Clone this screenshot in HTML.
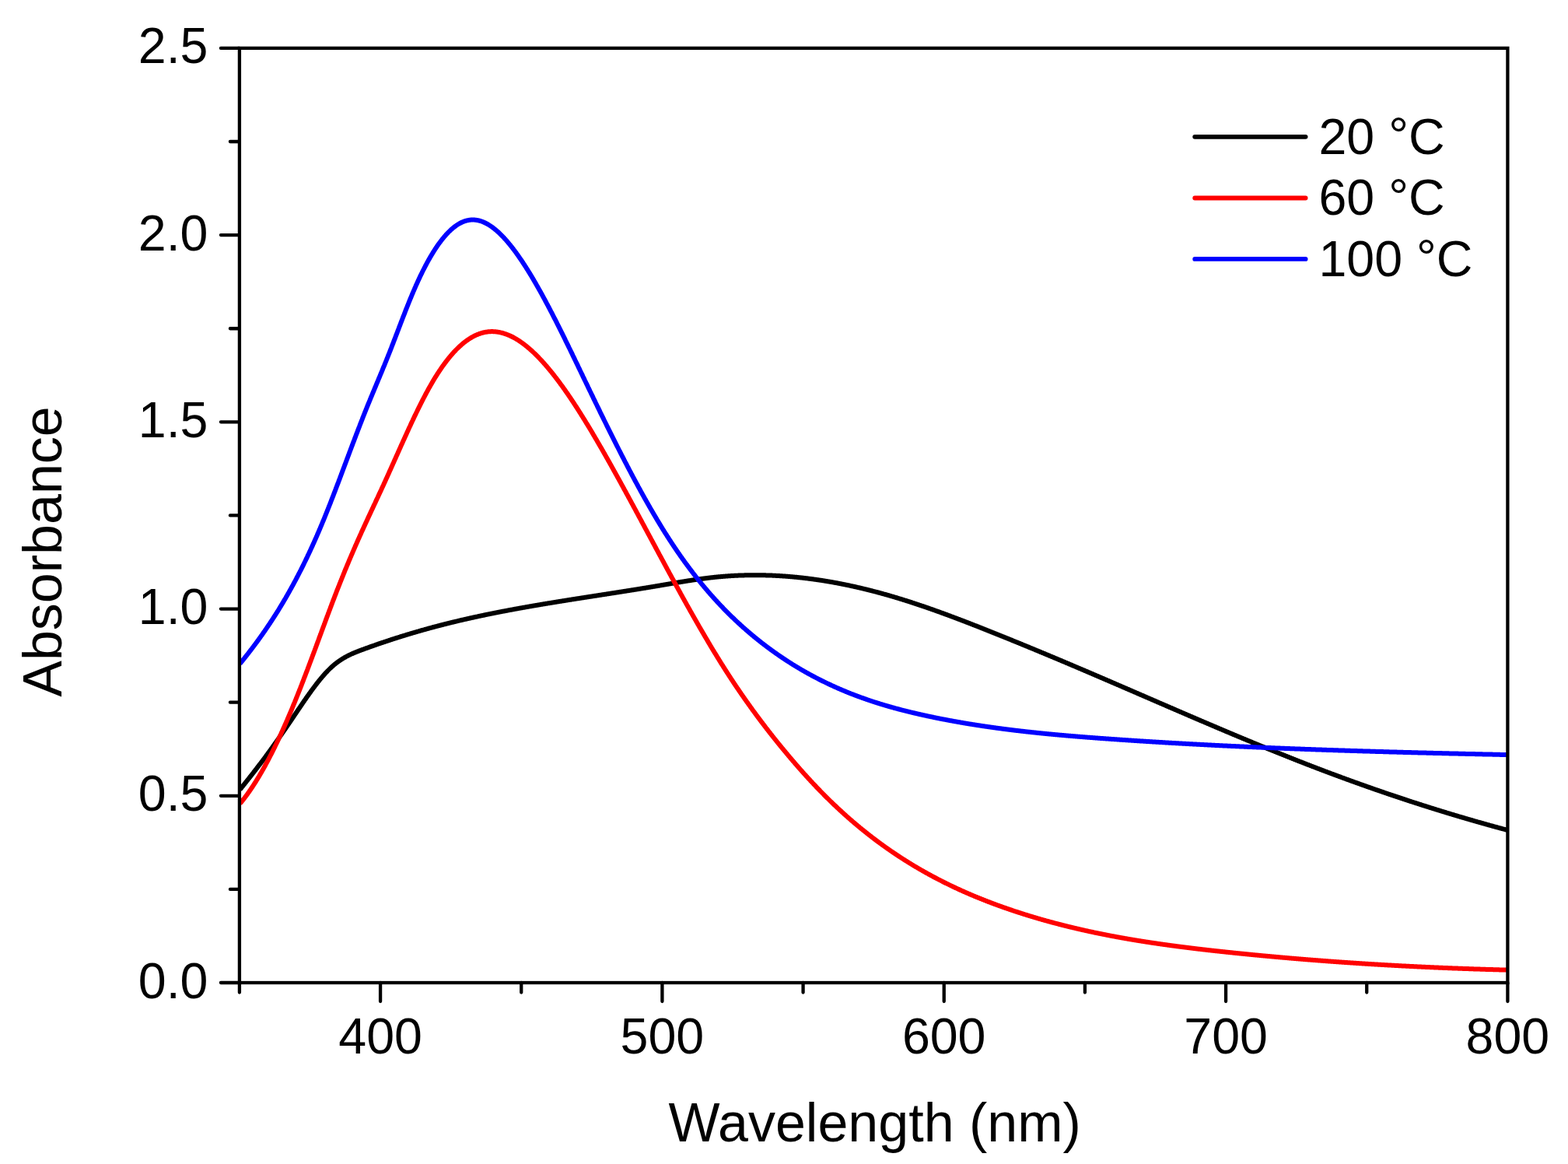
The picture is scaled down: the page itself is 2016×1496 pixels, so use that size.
<!DOCTYPE html>
<html><head><meta charset="utf-8"><title>Absorbance vs Wavelength</title>
<style>
html,body{margin:0;padding:0;background:#fff;}
svg{display:block;}
.t{font-family:"Liberation Sans",Arial,sans-serif;font-size:64.5px;fill:#000;}
.h{font-family:"Liberation Sans",Arial,sans-serif;font-size:70px;fill:#000;}
.l{font-family:"Liberation Sans",Arial,sans-serif;font-size:64.5px;fill:#000;}
</style></head>
<body>
<svg width="2016" height="1496" viewBox="0 0 2016 1496">
<rect width="2016" height="1496" fill="#fff"/>
<path d="M308.5,1014.9 309.0,1014.2 309.5,1013.6 310.0,1013.0 310.5,1012.4 311.0,1011.7 311.5,1011.1 312.0,1010.5 312.5,1009.9 313.0,1009.2 313.5,1008.6 314.0,1008.0 314.5,1007.4 315.0,1006.7 315.5,1006.1 316.0,1005.5 316.5,1004.8 317.0,1004.2 317.5,1003.6 318.0,1003.0 318.5,1002.3 319.0,1001.7 319.5,1001.1 320.0,1000.4 320.5,999.8 321.0,999.2 321.5,998.5 322.0,997.9 322.5,997.2 323.0,996.6 323.5,996.0 324.0,995.3 324.5,994.7 325.0,994.1 325.5,993.4 326.0,992.8 326.5,992.1 327.0,991.5 327.5,990.8 328.0,990.2 328.5,989.5 329.0,988.9 329.5,988.3 330.0,987.6 330.5,987.0 331.0,986.3 331.5,985.6 332.0,985.0 332.5,984.3 333.0,983.7 333.5,983.0 334.0,982.4 334.5,981.7 335.0,981.1 335.5,980.4 336.0,979.7 336.5,979.1 337.0,978.4 337.5,977.7 338.0,977.1 338.5,976.4 339.0,975.7 339.5,975.1 340.0,974.4 340.5,973.7 341.0,973.1 341.5,972.4 342.0,971.7 342.5,971.0 343.0,970.4 343.5,969.7 344.0,969.0 344.5,968.3 345.0,967.6 345.5,967.0 346.0,966.3 346.5,965.6 347.0,964.9 347.5,964.2 348.0,963.5 348.5,962.8 349.0,962.1 349.5,961.4 350.0,960.7 350.5,960.0 351.0,959.3 351.5,958.6 352.0,957.9 352.5,957.2 353.0,956.5 353.5,955.8 354.0,955.1 354.5,954.4 355.0,953.7 355.5,953.0 356.0,952.3 356.5,951.6 357.0,950.9 357.5,950.1 358.0,949.4 358.5,948.7 359.0,948.0 359.5,947.3 360.0,946.6 360.5,945.8 361.0,945.1 361.5,944.4 362.0,943.7 362.5,943.0 363.0,942.2 363.5,941.5 364.0,940.8 364.5,940.1 365.0,939.3 365.5,938.6 366.0,937.9 366.5,937.2 367.0,936.4 367.5,935.7 368.0,935.0 368.5,934.2 369.0,933.5 369.5,932.8 370.0,932.0 370.5,931.3 371.0,930.6 371.5,929.8 372.0,929.1 372.5,928.4 373.0,927.6 373.5,926.9 374.0,926.1 374.5,925.4 375.0,924.7 375.5,923.9 376.0,923.2 376.5,922.4 377.0,921.7 377.5,921.0 378.0,920.2 378.5,919.5 379.0,918.7 379.5,918.0 380.0,917.3 380.5,916.5 381.0,915.8 381.5,915.0 382.0,914.3 382.5,913.6 383.0,912.8 383.5,912.1 384.0,911.3 384.5,910.6 385.0,909.9 385.5,909.1 386.0,908.4 386.5,907.6 387.0,906.9 387.5,906.2 388.0,905.4 388.5,904.7 389.0,904.0 389.5,903.2 390.0,902.5 390.5,901.8 391.0,901.1 391.5,900.3 392.0,899.6 392.5,898.9 393.0,898.2 393.5,897.5 394.0,896.7 394.5,896.0 395.0,895.3 395.5,894.6 396.0,893.9 396.5,893.2 397.0,892.5 397.5,891.8 398.0,891.1 398.5,890.4 399.0,889.7 399.5,889.0 400.0,888.3 400.5,887.6 401.0,886.9 401.5,886.3 402.0,885.6 402.5,884.9 403.0,884.2 403.5,883.6 404.0,882.9 404.5,882.2 405.0,881.6 405.5,880.9 406.0,880.3 406.5,879.6 407.0,879.0 407.5,878.3 408.0,877.7 408.5,877.0 409.0,876.4 409.5,875.8 410.0,875.2 410.5,874.5 411.0,873.9 411.5,873.3 412.0,872.7 412.5,872.1 413.0,871.5 413.5,870.9 414.0,870.3 414.5,869.7 415.0,869.1 415.5,868.6 416.0,868.0 416.5,867.4 417.0,866.9 417.5,866.3 418.0,865.7 418.5,865.2 419.0,864.7 419.5,864.1 420.0,863.6 420.5,863.1 421.0,862.5 421.5,862.0 422.0,861.5 422.5,861.0 423.0,860.5 423.5,860.0 424.0,859.5 424.5,859.0 425.0,858.6 425.5,858.1 426.0,857.6 426.5,857.2 427.0,856.7 427.5,856.3 428.0,855.8 428.5,855.4 429.0,854.9 429.5,854.5 430.0,854.1 430.5,853.7 431.0,853.3 431.5,852.9 432.0,852.5 432.5,852.1 433.0,851.7 433.5,851.4 434.0,851.0 434.5,850.6 435.0,850.3 435.5,849.9 436.0,849.5 436.5,849.2 437.0,848.9 437.5,848.5 438.0,848.2 438.5,847.9 439.0,847.5 439.5,847.2 440.0,846.9 440.5,846.6 441.0,846.3 441.5,846.0 442.0,845.7 442.5,845.4 443.0,845.1 443.5,844.8 444.0,844.6 444.5,844.3 445.0,844.0 445.5,843.7 446.0,843.5 446.5,843.2 447.0,843.0 447.5,842.7 448.0,842.4 448.5,842.2 449.0,842.0 449.5,841.7 450.0,841.5 450.5,841.2 451.0,841.0 451.5,840.8 452.0,840.5 452.5,840.3 453.0,840.1 453.5,839.9 454.0,839.7 454.5,839.4 455.0,839.2 455.5,839.0 456.0,838.8 456.5,838.6 457.0,838.4 457.5,838.2 458.0,838.0 458.5,837.8 459.0,837.6 459.5,837.4 460.0,837.2 460.5,837.0 461.0,836.8 461.5,836.6 462.0,836.4 462.5,836.2 463.0,836.0 463.5,835.8 464.0,835.7 464.5,835.5 465.0,835.3 465.5,835.1 466.0,834.9 466.5,834.7 467.0,834.6 467.5,834.4 468.0,834.2 468.5,834.0 469.0,833.8 469.5,833.6 470.0,833.5 470.5,833.3 471.0,833.1 471.5,832.9 472.0,832.7 472.5,832.6 473.0,832.4 473.5,832.2 474.0,832.0 474.5,831.8 475.0,831.7 475.5,831.5 476.0,831.3 476.5,831.1 477.0,830.9 477.5,830.8 478.0,830.6 478.5,830.4 479.0,830.2 479.5,830.1 480.0,829.9 480.5,829.7 481.0,829.5 481.5,829.4 482.0,829.2 482.5,829.0 483.0,828.8 483.5,828.7 484.0,828.5 484.5,828.3 485.0,828.1 485.5,828.0 486.0,827.8 486.5,827.6 487.0,827.4 487.5,827.3 488.0,827.1 488.5,826.9 489.0,826.8 489.5,826.6 490.0,826.4 490.5,826.3 491.0,826.1 491.5,825.9 492.0,825.7 492.5,825.6 493.0,825.4 493.5,825.2 494.0,825.1 494.5,824.9 495.0,824.7 495.5,824.6 496.0,824.4 496.5,824.2 497.0,824.1 497.5,823.9 498.0,823.7 498.5,823.6 499.0,823.4 499.5,823.2 500.0,823.1 500.5,822.9 501.0,822.7 501.5,822.6 502.0,822.4 502.5,822.3 503.0,822.1 503.5,821.9 504.0,821.8 504.5,821.6 505.0,821.4 505.5,821.3 506.0,821.1 506.5,821.0 507.0,820.8 507.5,820.6 508.0,820.5 508.5,820.3 509.0,820.2 509.5,820.0 510.0,819.8 510.5,819.7 511.0,819.5 511.5,819.4 512.0,819.2 512.5,819.0 513.0,818.9 513.5,818.7 514.0,818.6 514.5,818.4 515.0,818.3 515.5,818.1 516.0,817.9 516.5,817.8 517.0,817.6 517.5,817.5 518.0,817.3 518.5,817.2 519.0,817.0 519.5,816.9 520.0,816.7 520.5,816.6 521.0,816.4 521.5,816.2 522.0,816.1 522.5,815.9 523.0,815.8 523.5,815.6 524.0,815.5 524.5,815.3 525.0,815.2 525.5,815.0 526.0,814.9 526.5,814.7 527.0,814.6 527.5,814.4 528.0,814.3 528.5,814.1 529.0,814.0 529.5,813.8 530.0,813.7 530.5,813.5 531.0,813.4 531.5,813.2 532.0,813.1 532.5,813.0 533.0,812.8 533.5,812.7 534.0,812.5 534.5,812.4 535.0,812.2 535.5,812.1 536.0,811.9 536.5,811.8 537.0,811.6 537.5,811.5 538.0,811.4 538.5,811.2 539.0,811.1 539.5,810.9 540.0,810.8 540.5,810.6 541.0,810.5 541.5,810.3 542.0,810.2 542.5,810.1 543.0,809.9 543.5,809.8 544.0,809.6 544.5,809.5 545.0,809.4 545.5,809.2 546.0,809.1 546.5,808.9 547.0,808.8 547.5,808.7 548.0,808.5 548.5,808.4 549.0,808.2 549.5,808.1 550.0,808.0 550.5,807.8 551.0,807.7 551.5,807.6 552.0,807.4 552.5,807.3 553.0,807.1 553.5,807.0 554.0,806.9 554.5,806.7 555.0,806.6 555.5,806.5 556.0,806.3 556.5,806.2 557.0,806.1 557.5,805.9 558.0,805.8 558.5,805.7 559.0,805.5 559.5,805.4 560.0,805.3 560.5,805.1 561.0,805.0 561.5,804.9 562.0,804.7 562.5,804.6 563.0,804.5 563.5,804.3 564.0,804.2 564.5,804.1 565.0,804.0 565.5,803.8 566.0,803.7 566.5,803.6 567.0,803.4 567.5,803.3 568.0,803.2 568.5,803.1 569.0,802.9 569.5,802.8 570.0,802.7 570.5,802.5 571.0,802.4 571.5,802.3 572.0,802.2 572.5,802.0 573.0,801.9 573.5,801.8 574.0,801.7 574.5,801.5 575.0,801.4 575.5,801.3 576.0,801.2 576.5,801.0 577.0,800.9 577.5,800.8 578.0,800.7 578.5,800.5 579.0,800.4 579.5,800.3 580.0,800.2 580.5,800.0 581.0,799.9 581.5,799.8 582.0,799.7 582.5,799.6 583.0,799.4 583.5,799.3 584.0,799.2 584.5,799.1 585.0,799.0 585.5,798.8 586.0,798.7 586.5,798.6 587.0,798.5 587.5,798.4 588.0,798.2 588.5,798.1 589.0,798.0 589.5,797.9 590.0,797.8 590.5,797.6 591.0,797.5 591.5,797.4 592.0,797.3 592.5,797.2 593.0,797.1 593.5,796.9 594.0,796.8 594.5,796.7 595.0,796.6 595.5,796.5 596.0,796.4 596.5,796.3 597.0,796.1 597.5,796.0 598.0,795.9 598.5,795.8 599.0,795.7 599.5,795.6 600.0,795.5 600.5,795.3 601.0,795.2 601.5,795.1 602.0,795.0 602.5,794.9 603.0,794.8 603.5,794.7 604.0,794.6 604.5,794.4 605.0,794.3 605.5,794.2 606.0,794.1 606.5,794.0 607.0,793.9 607.5,793.8 608.0,793.7 608.5,793.6 609.0,793.4 609.5,793.3 610.0,793.2 610.5,793.1 611.0,793.0 611.5,792.9 612.0,792.8 612.5,792.7 613.0,792.6 613.5,792.5 614.0,792.4 614.5,792.2 615.0,792.1 615.5,792.0 616.0,791.9 616.5,791.8 617.0,791.7 617.5,791.6 618.0,791.5 618.5,791.4 619.0,791.3 619.5,791.2 620.0,791.1 620.5,791.0 621.0,790.9 621.5,790.8 622.0,790.7 622.5,790.6 623.0,790.4 623.5,790.3 624.0,790.2 624.5,790.1 625.0,790.0 625.5,789.9 626.0,789.8 626.5,789.7 627.0,789.6 627.5,789.5 628.0,789.4 628.5,789.3 629.0,789.2 629.5,789.1 630.0,789.0 630.5,788.9 631.0,788.8 631.5,788.7 632.0,788.6 632.5,788.5 633.0,788.4 633.5,788.3 634.0,788.2 634.5,788.1 635.0,788.0 635.5,787.9 636.0,787.8 636.5,787.7 637.0,787.6 637.5,787.5 638.0,787.4 638.5,787.3 639.0,787.2 639.5,787.1 640.0,787.0 640.5,786.9 641.0,786.8 641.5,786.7 642.0,786.6 642.5,786.5 643.0,786.4 643.5,786.3 644.0,786.2 644.5,786.1 645.0,786.0 645.5,785.9 646.0,785.8 646.5,785.7 647.0,785.6 647.5,785.5 648.0,785.4 648.5,785.4 649.0,785.3 649.5,785.2 650.0,785.1 650.5,785.0 651.0,784.9 651.5,784.8 652.0,784.7 652.5,784.6 653.0,784.5 653.5,784.4 654.0,784.3 654.5,784.2 655.0,784.1 655.5,784.0 656.0,783.9 656.5,783.8 657.0,783.7 657.5,783.7 658.0,783.6 658.5,783.5 659.0,783.4 659.5,783.3 660.0,783.2 660.5,783.1 661.0,783.0 661.5,782.9 662.0,782.8 662.5,782.7 663.0,782.6 663.5,782.5 664.0,782.5 664.5,782.4 665.0,782.3 665.5,782.2 666.0,782.1 666.5,782.0 667.0,781.9 667.5,781.8 668.0,781.7 668.5,781.6 669.0,781.5 669.5,781.5 670.0,781.4 670.5,781.3 671.0,781.2 671.5,781.1 672.0,781.0 672.5,780.9 673.0,780.8 673.5,780.7 674.0,780.7 674.5,780.6 675.0,780.5 675.5,780.4 676.0,780.3 676.5,780.2 677.0,780.1 677.5,780.0 678.0,779.9 678.5,779.9 679.0,779.8 679.5,779.7 680.0,779.6 680.5,779.5 681.0,779.4 681.5,779.3 682.0,779.2 682.5,779.2 683.0,779.1 683.5,779.0 684.0,778.9 684.5,778.8 685.0,778.7 685.5,778.6 686.0,778.6 686.5,778.5 687.0,778.4 687.5,778.3 688.0,778.2 688.5,778.1 689.0,778.0 689.5,778.0 690.0,777.9 690.5,777.8 691.0,777.7 691.5,777.6 692.0,777.5 692.5,777.4 693.0,777.4 693.5,777.3 694.0,777.2 694.5,777.1 695.0,777.0 695.5,776.9 696.0,776.8 696.5,776.8 697.0,776.7 697.5,776.6 698.0,776.5 698.5,776.4 699.0,776.3 699.5,776.3 700.0,776.2 700.5,776.1 701.0,776.0 701.5,775.9 702.0,775.8 702.5,775.8 703.0,775.7 703.5,775.6 704.0,775.5 704.5,775.4 705.0,775.3 705.5,775.3 706.0,775.2 706.5,775.1 707.0,775.0 707.5,774.9 708.0,774.9 708.5,774.8 709.0,774.7 709.5,774.6 710.0,774.5 710.5,774.4 711.0,774.4 711.5,774.3 712.0,774.2 712.5,774.1 713.0,774.0 713.5,774.0 714.0,773.9 714.5,773.8 715.0,773.7 715.5,773.6 716.0,773.5 716.5,773.5 717.0,773.4 717.5,773.3 718.0,773.2 718.5,773.1 719.0,773.1 719.5,773.0 720.0,772.9 720.5,772.8 721.0,772.7 721.5,772.7 722.0,772.6 722.5,772.5 723.0,772.4 723.5,772.3 724.0,772.3 724.5,772.2 725.0,772.1 725.5,772.0 726.0,771.9 726.5,771.9 727.0,771.8 727.5,771.7 728.0,771.6 728.5,771.5 729.0,771.5 729.5,771.4 730.0,771.3 730.5,771.2 731.0,771.1 731.5,771.1 732.0,771.0 732.5,770.9 733.0,770.8 733.5,770.7 734.0,770.7 734.5,770.6 735.0,770.5 735.5,770.4 736.0,770.3 736.5,770.3 737.0,770.2 737.5,770.1 738.0,770.0 738.5,770.0 739.0,769.9 739.5,769.8 740.0,769.7 740.5,769.6 741.0,769.6 741.5,769.5 742.0,769.4 742.5,769.3 743.0,769.2 743.5,769.2 744.0,769.1 744.5,769.0 745.0,768.9 745.5,768.9 746.0,768.8 746.5,768.7 747.0,768.6 747.5,768.5 748.0,768.5 748.5,768.4 749.0,768.3 749.5,768.2 750.0,768.2 750.5,768.1 751.0,768.0 751.5,767.9 752.0,767.8 752.5,767.8 753.0,767.7 753.5,767.6 754.0,767.5 754.5,767.5 755.0,767.4 755.5,767.3 756.0,767.2 756.5,767.1 757.0,767.1 757.5,767.0 758.0,766.9 758.5,766.8 759.0,766.8 759.5,766.7 760.0,766.6 760.5,766.5 761.0,766.4 761.5,766.4 762.0,766.3 762.5,766.2 763.0,766.1 763.5,766.1 764.0,766.0 764.5,765.9 765.0,765.8 765.5,765.7 766.0,765.7 766.5,765.6 767.0,765.5 767.5,765.4 768.0,765.4 768.5,765.3 769.0,765.2 769.5,765.1 770.0,765.0 770.5,765.0 771.0,764.9 771.5,764.8 772.0,764.7 772.5,764.7 773.0,764.6 773.5,764.5 774.0,764.4 774.5,764.3 775.0,764.3 775.5,764.2 776.0,764.1 776.5,764.0 777.0,764.0 777.5,763.9 778.0,763.8 778.5,763.7 779.0,763.7 779.5,763.6 780.0,763.5 780.5,763.4 781.0,763.3 781.5,763.3 782.0,763.2 782.5,763.1 783.0,763.0 783.5,763.0 784.0,762.9 784.5,762.8 785.0,762.7 785.5,762.6 786.0,762.6 786.5,762.5 787.0,762.4 787.5,762.3 788.0,762.3 788.5,762.2 789.0,762.1 789.5,762.0 790.0,761.9 790.5,761.9 791.0,761.8 791.5,761.7 792.0,761.6 792.5,761.5 793.0,761.5 793.5,761.4 794.0,761.3 794.5,761.2 795.0,761.2 795.5,761.1 796.0,761.0 796.5,760.9 797.0,760.8 797.5,760.8 798.0,760.7 798.5,760.6 799.0,760.5 799.5,760.5 800.0,760.4 800.5,760.3 801.0,760.2 801.5,760.1 802.0,760.1 802.5,760.0 803.0,759.9 803.5,759.8 804.0,759.7 804.5,759.7 805.0,759.6 805.5,759.5 806.0,759.4 806.5,759.3 807.0,759.3 807.5,759.2 808.0,759.1 808.5,759.0 809.0,759.0 809.5,758.9 810.0,758.8 810.5,758.7 811.0,758.6 811.5,758.6 812.0,758.5 812.5,758.4 813.0,758.3 813.5,758.2 814.0,758.2 814.5,758.1 815.0,758.0 815.5,757.9 816.0,757.8 816.5,757.8 817.0,757.7 817.5,757.6 818.0,757.5 818.5,757.4 819.0,757.4 819.5,757.3 820.0,757.2 820.5,757.1 821.0,757.0 821.5,757.0 822.0,756.9 822.5,756.8 823.0,756.7 823.5,756.6 824.0,756.5 824.5,756.5 825.0,756.4 825.5,756.3 826.0,756.2 826.5,756.1 827.0,756.1 827.5,756.0 828.0,755.9 828.5,755.8 829.0,755.7 829.5,755.7 830.0,755.6 830.5,755.5 831.0,755.4 831.5,755.3 832.0,755.2 832.5,755.2 833.0,755.1 833.5,755.0 834.0,754.9 834.5,754.8 835.0,754.7 835.5,754.7 836.0,754.6 836.5,754.5 837.0,754.4 837.5,754.3 838.0,754.2 838.5,754.2 839.0,754.1 839.5,754.0 840.0,753.9 840.5,753.8 841.0,753.7 841.5,753.7 842.0,753.6 842.5,753.5 843.0,753.4 843.5,753.3 844.0,753.2 844.5,753.2 845.0,753.1 845.5,753.0 846.0,752.9 846.5,752.8 847.0,752.7 847.5,752.7 848.0,752.6 848.5,752.5 849.0,752.4 849.5,752.3 850.0,752.2 850.5,752.1 851.0,752.1 851.5,752.0 852.0,751.9 852.5,751.8 853.0,751.7 853.5,751.6 854.0,751.5 854.5,751.5 855.0,751.4 855.5,751.3 856.0,751.2 856.5,751.1 857.0,751.0 857.5,750.9 858.0,750.9 858.5,750.8 859.0,750.7 859.5,750.6 860.0,750.5 860.5,750.4 861.0,750.4 861.5,750.3 862.0,750.2 862.5,750.1 863.0,750.0 863.5,749.9 864.0,749.8 864.5,749.8 865.0,749.7 865.5,749.6 866.0,749.5 866.5,749.4 867.0,749.3 867.5,749.3 868.0,749.2 868.5,749.1 869.0,749.0 869.5,748.9 870.0,748.8 870.5,748.7 871.0,748.7 871.5,748.6 872.0,748.5 872.5,748.4 873.0,748.3 873.5,748.2 874.0,748.2 874.5,748.1 875.0,748.0 875.5,747.9 876.0,747.8 876.5,747.8 877.0,747.7 877.5,747.6 878.0,747.5 878.5,747.4 879.0,747.4 879.5,747.3 880.0,747.2 880.5,747.1 881.0,747.0 881.5,746.9 882.0,746.9 882.5,746.8 883.0,746.7 883.5,746.6 884.0,746.6 884.5,746.5 885.0,746.4 885.5,746.3 886.0,746.2 886.5,746.2 887.0,746.1 887.5,746.0 888.0,745.9 888.5,745.9 889.0,745.8 889.5,745.7 890.0,745.6 890.5,745.6 891.0,745.5 891.5,745.4 892.0,745.3 892.5,745.3 893.0,745.2 893.5,745.1 894.0,745.0 894.5,745.0 895.0,744.9 895.5,744.8 896.0,744.7 896.5,744.7 897.0,744.6 897.5,744.5 898.0,744.5 898.5,744.4 899.0,744.3 899.5,744.2 900.0,744.2 900.5,744.1 901.0,744.0 901.5,744.0 902.0,743.9 902.5,743.8 903.0,743.8 903.5,743.7 904.0,743.6 904.5,743.6 905.0,743.5 905.5,743.4 906.0,743.4 906.5,743.3 907.0,743.2 907.5,743.2 908.0,743.1 908.5,743.1 909.0,743.0 909.5,742.9 910.0,742.9 910.5,742.8 911.0,742.8 911.5,742.7 912.0,742.6 912.5,742.6 913.0,742.5 913.5,742.5 914.0,742.4 914.5,742.3 915.0,742.3 915.5,742.2 916.0,742.2 916.5,742.1 917.0,742.1 917.5,742.0 918.0,742.0 918.5,741.9 919.0,741.8 919.5,741.8 920.0,741.7 920.5,741.7 921.0,741.6 921.5,741.6 922.0,741.5 922.5,741.5 923.0,741.4 923.5,741.4 924.0,741.3 924.5,741.3 925.0,741.3 925.5,741.2 926.0,741.2 926.5,741.1 927.0,741.1 927.5,741.0 928.0,741.0 928.5,740.9 929.0,740.9 929.5,740.9 930.0,740.8 930.5,740.8 931.0,740.7 931.5,740.7 932.0,740.7 932.5,740.6 933.0,740.6 933.5,740.5 934.0,740.5 934.5,740.5 935.0,740.4 935.5,740.4 936.0,740.4 936.5,740.3 937.0,740.3 937.5,740.3 938.0,740.2 938.5,740.2 939.0,740.2 939.5,740.1 940.0,740.1 940.5,740.1 941.0,740.0 941.5,740.0 942.0,740.0 942.5,740.0 943.0,739.9 943.5,739.9 944.0,739.9 944.5,739.8 945.0,739.8 945.5,739.8 946.0,739.8 946.5,739.7 947.0,739.7 947.5,739.7 948.0,739.7 948.5,739.7 949.0,739.6 949.5,739.6 950.0,739.6 950.5,739.6 951.0,739.6 951.5,739.5 952.0,739.5 952.5,739.5 953.0,739.5 953.5,739.5 954.0,739.4 954.5,739.4 955.0,739.4 955.5,739.4 956.0,739.4 956.5,739.4 957.0,739.4 957.5,739.3 958.0,739.3 958.5,739.3 959.0,739.3 959.5,739.3 960.0,739.3 960.5,739.3 961.0,739.3 961.5,739.3 962.0,739.2 962.5,739.2 963.0,739.2 963.5,739.2 964.0,739.2 964.5,739.2 965.0,739.2 965.5,739.2 966.0,739.2 966.5,739.2 967.0,739.2 967.5,739.2 968.0,739.2 968.5,739.2 969.0,739.2 969.5,739.2 970.0,739.2 970.5,739.2 971.0,739.2 971.5,739.2 972.0,739.2 972.5,739.2 973.0,739.2 973.5,739.2 974.0,739.2 974.5,739.2 975.0,739.2 975.5,739.2 976.0,739.2 976.5,739.2 977.0,739.2 977.5,739.2 978.0,739.2 978.5,739.2 979.0,739.2 979.5,739.2 980.0,739.3 980.5,739.3 981.0,739.3 981.5,739.3 982.0,739.3 982.5,739.3 983.0,739.3 983.5,739.3 984.0,739.3 984.5,739.4 985.0,739.4 985.5,739.4 986.0,739.4 986.5,739.4 987.0,739.4 987.5,739.4 988.0,739.5 988.5,739.5 989.0,739.5 989.5,739.5 990.0,739.5 990.5,739.5 991.0,739.6 991.5,739.6 992.0,739.6 992.5,739.6 993.0,739.6 993.5,739.7 994.0,739.7 994.5,739.7 995.0,739.7 995.5,739.8 996.0,739.8 996.5,739.8 997.0,739.8 997.5,739.9 998.0,739.9 998.5,739.9 999.0,739.9 999.5,740.0 1000.0,740.0 1000.5,740.0 1001.0,740.0 1001.5,740.1 1002.0,740.1 1002.5,740.1 1003.0,740.2 1003.5,740.2 1004.0,740.2 1004.5,740.3 1005.0,740.3 1005.5,740.3 1006.0,740.4 1006.5,740.4 1007.0,740.4 1007.5,740.5 1008.0,740.5 1008.5,740.5 1009.0,740.6 1009.5,740.6 1010.0,740.6 1010.5,740.7 1011.0,740.7 1011.5,740.8 1012.0,740.8 1012.5,740.8 1013.0,740.9 1013.5,740.9 1014.0,740.9 1014.5,741.0 1015.0,741.0 1015.5,741.1 1016.0,741.1 1016.5,741.2 1017.0,741.2 1017.5,741.2 1018.0,741.3 1018.5,741.3 1019.0,741.4 1019.5,741.4 1020.0,741.5 1020.5,741.5 1021.0,741.6 1021.5,741.6 1022.0,741.7 1022.5,741.7 1023.0,741.8 1023.5,741.8 1024.0,741.8 1024.5,741.9 1025.0,741.9 1025.5,742.0 1026.0,742.1 1026.5,742.1 1027.0,742.2 1027.5,742.2 1028.0,742.3 1028.5,742.3 1029.0,742.4 1029.5,742.4 1030.0,742.5 1030.5,742.5 1031.0,742.6 1031.5,742.6 1032.0,742.7 1032.5,742.8 1033.0,742.8 1033.5,742.9 1034.0,742.9 1034.5,743.0 1035.0,743.0 1035.5,743.1 1036.0,743.2 1036.5,743.2 1037.0,743.3 1037.5,743.3 1038.0,743.4 1038.5,743.5 1039.0,743.5 1039.5,743.6 1040.0,743.7 1040.5,743.7 1041.0,743.8 1041.5,743.9 1042.0,743.9 1042.5,744.0 1043.0,744.1 1043.5,744.1 1044.0,744.2 1044.5,744.3 1045.0,744.3 1045.5,744.4 1046.0,744.5 1046.5,744.5 1047.0,744.6 1047.5,744.7 1048.0,744.7 1048.5,744.8 1049.0,744.9 1049.5,744.9 1050.0,745.0 1050.5,745.1 1051.0,745.2 1051.5,745.2 1052.0,745.3 1052.5,745.4 1053.0,745.5 1053.5,745.5 1054.0,745.6 1054.5,745.7 1055.0,745.8 1055.5,745.8 1056.0,745.9 1056.5,746.0 1057.0,746.1 1057.5,746.1 1058.0,746.2 1058.5,746.3 1059.0,746.4 1059.5,746.5 1060.0,746.5 1060.5,746.6 1061.0,746.7 1061.5,746.8 1062.0,746.9 1062.5,747.0 1063.0,747.0 1063.5,747.1 1064.0,747.2 1064.5,747.3 1065.0,747.4 1065.5,747.5 1066.0,747.5 1066.5,747.6 1067.0,747.7 1067.5,747.8 1068.0,747.9 1068.5,748.0 1069.0,748.1 1069.5,748.1 1070.0,748.2 1070.5,748.3 1071.0,748.4 1071.5,748.5 1072.0,748.6 1072.5,748.7 1073.0,748.8 1073.5,748.9 1074.0,749.0 1074.5,749.1 1075.0,749.1 1075.5,749.2 1076.0,749.3 1076.5,749.4 1077.0,749.5 1077.5,749.6 1078.0,749.7 1078.5,749.8 1079.0,749.9 1079.5,750.0 1080.0,750.1 1080.5,750.2 1081.0,750.3 1081.5,750.4 1082.0,750.5 1082.5,750.6 1083.0,750.7 1083.5,750.8 1084.0,750.9 1084.5,751.0 1085.0,751.1 1085.5,751.2 1086.0,751.3 1086.5,751.4 1087.0,751.5 1087.5,751.6 1088.0,751.7 1088.5,751.8 1089.0,751.9 1089.5,752.0 1090.0,752.1 1090.5,752.2 1091.0,752.3 1091.5,752.4 1092.0,752.5 1092.5,752.6 1093.0,752.7 1093.5,752.9 1094.0,753.0 1094.5,753.1 1095.0,753.2 1095.5,753.3 1096.0,753.4 1096.5,753.5 1097.0,753.6 1097.5,753.7 1098.0,753.8 1098.5,753.9 1099.0,754.1 1099.5,754.2 1100.0,754.3 1100.5,754.4 1101.0,754.5 1101.5,754.6 1102.0,754.7 1102.5,754.9 1103.0,755.0 1103.5,755.1 1104.0,755.2 1104.5,755.3 1105.0,755.4 1105.5,755.5 1106.0,755.7 1106.5,755.8 1107.0,755.9 1107.5,756.0 1108.0,756.1 1108.5,756.3 1109.0,756.4 1109.5,756.5 1110.0,756.6 1110.5,756.7 1111.0,756.9 1111.5,757.0 1112.0,757.1 1112.5,757.2 1113.0,757.3 1113.5,757.5 1114.0,757.6 1114.5,757.7 1115.0,757.8 1115.5,758.0 1116.0,758.1 1116.5,758.2 1117.0,758.3 1117.5,758.5 1118.0,758.6 1118.5,758.7 1119.0,758.8 1119.5,759.0 1120.0,759.1 1120.5,759.2 1121.0,759.3 1121.5,759.5 1122.0,759.6 1122.5,759.7 1123.0,759.9 1123.5,760.0 1124.0,760.1 1124.5,760.2 1125.0,760.4 1125.5,760.5 1126.0,760.6 1126.5,760.8 1127.0,760.9 1127.5,761.0 1128.0,761.2 1128.5,761.3 1129.0,761.4 1129.5,761.6 1130.0,761.7 1130.5,761.8 1131.0,762.0 1131.5,762.1 1132.0,762.3 1132.5,762.4 1133.0,762.5 1133.5,762.7 1134.0,762.8 1134.5,762.9 1135.0,763.1 1135.5,763.2 1136.0,763.4 1136.5,763.5 1137.0,763.6 1137.5,763.8 1138.0,763.9 1138.5,764.1 1139.0,764.2 1139.5,764.3 1140.0,764.5 1140.5,764.6 1141.0,764.8 1141.5,764.9 1142.0,765.0 1142.5,765.2 1143.0,765.3 1143.5,765.5 1144.0,765.6 1144.5,765.8 1145.0,765.9 1145.5,766.1 1146.0,766.2 1146.5,766.4 1147.0,766.5 1147.5,766.6 1148.0,766.8 1148.5,766.9 1149.0,767.1 1149.5,767.2 1150.0,767.4 1150.5,767.5 1151.0,767.7 1151.5,767.8 1152.0,768.0 1152.5,768.1 1153.0,768.3 1153.5,768.4 1154.0,768.6 1154.5,768.7 1155.0,768.9 1155.5,769.0 1156.0,769.2 1156.5,769.4 1157.0,769.5 1157.5,769.7 1158.0,769.8 1158.5,770.0 1159.0,770.1 1159.5,770.3 1160.0,770.4 1160.5,770.6 1161.0,770.7 1161.5,770.9 1162.0,771.1 1162.5,771.2 1163.0,771.4 1163.5,771.5 1164.0,771.7 1164.5,771.8 1165.0,772.0 1165.5,772.2 1166.0,772.3 1166.5,772.5 1167.0,772.6 1167.5,772.8 1168.0,773.0 1168.5,773.1 1169.0,773.3 1169.5,773.4 1170.0,773.6 1170.5,773.8 1171.0,773.9 1171.5,774.1 1172.0,774.3 1172.5,774.4 1173.0,774.6 1173.5,774.7 1174.0,774.9 1174.5,775.1 1175.0,775.2 1175.5,775.4 1176.0,775.6 1176.5,775.7 1177.0,775.9 1177.5,776.1 1178.0,776.2 1178.5,776.4 1179.0,776.6 1179.5,776.7 1180.0,776.9 1180.5,777.1 1181.0,777.2 1181.5,777.4 1182.0,777.6 1182.5,777.7 1183.0,777.9 1183.5,778.1 1184.0,778.2 1184.5,778.4 1185.0,778.6 1185.5,778.7 1186.0,778.9 1186.5,779.1 1187.0,779.3 1187.5,779.4 1188.0,779.6 1188.5,779.8 1189.0,779.9 1189.5,780.1 1190.0,780.3 1190.5,780.5 1191.0,780.6 1191.5,780.8 1192.0,781.0 1192.5,781.2 1193.0,781.3 1193.5,781.5 1194.0,781.7 1194.5,781.8 1195.0,782.0 1195.5,782.2 1196.0,782.4 1196.5,782.5 1197.0,782.7 1197.5,782.9 1198.0,783.1 1198.5,783.3 1199.0,783.4 1199.5,783.6 1200.0,783.8 1200.5,784.0 1201.0,784.1 1201.5,784.3 1202.0,784.5 1202.5,784.7 1203.0,784.9 1203.5,785.0 1204.0,785.2 1204.5,785.4 1205.0,785.6 1205.5,785.7 1206.0,785.9 1206.5,786.1 1207.0,786.3 1207.5,786.5 1208.0,786.6 1208.5,786.8 1209.0,787.0 1209.5,787.2 1210.0,787.4 1210.5,787.6 1211.0,787.7 1211.5,787.9 1212.0,788.1 1212.5,788.3 1213.0,788.5 1213.5,788.7 1214.0,788.8 1214.5,789.0 1215.0,789.2 1215.5,789.4 1216.0,789.6 1216.5,789.8 1217.0,789.9 1217.5,790.1 1218.0,790.3 1218.5,790.5 1219.0,790.7 1219.5,790.9 1220.0,791.0 1220.5,791.2 1221.0,791.4 1221.5,791.6 1222.0,791.8 1222.5,792.0 1223.0,792.2 1223.5,792.4 1224.0,792.5 1224.5,792.7 1225.0,792.9 1225.5,793.1 1226.0,793.3 1226.5,793.5 1227.0,793.7 1227.5,793.9 1228.0,794.0 1228.5,794.2 1229.0,794.4 1229.5,794.6 1230.0,794.8 1230.5,795.0 1231.0,795.2 1231.5,795.4 1232.0,795.6 1232.5,795.7 1233.0,795.9 1233.5,796.1 1234.0,796.3 1234.5,796.5 1235.0,796.7 1235.5,796.9 1236.0,797.1 1236.5,797.3 1237.0,797.5 1237.5,797.7 1238.0,797.8 1238.5,798.0 1239.0,798.2 1239.5,798.4 1240.0,798.6 1240.5,798.8 1241.0,799.0 1241.5,799.2 1242.0,799.4 1242.5,799.6 1243.0,799.8 1243.5,800.0 1244.0,800.2 1244.5,800.3 1245.0,800.5 1245.5,800.7 1246.0,800.9 1246.5,801.1 1247.0,801.3 1247.5,801.5 1248.0,801.7 1248.5,801.9 1249.0,802.1 1249.5,802.3 1250.0,802.5 1250.5,802.7 1251.0,802.9 1251.5,803.1 1252.0,803.3 1252.5,803.5 1253.0,803.7 1253.5,803.9 1254.0,804.0 1254.5,804.2 1255.0,804.4 1255.5,804.6 1256.0,804.8 1256.5,805.0 1257.0,805.2 1257.5,805.4 1258.0,805.6 1258.5,805.8 1259.0,806.0 1259.5,806.2 1260.0,806.4 1260.5,806.6 1261.0,806.8 1261.5,807.0 1262.0,807.2 1262.5,807.4 1263.0,807.6 1263.5,807.8 1264.0,808.0 1264.5,808.2 1265.0,808.4 1265.5,808.6 1266.0,808.8 1266.5,809.0 1267.0,809.2 1267.5,809.4 1268.0,809.6 1268.5,809.8 1269.0,810.0 1269.5,810.2 1270.0,810.4 1270.5,810.6 1271.0,810.8 1271.5,811.0 1272.0,811.2 1272.5,811.4 1273.0,811.6 1273.5,811.8 1274.0,812.0 1274.5,812.2 1275.0,812.4 1275.5,812.6 1276.0,812.8 1276.5,813.0 1277.0,813.2 1277.5,813.4 1278.0,813.6 1278.5,813.8 1279.0,814.0 1279.5,814.2 1280.0,814.4 1280.5,814.6 1281.0,814.8 1281.5,815.0 1282.0,815.2 1282.5,815.4 1283.0,815.6 1283.5,815.8 1284.0,816.0 1284.5,816.2 1285.0,816.4 1285.5,816.6 1286.0,816.8 1286.5,817.0 1287.0,817.2 1287.5,817.4 1288.0,817.6 1288.5,817.8 1289.0,818.0 1289.5,818.2 1290.0,818.4 1290.5,818.6 1291.0,818.8 1291.5,819.0 1292.0,819.2 1292.5,819.4 1293.0,819.6 1293.5,819.8 1294.0,820.0 1294.5,820.2 1295.0,820.4 1295.5,820.6 1296.0,820.8 1296.5,821.0 1297.0,821.2 1297.5,821.4 1298.0,821.6 1298.5,821.8 1299.0,822.0 1299.5,822.2 1300.0,822.4 1300.5,822.6 1301.0,822.8 1301.5,823.1 1302.0,823.3 1302.5,823.5 1303.0,823.7 1303.5,823.9 1304.0,824.1 1304.5,824.3 1305.0,824.5 1305.5,824.7 1306.0,824.9 1306.5,825.1 1307.0,825.3 1307.5,825.5 1308.0,825.7 1308.5,825.9 1309.0,826.1 1309.5,826.3 1310.0,826.5 1310.5,826.7 1311.0,826.9 1311.5,827.1 1312.0,827.3 1312.5,827.5 1313.0,827.7 1313.5,827.9 1314.0,828.2 1314.5,828.4 1315.0,828.6 1315.5,828.8 1316.0,829.0 1316.5,829.2 1317.0,829.4 1317.5,829.6 1318.0,829.8 1318.5,830.0 1319.0,830.2 1319.5,830.4 1320.0,830.6 1320.5,830.8 1321.0,831.0 1321.5,831.2 1322.0,831.4 1322.5,831.6 1323.0,831.9 1323.5,832.1 1324.0,832.3 1324.5,832.5 1325.0,832.7 1325.5,832.9 1326.0,833.1 1326.5,833.3 1327.0,833.5 1327.5,833.7 1328.0,833.9 1328.5,834.1 1329.0,834.3 1329.5,834.5 1330.0,834.7 1330.5,835.0 1331.0,835.2 1331.5,835.4 1332.0,835.6 1332.5,835.8 1333.0,836.0 1333.5,836.2 1334.0,836.4 1334.5,836.6 1335.0,836.8 1335.5,837.0 1336.0,837.2 1336.5,837.4 1337.0,837.6 1337.5,837.9 1338.0,838.1 1338.5,838.3 1339.0,838.5 1339.5,838.7 1340.0,838.9 1340.5,839.1 1341.0,839.3 1341.5,839.5 1342.0,839.7 1342.5,839.9 1343.0,840.1 1343.5,840.3 1344.0,840.6 1344.5,840.8 1345.0,841.0 1345.5,841.2 1346.0,841.4 1346.5,841.6 1347.0,841.8 1347.5,842.0 1348.0,842.2 1348.5,842.4 1349.0,842.6 1349.5,842.9 1350.0,843.1 1350.5,843.3 1351.0,843.5 1351.5,843.7 1352.0,843.9 1352.5,844.1 1353.0,844.3 1353.5,844.5 1354.0,844.7 1354.5,844.9 1355.0,845.2 1355.5,845.4 1356.0,845.6 1356.5,845.8 1357.0,846.0 1357.5,846.2 1358.0,846.4 1358.5,846.6 1359.0,846.8 1359.5,847.0 1360.0,847.3 1360.5,847.5 1361.0,847.7 1361.5,847.9 1362.0,848.1 1362.5,848.3 1363.0,848.5 1363.5,848.7 1364.0,848.9 1364.5,849.1 1365.0,849.4 1365.5,849.6 1366.0,849.8 1366.5,850.0 1367.0,850.2 1367.5,850.4 1368.0,850.6 1368.5,850.8 1369.0,851.0 1369.5,851.3 1370.0,851.5 1370.5,851.7 1371.0,851.9 1371.5,852.1 1372.0,852.3 1372.5,852.5 1373.0,852.7 1373.5,852.9 1374.0,853.2 1374.5,853.4 1375.0,853.6 1375.5,853.8 1376.0,854.0 1376.5,854.2 1377.0,854.4 1377.5,854.6 1378.0,854.8 1378.5,855.1 1379.0,855.3 1379.5,855.5 1380.0,855.7 1380.5,855.9 1381.0,856.1 1381.5,856.3 1382.0,856.5 1382.5,856.8 1383.0,857.0 1383.5,857.2 1384.0,857.4 1384.5,857.6 1385.0,857.8 1385.5,858.0 1386.0,858.2 1386.5,858.5 1387.0,858.7 1387.5,858.9 1388.0,859.1 1388.5,859.3 1389.0,859.5 1389.5,859.7 1390.0,859.9 1390.5,860.2 1391.0,860.4 1391.5,860.6 1392.0,860.8 1392.5,861.0 1393.0,861.2 1393.5,861.4 1394.0,861.6 1394.5,861.9 1395.0,862.1 1395.5,862.3 1396.0,862.5 1396.5,862.7 1397.0,862.9 1397.5,863.1 1398.0,863.4 1398.5,863.6 1399.0,863.8 1399.5,864.0 1400.0,864.2 1400.5,864.4 1401.0,864.6 1401.5,864.8 1402.0,865.1 1402.5,865.3 1403.0,865.5 1403.5,865.7 1404.0,865.9 1404.5,866.1 1405.0,866.3 1405.5,866.6 1406.0,866.8 1406.5,867.0 1407.0,867.2 1407.5,867.4 1408.0,867.6 1408.5,867.8 1409.0,868.1 1409.5,868.3 1410.0,868.5 1410.5,868.7 1411.0,868.9 1411.5,869.1 1412.0,869.3 1412.5,869.6 1413.0,869.8 1413.5,870.0 1414.0,870.2 1414.5,870.4 1415.0,870.6 1415.5,870.8 1416.0,871.1 1416.5,871.3 1417.0,871.5 1417.5,871.7 1418.0,871.9 1418.5,872.1 1419.0,872.3 1419.5,872.6 1420.0,872.8 1420.5,873.0 1421.0,873.2 1421.5,873.4 1422.0,873.6 1422.5,873.9 1423.0,874.1 1423.5,874.3 1424.0,874.5 1424.5,874.7 1425.0,874.9 1425.5,875.1 1426.0,875.4 1426.5,875.6 1427.0,875.8 1427.5,876.0 1428.0,876.2 1428.5,876.4 1429.0,876.7 1429.5,876.9 1430.0,877.1 1430.5,877.3 1431.0,877.5 1431.5,877.7 1432.0,877.9 1432.5,878.2 1433.0,878.4 1433.5,878.6 1434.0,878.8 1434.5,879.0 1435.0,879.2 1435.5,879.5 1436.0,879.7 1436.5,879.9 1437.0,880.1 1437.5,880.3 1438.0,880.5 1438.5,880.7 1439.0,881.0 1439.5,881.2 1440.0,881.4 1440.5,881.6 1441.0,881.8 1441.5,882.0 1442.0,882.3 1442.5,882.5 1443.0,882.7 1443.5,882.9 1444.0,883.1 1444.5,883.3 1445.0,883.6 1445.5,883.8 1446.0,884.0 1446.5,884.2 1447.0,884.4 1447.5,884.6 1448.0,884.8 1448.5,885.1 1449.0,885.3 1449.5,885.5 1450.0,885.7 1450.5,885.9 1451.0,886.1 1451.5,886.4 1452.0,886.6 1452.5,886.8 1453.0,887.0 1453.5,887.2 1454.0,887.4 1454.5,887.7 1455.0,887.9 1455.5,888.1 1456.0,888.3 1456.5,888.5 1457.0,888.7 1457.5,889.0 1458.0,889.2 1458.5,889.4 1459.0,889.6 1459.5,889.8 1460.0,890.0 1460.5,890.3 1461.0,890.5 1461.5,890.7 1462.0,890.9 1462.5,891.1 1463.0,891.3 1463.5,891.6 1464.0,891.8 1464.5,892.0 1465.0,892.2 1465.5,892.4 1466.0,892.6 1466.5,892.9 1467.0,893.1 1467.5,893.3 1468.0,893.5 1468.5,893.7 1469.0,893.9 1469.5,894.1 1470.0,894.4 1470.5,894.6 1471.0,894.8 1471.5,895.0 1472.0,895.2 1472.5,895.4 1473.0,895.7 1473.5,895.9 1474.0,896.1 1474.5,896.3 1475.0,896.5 1475.5,896.7 1476.0,897.0 1476.5,897.2 1477.0,897.4 1477.5,897.6 1478.0,897.8 1478.5,898.0 1479.0,898.3 1479.5,898.5 1480.0,898.7 1480.5,898.9 1481.0,899.1 1481.5,899.3 1482.0,899.6 1482.5,899.8 1483.0,900.0 1483.5,900.2 1484.0,900.4 1484.5,900.6 1485.0,900.9 1485.5,901.1 1486.0,901.3 1486.5,901.5 1487.0,901.7 1487.5,901.9 1488.0,902.2 1488.5,902.4 1489.0,902.6 1489.5,902.8 1490.0,903.0 1490.5,903.2 1491.0,903.5 1491.5,903.7 1492.0,903.9 1492.5,904.1 1493.0,904.3 1493.5,904.5 1494.0,904.7 1494.5,905.0 1495.0,905.2 1495.5,905.4 1496.0,905.6 1496.5,905.8 1497.0,906.0 1497.5,906.3 1498.0,906.5 1498.5,906.7 1499.0,906.9 1499.5,907.1 1500.0,907.3 1500.5,907.6 1501.0,907.8 1501.5,908.0 1502.0,908.2 1502.5,908.4 1503.0,908.6 1503.5,908.9 1504.0,909.1 1504.5,909.3 1505.0,909.5 1505.5,909.7 1506.0,909.9 1506.5,910.1 1507.0,910.4 1507.5,910.6 1508.0,910.8 1508.5,911.0 1509.0,911.2 1509.5,911.4 1510.0,911.7 1510.5,911.9 1511.0,912.1 1511.5,912.3 1512.0,912.5 1512.5,912.7 1513.0,913.0 1513.5,913.2 1514.0,913.4 1514.5,913.6 1515.0,913.8 1515.5,914.0 1516.0,914.2 1516.5,914.5 1517.0,914.7 1517.5,914.9 1518.0,915.1 1518.5,915.3 1519.0,915.5 1519.5,915.8 1520.0,916.0 1520.5,916.2 1521.0,916.4 1521.5,916.6 1522.0,916.8 1522.5,917.0 1523.0,917.3 1523.5,917.5 1524.0,917.7 1524.5,917.9 1525.0,918.1 1525.5,918.3 1526.0,918.5 1526.5,918.8 1527.0,919.0 1527.5,919.2 1528.0,919.4 1528.5,919.6 1529.0,919.8 1529.5,920.1 1530.0,920.3 1530.5,920.5 1531.0,920.7 1531.5,920.9 1532.0,921.1 1532.5,921.3 1533.0,921.6 1533.5,921.8 1534.0,922.0 1534.5,922.2 1535.0,922.4 1535.5,922.6 1536.0,922.8 1536.5,923.1 1537.0,923.3 1537.5,923.5 1538.0,923.7 1538.5,923.9 1539.0,924.1 1539.5,924.3 1540.0,924.6 1540.5,924.8 1541.0,925.0 1541.5,925.2 1542.0,925.4 1542.5,925.6 1543.0,925.8 1543.5,926.1 1544.0,926.3 1544.5,926.5 1545.0,926.7 1545.5,926.9 1546.0,927.1 1546.5,927.3 1547.0,927.5 1547.5,927.8 1548.0,928.0 1548.5,928.2 1549.0,928.4 1549.5,928.6 1550.0,928.8 1550.5,929.0 1551.0,929.3 1551.5,929.5 1552.0,929.7 1552.5,929.9 1553.0,930.1 1553.5,930.3 1554.0,930.5 1554.5,930.7 1555.0,931.0 1555.5,931.2 1556.0,931.4 1556.5,931.6 1557.0,931.8 1557.5,932.0 1558.0,932.2 1558.5,932.4 1559.0,932.7 1559.5,932.9 1560.0,933.1 1560.5,933.3 1561.0,933.5 1561.5,933.7 1562.0,933.9 1562.5,934.1 1563.0,934.4 1563.5,934.6 1564.0,934.8 1564.5,935.0 1565.0,935.2 1565.5,935.4 1566.0,935.6 1566.5,935.8 1567.0,936.1 1567.5,936.3 1568.0,936.5 1568.5,936.7 1569.0,936.9 1569.5,937.1 1570.0,937.3 1570.5,937.5 1571.0,937.7 1571.5,938.0 1572.0,938.2 1572.5,938.4 1573.0,938.6 1573.5,938.8 1574.0,939.0 1574.5,939.2 1575.0,939.4 1575.5,939.7 1576.0,939.9 1576.5,940.1 1577.0,940.3 1577.5,940.5 1578.0,940.7 1578.5,940.9 1579.0,941.1 1579.5,941.3 1580.0,941.5 1580.5,941.8 1581.0,942.0 1581.5,942.2 1582.0,942.4 1582.5,942.6 1583.0,942.8 1583.5,943.0 1584.0,943.2 1584.5,943.4 1585.0,943.6 1585.5,943.9 1586.0,944.1 1586.5,944.3 1587.0,944.5 1587.5,944.7 1588.0,944.9 1588.5,945.1 1589.0,945.3 1589.5,945.5 1590.0,945.7 1590.5,946.0 1591.0,946.2 1591.5,946.4 1592.0,946.6 1592.5,946.8 1593.0,947.0 1593.5,947.2 1594.0,947.4 1594.5,947.6 1595.0,947.8 1595.5,948.0 1596.0,948.2 1596.5,948.5 1597.0,948.7 1597.5,948.9 1598.0,949.1 1598.5,949.3 1599.0,949.5 1599.5,949.7 1600.0,949.9 1600.5,950.1 1601.0,950.3 1601.5,950.5 1602.0,950.7 1602.5,951.0 1603.0,951.2 1603.5,951.4 1604.0,951.6 1604.5,951.8 1605.0,952.0 1605.5,952.2 1606.0,952.4 1606.5,952.6 1607.0,952.8 1607.5,953.0 1608.0,953.2 1608.5,953.4 1609.0,953.6 1609.5,953.9 1610.0,954.1 1610.5,954.3 1611.0,954.5 1611.5,954.7 1612.0,954.9 1612.5,955.1 1613.0,955.3 1613.5,955.5 1614.0,955.7 1614.5,955.9 1615.0,956.1 1615.5,956.3 1616.0,956.5 1616.5,956.7 1617.0,956.9 1617.5,957.2 1618.0,957.4 1618.5,957.6 1619.0,957.8 1619.5,958.0 1620.0,958.2 1620.5,958.4 1621.0,958.6 1621.5,958.8 1622.0,959.0 1622.5,959.2 1623.0,959.4 1623.5,959.6 1624.0,959.8 1624.5,960.0 1625.0,960.2 1625.5,960.4 1626.0,960.6 1626.5,960.8 1627.0,961.0 1627.5,961.2 1628.0,961.5 1628.5,961.7 1629.0,961.9 1629.5,962.1 1630.0,962.3 1630.5,962.5 1631.0,962.7 1631.5,962.9 1632.0,963.1 1632.5,963.3 1633.0,963.5 1633.5,963.7 1634.0,963.9 1634.5,964.1 1635.0,964.3 1635.5,964.5 1636.0,964.7 1636.5,964.9 1637.0,965.1 1637.5,965.3 1638.0,965.5 1638.5,965.7 1639.0,965.9 1639.5,966.1 1640.0,966.3 1640.5,966.5 1641.0,966.7 1641.5,966.9 1642.0,967.1 1642.5,967.3 1643.0,967.5 1643.5,967.7 1644.0,967.9 1644.5,968.1 1645.0,968.3 1645.5,968.5 1646.0,968.7 1646.5,968.9 1647.0,969.1 1647.5,969.3 1648.0,969.5 1648.5,969.7 1649.0,969.9 1649.5,970.1 1650.0,970.3 1650.5,970.5 1651.0,970.7 1651.5,970.9 1652.0,971.1 1652.5,971.3 1653.0,971.5 1653.5,971.7 1654.0,971.9 1654.5,972.1 1655.0,972.3 1655.5,972.5 1656.0,972.7 1656.5,972.9 1657.0,973.1 1657.5,973.3 1658.0,973.5 1658.5,973.7 1659.0,973.9 1659.5,974.1 1660.0,974.3 1660.5,974.5 1661.0,974.7 1661.5,974.9 1662.0,975.1 1662.5,975.3 1663.0,975.5 1663.5,975.7 1664.0,975.9 1664.5,976.1 1665.0,976.3 1665.5,976.5 1666.0,976.7 1666.5,976.9 1667.0,977.1 1667.5,977.3 1668.0,977.5 1668.5,977.7 1669.0,977.9 1669.5,978.1 1670.0,978.3 1670.5,978.5 1671.0,978.7 1671.5,978.9 1672.0,979.0 1672.5,979.2 1673.0,979.4 1673.5,979.6 1674.0,979.8 1674.5,980.0 1675.0,980.2 1675.5,980.4 1676.0,980.6 1676.5,980.8 1677.0,981.0 1677.5,981.2 1678.0,981.4 1678.5,981.6 1679.0,981.8 1679.5,982.0 1680.0,982.2 1680.5,982.4 1681.0,982.6 1681.5,982.7 1682.0,982.9 1682.5,983.1 1683.0,983.3 1683.5,983.5 1684.0,983.7 1684.5,983.9 1685.0,984.1 1685.5,984.3 1686.0,984.5 1686.5,984.7 1687.0,984.9 1687.5,985.1 1688.0,985.3 1688.5,985.5 1689.0,985.6 1689.5,985.8 1690.0,986.0 1690.5,986.2 1691.0,986.4 1691.5,986.6 1692.0,986.8 1692.5,987.0 1693.0,987.2 1693.5,987.4 1694.0,987.6 1694.5,987.7 1695.0,987.9 1695.5,988.1 1696.0,988.3 1696.5,988.5 1697.0,988.7 1697.5,988.9 1698.0,989.1 1698.5,989.3 1699.0,989.5 1699.5,989.7 1700.0,989.8 1700.5,990.0 1701.0,990.2 1701.5,990.4 1702.0,990.6 1702.5,990.8 1703.0,991.0 1703.5,991.2 1704.0,991.4 1704.5,991.5 1705.0,991.7 1705.5,991.9 1706.0,992.1 1706.5,992.3 1707.0,992.5 1707.5,992.7 1708.0,992.9 1708.5,993.0 1709.0,993.2 1709.5,993.4 1710.0,993.6 1710.5,993.8 1711.0,994.0 1711.5,994.2 1712.0,994.4 1712.5,994.5 1713.0,994.7 1713.5,994.9 1714.0,995.1 1714.5,995.3 1715.0,995.5 1715.5,995.7 1716.0,995.8 1716.5,996.0 1717.0,996.2 1717.5,996.4 1718.0,996.6 1718.5,996.8 1719.0,997.0 1719.5,997.1 1720.0,997.3 1720.5,997.5 1721.0,997.7 1721.5,997.9 1722.0,998.1 1722.5,998.3 1723.0,998.4 1723.5,998.6 1724.0,998.8 1724.5,999.0 1725.0,999.2 1725.5,999.4 1726.0,999.5 1726.5,999.7 1727.0,999.9 1727.5,1000.1 1728.0,1000.3 1728.5,1000.5 1729.0,1000.6 1729.5,1000.8 1730.0,1001.0 1730.5,1001.2 1731.0,1001.4 1731.5,1001.6 1732.0,1001.7 1732.5,1001.9 1733.0,1002.1 1733.5,1002.3 1734.0,1002.5 1734.5,1002.6 1735.0,1002.8 1735.5,1003.0 1736.0,1003.2 1736.5,1003.4 1737.0,1003.6 1737.5,1003.7 1738.0,1003.9 1738.5,1004.1 1739.0,1004.3 1739.5,1004.5 1740.0,1004.6 1740.5,1004.8 1741.0,1005.0 1741.5,1005.2 1742.0,1005.4 1742.5,1005.5 1743.0,1005.7 1743.5,1005.9 1744.0,1006.1 1744.5,1006.3 1745.0,1006.4 1745.5,1006.6 1746.0,1006.8 1746.5,1007.0 1747.0,1007.1 1747.5,1007.3 1748.0,1007.5 1748.5,1007.7 1749.0,1007.9 1749.5,1008.0 1750.0,1008.2 1750.5,1008.4 1751.0,1008.6 1751.5,1008.8 1752.0,1008.9 1752.5,1009.1 1753.0,1009.3 1753.5,1009.5 1754.0,1009.6 1754.5,1009.8 1755.0,1010.0 1755.5,1010.2 1756.0,1010.3 1756.5,1010.5 1757.0,1010.7 1757.5,1010.9 1758.0,1011.1 1758.5,1011.2 1759.0,1011.4 1759.5,1011.6 1760.0,1011.8 1760.5,1011.9 1761.0,1012.1 1761.5,1012.3 1762.0,1012.5 1762.5,1012.6 1763.0,1012.8 1763.5,1013.0 1764.0,1013.2 1764.5,1013.3 1765.0,1013.5 1765.5,1013.7 1766.0,1013.9 1766.5,1014.0 1767.0,1014.2 1767.5,1014.4 1768.0,1014.6 1768.5,1014.7 1769.0,1014.9 1769.5,1015.1 1770.0,1015.2 1770.5,1015.4 1771.0,1015.6 1771.5,1015.8 1772.0,1015.9 1772.5,1016.1 1773.0,1016.3 1773.5,1016.5 1774.0,1016.6 1774.5,1016.8 1775.0,1017.0 1775.5,1017.1 1776.0,1017.3 1776.5,1017.5 1777.0,1017.7 1777.5,1017.8 1778.0,1018.0 1778.5,1018.2 1779.0,1018.3 1779.5,1018.5 1780.0,1018.7 1780.5,1018.9 1781.0,1019.0 1781.5,1019.2 1782.0,1019.4 1782.5,1019.5 1783.0,1019.7 1783.5,1019.9 1784.0,1020.1 1784.5,1020.2 1785.0,1020.4 1785.5,1020.6 1786.0,1020.7 1786.5,1020.9 1787.0,1021.1 1787.5,1021.2 1788.0,1021.4 1788.5,1021.6 1789.0,1021.8 1789.5,1021.9 1790.0,1022.1 1790.5,1022.3 1791.0,1022.4 1791.5,1022.6 1792.0,1022.8 1792.5,1022.9 1793.0,1023.1 1793.5,1023.3 1794.0,1023.4 1794.5,1023.6 1795.0,1023.8 1795.5,1023.9 1796.0,1024.1 1796.5,1024.3 1797.0,1024.4 1797.5,1024.6 1798.0,1024.8 1798.5,1024.9 1799.0,1025.1 1799.5,1025.3 1800.0,1025.4 1800.5,1025.6 1801.0,1025.8 1801.5,1025.9 1802.0,1026.1 1802.5,1026.3 1803.0,1026.4 1803.5,1026.6 1804.0,1026.8 1804.5,1026.9 1805.0,1027.1 1805.5,1027.3 1806.0,1027.4 1806.5,1027.6 1807.0,1027.8 1807.5,1027.9 1808.0,1028.1 1808.5,1028.3 1809.0,1028.4 1809.5,1028.6 1810.0,1028.7 1810.5,1028.9 1811.0,1029.1 1811.5,1029.2 1812.0,1029.4 1812.5,1029.6 1813.0,1029.7 1813.5,1029.9 1814.0,1030.1 1814.5,1030.2 1815.0,1030.4 1815.5,1030.5 1816.0,1030.7 1816.5,1030.9 1817.0,1031.0 1817.5,1031.2 1818.0,1031.4 1818.5,1031.5 1819.0,1031.7 1819.5,1031.8 1820.0,1032.0 1820.5,1032.2 1821.0,1032.3 1821.5,1032.5 1822.0,1032.6 1822.5,1032.8 1823.0,1033.0 1823.5,1033.1 1824.0,1033.3 1824.5,1033.5 1825.0,1033.6 1825.5,1033.8 1826.0,1033.9 1826.5,1034.1 1827.0,1034.3 1827.5,1034.4 1828.0,1034.6 1828.5,1034.7 1829.0,1034.9 1829.5,1035.1 1830.0,1035.2 1830.5,1035.4 1831.0,1035.5 1831.5,1035.7 1832.0,1035.8 1832.5,1036.0 1833.0,1036.2 1833.5,1036.3 1834.0,1036.5 1834.5,1036.6 1835.0,1036.8 1835.5,1037.0 1836.0,1037.1 1836.5,1037.3 1837.0,1037.4 1837.5,1037.6 1838.0,1037.7 1838.5,1037.9 1839.0,1038.1 1839.5,1038.2 1840.0,1038.4 1840.5,1038.5 1841.0,1038.7 1841.5,1038.8 1842.0,1039.0 1842.5,1039.2 1843.0,1039.3 1843.5,1039.5 1844.0,1039.6 1844.5,1039.8 1845.0,1039.9 1845.5,1040.1 1846.0,1040.2 1846.5,1040.4 1847.0,1040.6 1847.5,1040.7 1848.0,1040.9 1848.5,1041.0 1849.0,1041.2 1849.5,1041.3 1850.0,1041.5 1850.5,1041.6 1851.0,1041.8 1851.5,1042.0 1852.0,1042.1 1852.5,1042.3 1853.0,1042.4 1853.5,1042.6 1854.0,1042.7 1854.5,1042.9 1855.0,1043.0 1855.5,1043.2 1856.0,1043.3 1856.5,1043.5 1857.0,1043.6 1857.5,1043.8 1858.0,1043.9 1858.5,1044.1 1859.0,1044.3 1859.5,1044.4 1860.0,1044.6 1860.5,1044.7 1861.0,1044.9 1861.5,1045.0 1862.0,1045.2 1862.5,1045.3 1863.0,1045.5 1863.5,1045.6 1864.0,1045.8 1864.5,1045.9 1865.0,1046.1 1865.5,1046.2 1866.0,1046.4 1866.5,1046.5 1867.0,1046.7 1867.5,1046.8 1868.0,1047.0 1868.5,1047.1 1869.0,1047.3 1869.5,1047.4 1870.0,1047.6 1870.5,1047.7 1871.0,1047.9 1871.5,1048.0 1872.0,1048.2 1872.5,1048.3 1873.0,1048.5 1873.5,1048.6 1874.0,1048.8 1874.5,1048.9 1875.0,1049.1 1875.5,1049.2 1876.0,1049.4 1876.5,1049.5 1877.0,1049.7 1877.5,1049.8 1878.0,1050.0 1878.5,1050.1 1879.0,1050.3 1879.5,1050.4 1880.0,1050.6 1880.5,1050.7 1881.0,1050.8 1881.5,1051.0 1882.0,1051.1 1882.5,1051.3 1883.0,1051.4 1883.5,1051.6 1884.0,1051.7 1884.5,1051.9 1885.0,1052.0 1885.5,1052.2 1886.0,1052.3 1886.5,1052.5 1887.0,1052.6 1887.5,1052.7 1888.0,1052.9 1888.5,1053.0 1889.0,1053.2 1889.5,1053.3 1890.0,1053.5 1890.5,1053.6 1891.0,1053.8 1891.5,1053.9 1892.0,1054.1 1892.5,1054.2 1893.0,1054.3 1893.5,1054.5 1894.0,1054.6 1894.5,1054.8 1895.0,1054.9 1895.5,1055.1 1896.0,1055.2 1896.5,1055.4 1897.0,1055.5 1897.5,1055.6 1898.0,1055.8 1898.5,1055.9 1899.0,1056.1 1899.5,1056.2 1900.0,1056.4 1900.5,1056.5 1901.0,1056.6 1901.5,1056.8 1902.0,1056.9 1902.5,1057.1 1903.0,1057.2 1903.5,1057.3 1904.0,1057.5 1904.5,1057.6 1905.0,1057.8 1905.5,1057.9 1906.0,1058.1 1906.5,1058.2 1907.0,1058.3 1907.5,1058.5 1908.0,1058.6 1908.5,1058.8 1909.0,1058.9 1909.5,1059.0 1910.0,1059.2 1910.5,1059.3 1911.0,1059.5 1911.5,1059.6 1912.0,1059.7 1912.5,1059.9 1913.0,1060.0 1913.5,1060.2 1914.0,1060.3 1914.5,1060.4 1915.0,1060.6 1915.5,1060.7 1916.0,1060.9 1916.5,1061.0 1917.0,1061.1 1917.5,1061.3 1918.0,1061.4 1918.5,1061.6 1919.0,1061.7 1919.5,1061.8 1920.0,1062.0 1920.5,1062.1 1921.0,1062.2 1921.5,1062.4 1922.0,1062.5 1922.5,1062.7 1923.0,1062.8 1923.5,1062.9 1924.0,1063.1 1924.5,1063.2 1925.0,1063.3 1925.5,1063.5 1926.0,1063.6 1926.5,1063.7 1927.0,1063.9 1927.5,1064.0 1928.0,1064.2 1928.5,1064.3 1929.0,1064.4 1929.5,1064.6 1930.0,1064.7 1930.5,1064.8 1931.0,1065.0 1931.5,1065.1 1932.0,1065.2 1932.5,1065.4 1933.0,1065.5 1933.5,1065.6 1934.0,1065.8 1934.5,1065.9 1935.0,1066.0 1935.5,1066.2 1936.0,1066.3 1936.5,1066.5 1937.0,1066.6 1937.5,1066.7" fill="none" stroke="#000" stroke-width="6.0" stroke-linejoin="round" stroke-linecap="butt"/>
<path d="M308.5,1032.9 309.0,1032.3 309.5,1031.7 310.0,1031.1 310.5,1030.5 311.0,1029.9 311.5,1029.3 312.0,1028.6 312.5,1028.0 313.0,1027.4 313.5,1026.7 314.0,1026.1 314.5,1025.4 315.0,1024.8 315.5,1024.1 316.0,1023.4 316.5,1022.8 317.0,1022.1 317.5,1021.4 318.0,1020.7 318.5,1020.0 319.0,1019.3 319.5,1018.6 320.0,1017.9 320.5,1017.2 321.0,1016.5 321.5,1015.7 322.0,1015.0 322.5,1014.3 323.0,1013.5 323.5,1012.8 324.0,1012.1 324.5,1011.3 325.0,1010.5 325.5,1009.8 326.0,1009.0 326.5,1008.2 327.0,1007.5 327.5,1006.7 328.0,1005.9 328.5,1005.1 329.0,1004.3 329.5,1003.5 330.0,1002.7 330.5,1001.9 331.0,1001.1 331.5,1000.2 332.0,999.4 332.5,998.6 333.0,997.8 333.5,996.9 334.0,996.1 334.5,995.2 335.0,994.4 335.5,993.5 336.0,992.6 336.5,991.8 337.0,990.9 337.5,990.0 338.0,989.1 338.5,988.3 339.0,987.4 339.5,986.5 340.0,985.6 340.5,984.7 341.0,983.8 341.5,982.8 342.0,981.9 342.5,981.0 343.0,980.1 343.5,979.1 344.0,978.2 344.5,977.3 345.0,976.3 345.5,975.4 346.0,974.4 346.5,973.5 347.0,972.5 347.5,971.5 348.0,970.5 348.5,969.6 349.0,968.6 349.5,967.6 350.0,966.6 350.5,965.6 351.0,964.6 351.5,963.6 352.0,962.6 352.5,961.6 353.0,960.6 353.5,959.6 354.0,958.5 354.5,957.5 355.0,956.5 355.5,955.4 356.0,954.4 356.5,953.4 357.0,952.3 357.5,951.3 358.0,950.2 358.5,949.1 359.0,948.1 359.5,947.0 360.0,945.9 360.5,944.8 361.0,943.8 361.5,942.7 362.0,941.6 362.5,940.5 363.0,939.4 363.5,938.3 364.0,937.2 364.5,936.1 365.0,934.9 365.5,933.8 366.0,932.7 366.5,931.6 367.0,930.4 367.5,929.3 368.0,928.2 368.5,927.0 369.0,925.9 369.5,924.7 370.0,923.6 370.5,922.4 371.0,921.2 371.5,920.1 372.0,918.9 372.5,917.7 373.0,916.5 373.5,915.3 374.0,914.2 374.5,913.0 375.0,911.8 375.5,910.6 376.0,909.4 376.5,908.2 377.0,907.0 377.5,905.7 378.0,904.5 378.5,903.3 379.0,902.1 379.5,900.8 380.0,899.6 380.5,898.4 381.0,897.1 381.5,895.9 382.0,894.7 382.5,893.4 383.0,892.2 383.5,890.9 384.0,889.6 384.5,888.4 385.0,887.1 385.5,885.8 386.0,884.6 386.5,883.3 387.0,882.0 387.5,880.8 388.0,879.5 388.5,878.2 389.0,876.9 389.5,875.6 390.0,874.3 390.5,873.0 391.0,871.7 391.5,870.4 392.0,869.1 392.5,867.8 393.0,866.5 393.5,865.2 394.0,863.9 394.5,862.6 395.0,861.3 395.5,860.0 396.0,858.6 396.5,857.3 397.0,856.0 397.5,854.7 398.0,853.3 398.5,852.0 399.0,850.7 399.5,849.4 400.0,848.0 400.5,846.7 401.0,845.4 401.5,844.0 402.0,842.7 402.5,841.3 403.0,840.0 403.5,838.7 404.0,837.3 404.5,836.0 405.0,834.6 405.5,833.3 406.0,831.9 406.5,830.6 407.0,829.2 407.5,827.9 408.0,826.5 408.5,825.2 409.0,823.8 409.5,822.5 410.0,821.1 410.5,819.7 411.0,818.4 411.5,817.0 412.0,815.7 412.5,814.3 413.0,813.0 413.5,811.6 414.0,810.2 414.5,808.9 415.0,807.5 415.5,806.2 416.0,804.8 416.5,803.5 417.0,802.1 417.5,800.8 418.0,799.4 418.5,798.1 419.0,796.7 419.5,795.4 420.0,794.0 420.5,792.7 421.0,791.3 421.5,790.0 422.0,788.6 422.5,787.3 423.0,786.0 423.5,784.6 424.0,783.3 424.5,782.0 425.0,780.6 425.5,779.3 426.0,778.0 426.5,776.7 427.0,775.3 427.5,774.0 428.0,772.7 428.5,771.4 429.0,770.1 429.5,768.8 430.0,767.5 430.5,766.2 431.0,764.9 431.5,763.6 432.0,762.3 432.5,761.0 433.0,759.7 433.5,758.4 434.0,757.1 434.5,755.9 435.0,754.6 435.5,753.3 436.0,752.1 436.5,750.8 437.0,749.5 437.5,748.3 438.0,747.0 438.5,745.8 439.0,744.5 439.5,743.3 440.0,742.0 440.5,740.8 441.0,739.6 441.5,738.3 442.0,737.1 442.5,735.9 443.0,734.6 443.5,733.4 444.0,732.2 444.5,731.0 445.0,729.8 445.5,728.6 446.0,727.4 446.5,726.2 447.0,725.0 447.5,723.8 448.0,722.6 448.5,721.4 449.0,720.2 449.5,719.0 450.0,717.8 450.5,716.6 451.0,715.5 451.5,714.3 452.0,713.1 452.5,712.0 453.0,710.8 453.5,709.6 454.0,708.5 454.5,707.3 455.0,706.2 455.5,705.0 456.0,703.9 456.5,702.7 457.0,701.6 457.5,700.4 458.0,699.3 458.5,698.2 459.0,697.0 459.5,695.9 460.0,694.8 460.5,693.6 461.0,692.5 461.5,691.4 462.0,690.3 462.5,689.2 463.0,688.1 463.5,687.0 464.0,685.9 464.5,684.7 465.0,683.6 465.5,682.5 466.0,681.4 466.5,680.4 467.0,679.3 467.5,678.2 468.0,677.1 468.5,676.0 469.0,674.9 469.5,673.8 470.0,672.7 470.5,671.6 471.0,670.6 471.5,669.5 472.0,668.4 472.5,667.3 473.0,666.2 473.5,665.2 474.0,664.1 474.5,663.0 475.0,661.9 475.5,660.9 476.0,659.8 476.5,658.7 477.0,657.7 477.5,656.6 478.0,655.5 478.5,654.4 479.0,653.4 479.5,652.3 480.0,651.2 480.5,650.2 481.0,649.1 481.5,648.0 482.0,647.0 482.5,645.9 483.0,644.8 483.5,643.7 484.0,642.7 484.5,641.6 485.0,640.5 485.5,639.5 486.0,638.4 486.5,637.3 487.0,636.2 487.5,635.2 488.0,634.1 488.5,633.0 489.0,631.9 489.5,630.8 490.0,629.8 490.5,628.7 491.0,627.6 491.5,626.5 492.0,625.4 492.5,624.3 493.0,623.3 493.5,622.2 494.0,621.1 494.5,620.0 495.0,618.9 495.5,617.8 496.0,616.7 496.5,615.6 497.0,614.5 497.5,613.4 498.0,612.3 498.5,611.2 499.0,610.1 499.5,609.0 500.0,607.8 500.5,606.7 501.0,605.6 501.5,604.5 502.0,603.4 502.5,602.3 503.0,601.2 503.5,600.1 504.0,598.9 504.5,597.8 505.0,596.7 505.5,595.6 506.0,594.5 506.5,593.3 507.0,592.2 507.5,591.1 508.0,590.0 508.5,588.9 509.0,587.8 509.5,586.6 510.0,585.5 510.5,584.4 511.0,583.3 511.5,582.2 512.0,581.0 512.5,579.9 513.0,578.8 513.5,577.7 514.0,576.6 514.5,575.5 515.0,574.3 515.5,573.2 516.0,572.1 516.5,571.0 517.0,569.9 517.5,568.8 518.0,567.7 518.5,566.6 519.0,565.5 519.5,564.4 520.0,563.3 520.5,562.2 521.0,561.1 521.5,560.0 522.0,558.9 522.5,557.8 523.0,556.7 523.5,555.6 524.0,554.5 524.5,553.4 525.0,552.3 525.5,551.2 526.0,550.1 526.5,549.0 527.0,548.0 527.5,546.9 528.0,545.8 528.5,544.7 529.0,543.7 529.5,542.6 530.0,541.5 530.5,540.5 531.0,539.4 531.5,538.4 532.0,537.3 532.5,536.2 533.0,535.2 533.5,534.2 534.0,533.1 534.5,532.1 535.0,531.0 535.5,530.0 536.0,529.0 536.5,527.9 537.0,526.9 537.5,525.9 538.0,524.9 538.5,523.9 539.0,522.8 539.5,521.8 540.0,520.8 540.5,519.8 541.0,518.8 541.5,517.9 542.0,516.9 542.5,515.9 543.0,514.9 543.5,513.9 544.0,513.0 544.5,512.0 545.0,511.0 545.5,510.1 546.0,509.1 546.5,508.2 547.0,507.2 547.5,506.3 548.0,505.3 548.5,504.4 549.0,503.5 549.5,502.6 550.0,501.6 550.5,500.7 551.0,499.8 551.5,498.9 552.0,498.0 552.5,497.1 553.0,496.3 553.5,495.4 554.0,494.5 554.5,493.6 555.0,492.8 555.5,491.9 556.0,491.1 556.5,490.2 557.0,489.4 557.5,488.5 558.0,487.7 558.5,486.9 559.0,486.0 559.5,485.2 560.0,484.4 560.5,483.6 561.0,482.8 561.5,482.0 562.0,481.2 562.5,480.5 563.0,479.7 563.5,478.9 564.0,478.2 564.5,477.4 565.0,476.6 565.5,475.9 566.0,475.2 566.5,474.4 567.0,473.7 567.5,473.0 568.0,472.2 568.5,471.5 569.0,470.8 569.5,470.1 570.0,469.4 570.5,468.7 571.0,468.0 571.5,467.4 572.0,466.7 572.5,466.0 573.0,465.4 573.5,464.7 574.0,464.0 574.5,463.4 575.0,462.8 575.5,462.1 576.0,461.5 576.5,460.9 577.0,460.2 577.5,459.6 578.0,459.0 578.5,458.4 579.0,457.8 579.5,457.2 580.0,456.6 580.5,456.1 581.0,455.5 581.5,454.9 582.0,454.4 582.5,453.8 583.0,453.2 583.5,452.7 584.0,452.2 584.5,451.6 585.0,451.1 585.5,450.6 586.0,450.0 586.5,449.5 587.0,449.0 587.5,448.5 588.0,448.0 588.5,447.5 589.0,447.1 589.5,446.6 590.0,446.1 590.5,445.6 591.0,445.2 591.5,444.7 592.0,444.3 592.5,443.8 593.0,443.4 593.5,442.9 594.0,442.5 594.5,442.1 595.0,441.7 595.5,441.2 596.0,440.8 596.5,440.4 597.0,440.0 597.5,439.6 598.0,439.3 598.5,438.9 599.0,438.5 599.5,438.1 600.0,437.8 600.5,437.4 601.0,437.1 601.5,436.7 602.0,436.4 602.5,436.0 603.0,435.7 603.5,435.4 604.0,435.1 604.5,434.8 605.0,434.5 605.5,434.1 606.0,433.9 606.5,433.6 607.0,433.3 607.5,433.0 608.0,432.7 608.5,432.5 609.0,432.2 609.5,431.9 610.0,431.7 610.5,431.4 611.0,431.2 611.5,431.0 612.0,430.7 612.5,430.5 613.0,430.3 613.5,430.1 614.0,429.9 614.5,429.7 615.0,429.5 615.5,429.3 616.0,429.1 616.5,428.9 617.0,428.7 617.5,428.6 618.0,428.4 618.5,428.3 619.0,428.1 619.5,428.0 620.0,427.8 620.5,427.7 621.0,427.6 621.5,427.4 622.0,427.3 622.5,427.2 623.0,427.1 623.5,427.0 624.0,426.9 624.5,426.8 625.0,426.7 625.5,426.7 626.0,426.6 626.5,426.5 627.0,426.4 627.5,426.4 628.0,426.3 628.5,426.3 629.0,426.3 629.5,426.2 630.0,426.2 630.5,426.2 631.0,426.1 631.5,426.1 632.0,426.1 632.5,426.1 633.0,426.1 633.5,426.1 634.0,426.1 634.5,426.2 635.0,426.2 635.5,426.2 636.0,426.2 636.5,426.3 637.0,426.3 637.5,426.4 638.0,426.4 638.5,426.5 639.0,426.6 639.5,426.6 640.0,426.7 640.5,426.8 641.0,426.9 641.5,427.0 642.0,427.0 642.5,427.1 643.0,427.2 643.5,427.4 644.0,427.5 644.5,427.6 645.0,427.7 645.5,427.8 646.0,428.0 646.5,428.1 647.0,428.3 647.5,428.4 648.0,428.6 648.5,428.7 649.0,428.9 649.5,429.1 650.0,429.2 650.5,429.4 651.0,429.6 651.5,429.8 652.0,430.0 652.5,430.2 653.0,430.4 653.5,430.6 654.0,430.8 654.5,431.0 655.0,431.2 655.5,431.4 656.0,431.7 656.5,431.9 657.0,432.1 657.5,432.4 658.0,432.6 658.5,432.9 659.0,433.1 659.5,433.4 660.0,433.6 660.5,433.9 661.0,434.2 661.5,434.5 662.0,434.7 662.5,435.0 663.0,435.3 663.5,435.6 664.0,435.9 664.5,436.2 665.0,436.5 665.5,436.8 666.0,437.1 666.5,437.5 667.0,437.8 667.5,438.1 668.0,438.4 668.5,438.8 669.0,439.1 669.5,439.5 670.0,439.8 670.5,440.2 671.0,440.5 671.5,440.9 672.0,441.2 672.5,441.6 673.0,442.0 673.5,442.4 674.0,442.7 674.5,443.1 675.0,443.5 675.5,443.9 676.0,444.3 676.5,444.7 677.0,445.1 677.5,445.5 678.0,445.9 678.5,446.3 679.0,446.8 679.5,447.2 680.0,447.6 680.5,448.0 681.0,448.5 681.5,448.9 682.0,449.3 682.5,449.8 683.0,450.2 683.5,450.7 684.0,451.1 684.5,451.6 685.0,452.1 685.5,452.5 686.0,453.0 686.5,453.5 687.0,454.0 687.5,454.4 688.0,454.9 688.5,455.4 689.0,455.9 689.5,456.4 690.0,456.9 690.5,457.4 691.0,457.9 691.5,458.4 692.0,458.9 692.5,459.4 693.0,460.0 693.5,460.5 694.0,461.0 694.5,461.5 695.0,462.1 695.5,462.6 696.0,463.1 696.5,463.7 697.0,464.2 697.5,464.8 698.0,465.3 698.5,465.9 699.0,466.4 699.5,467.0 700.0,467.6 700.5,468.1 701.0,468.7 701.5,469.3 702.0,469.8 702.5,470.4 703.0,471.0 703.5,471.6 704.0,472.2 704.5,472.8 705.0,473.4 705.5,474.0 706.0,474.6 706.5,475.2 707.0,475.8 707.5,476.4 708.0,477.0 708.5,477.6 709.0,478.2 709.5,478.8 710.0,479.5 710.5,480.1 711.0,480.7 711.5,481.4 712.0,482.0 712.5,482.6 713.0,483.3 713.5,483.9 714.0,484.6 714.5,485.2 715.0,485.9 715.5,486.5 716.0,487.2 716.5,487.8 717.0,488.5 717.5,489.2 718.0,489.8 718.5,490.5 719.0,491.2 719.5,491.8 720.0,492.5 720.5,493.2 721.0,493.9 721.5,494.6 722.0,495.2 722.5,495.9 723.0,496.6 723.5,497.3 724.0,498.0 724.5,498.7 725.0,499.4 725.5,500.1 726.0,500.8 726.5,501.5 727.0,502.3 727.5,503.0 728.0,503.7 728.5,504.4 729.0,505.1 729.5,505.8 730.0,506.6 730.5,507.3 731.0,508.0 731.5,508.8 732.0,509.5 732.5,510.2 733.0,511.0 733.5,511.7 734.0,512.5 734.5,513.2 735.0,513.9 735.5,514.7 736.0,515.4 736.5,516.2 737.0,517.0 737.5,517.7 738.0,518.5 738.5,519.2 739.0,520.0 739.5,520.8 740.0,521.5 740.5,522.3 741.0,523.1 741.5,523.8 742.0,524.6 742.5,525.4 743.0,526.2 743.5,527.0 744.0,527.7 744.5,528.5 745.0,529.3 745.5,530.1 746.0,530.9 746.5,531.7 747.0,532.5 747.5,533.3 748.0,534.1 748.5,534.9 749.0,535.7 749.5,536.5 750.0,537.3 750.5,538.1 751.0,538.9 751.5,539.7 752.0,540.5 752.5,541.3 753.0,542.1 753.5,543.0 754.0,543.8 754.5,544.6 755.0,545.4 755.5,546.2 756.0,547.1 756.5,547.9 757.0,548.7 757.5,549.5 758.0,550.4 758.5,551.2 759.0,552.0 759.5,552.9 760.0,553.7 760.5,554.5 761.0,555.4 761.5,556.2 762.0,557.1 762.5,557.9 763.0,558.8 763.5,559.6 764.0,560.4 764.5,561.3 765.0,562.1 765.5,563.0 766.0,563.8 766.5,564.7 767.0,565.5 767.5,566.4 768.0,567.3 768.5,568.1 769.0,569.0 769.5,569.8 770.0,570.7 770.5,571.6 771.0,572.4 771.5,573.3 772.0,574.1 772.5,575.0 773.0,575.9 773.5,576.7 774.0,577.6 774.5,578.5 775.0,579.4 775.5,580.2 776.0,581.1 776.5,582.0 777.0,582.9 777.5,583.7 778.0,584.6 778.5,585.5 779.0,586.4 779.5,587.3 780.0,588.1 780.5,589.0 781.0,589.9 781.5,590.8 782.0,591.7 782.5,592.6 783.0,593.4 783.5,594.3 784.0,595.2 784.5,596.1 785.0,597.0 785.5,597.9 786.0,598.8 786.5,599.7 787.0,600.6 787.5,601.5 788.0,602.4 788.5,603.3 789.0,604.2 789.5,605.1 790.0,606.0 790.5,606.9 791.0,607.8 791.5,608.7 792.0,609.6 792.5,610.5 793.0,611.4 793.5,612.3 794.0,613.2 794.5,614.1 795.0,615.0 795.5,615.9 796.0,616.8 796.5,617.7 797.0,618.6 797.5,619.5 798.0,620.4 798.5,621.4 799.0,622.3 799.5,623.2 800.0,624.1 800.5,625.0 801.0,625.9 801.5,626.8 802.0,627.8 802.5,628.7 803.0,629.6 803.5,630.5 804.0,631.4 804.5,632.3 805.0,633.3 805.5,634.2 806.0,635.1 806.5,636.0 807.0,636.9 807.5,637.8 808.0,638.8 808.5,639.7 809.0,640.6 809.5,641.5 810.0,642.5 810.5,643.4 811.0,644.3 811.5,645.2 812.0,646.1 812.5,647.1 813.0,648.0 813.5,648.9 814.0,649.8 814.5,650.8 815.0,651.7 815.5,652.6 816.0,653.5 816.5,654.5 817.0,655.4 817.5,656.3 818.0,657.3 818.5,658.2 819.0,659.1 819.5,660.0 820.0,661.0 820.5,661.9 821.0,662.8 821.5,663.8 822.0,664.7 822.5,665.6 823.0,666.5 823.5,667.5 824.0,668.4 824.5,669.3 825.0,670.3 825.5,671.2 826.0,672.1 826.5,673.1 827.0,674.0 827.5,674.9 828.0,675.8 828.5,676.8 829.0,677.7 829.5,678.6 830.0,679.6 830.5,680.5 831.0,681.4 831.5,682.4 832.0,683.3 832.5,684.2 833.0,685.2 833.5,686.1 834.0,687.0 834.5,687.9 835.0,688.9 835.5,689.8 836.0,690.7 836.5,691.7 837.0,692.6 837.5,693.5 838.0,694.5 838.5,695.4 839.0,696.3 839.5,697.3 840.0,698.2 840.5,699.1 841.0,700.0 841.5,701.0 842.0,701.9 842.5,702.8 843.0,703.8 843.5,704.7 844.0,705.6 844.5,706.6 845.0,707.5 845.5,708.4 846.0,709.3 846.5,710.3 847.0,711.2 847.5,712.1 848.0,713.1 848.5,714.0 849.0,714.9 849.5,715.8 850.0,716.8 850.5,717.7 851.0,718.6 851.5,719.5 852.0,720.5 852.5,721.4 853.0,722.3 853.5,723.2 854.0,724.2 854.5,725.1 855.0,726.0 855.5,726.9 856.0,727.9 856.5,728.8 857.0,729.7 857.5,730.6 858.0,731.6 858.5,732.5 859.0,733.4 859.5,734.3 860.0,735.2 860.5,736.2 861.0,737.1 861.5,738.0 862.0,738.9 862.5,739.8 863.0,740.8 863.5,741.7 864.0,742.6 864.5,743.5 865.0,744.4 865.5,745.3 866.0,746.3 866.5,747.2 867.0,748.1 867.5,749.0 868.0,749.9 868.5,750.8 869.0,751.7 869.5,752.7 870.0,753.6 870.5,754.5 871.0,755.4 871.5,756.3 872.0,757.2 872.5,758.1 873.0,759.0 873.5,759.9 874.0,760.8 874.5,761.7 875.0,762.7 875.5,763.6 876.0,764.5 876.5,765.4 877.0,766.3 877.5,767.2 878.0,768.1 878.5,769.0 879.0,769.9 879.5,770.8 880.0,771.7 880.5,772.6 881.0,773.5 881.5,774.4 882.0,775.3 882.5,776.2 883.0,777.1 883.5,778.0 884.0,778.8 884.5,779.7 885.0,780.6 885.5,781.5 886.0,782.4 886.5,783.3 887.0,784.2 887.5,785.1 888.0,786.0 888.5,786.9 889.0,787.7 889.5,788.6 890.0,789.5 890.5,790.4 891.0,791.3 891.5,792.2 892.0,793.0 892.5,793.9 893.0,794.8 893.5,795.7 894.0,796.5 894.5,797.4 895.0,798.3 895.5,799.2 896.0,800.0 896.5,800.9 897.0,801.8 897.5,802.7 898.0,803.5 898.5,804.4 899.0,805.3 899.5,806.1 900.0,807.0 900.5,807.9 901.0,808.7 901.5,809.6 902.0,810.4 902.5,811.3 903.0,812.2 903.5,813.0 904.0,813.9 904.5,814.7 905.0,815.6 905.5,816.4 906.0,817.3 906.5,818.2 907.0,819.0 907.5,819.9 908.0,820.7 908.5,821.5 909.0,822.4 909.5,823.2 910.0,824.1 910.5,824.9 911.0,825.8 911.5,826.6 912.0,827.4 912.5,828.3 913.0,829.1 913.5,830.0 914.0,830.8 914.5,831.6 915.0,832.5 915.5,833.3 916.0,834.1 916.5,835.0 917.0,835.8 917.5,836.6 918.0,837.4 918.5,838.3 919.0,839.1 919.5,839.9 920.0,840.7 920.5,841.5 921.0,842.4 921.5,843.2 922.0,844.0 922.5,844.8 923.0,845.6 923.5,846.4 924.0,847.2 924.5,848.0 925.0,848.8 925.5,849.6 926.0,850.4 926.5,851.3 927.0,852.1 927.5,852.9 928.0,853.7 928.5,854.4 929.0,855.2 929.5,856.0 930.0,856.8 930.5,857.6 931.0,858.4 931.5,859.2 932.0,860.0 932.5,860.8 933.0,861.6 933.5,862.3 934.0,863.1 934.5,863.9 935.0,864.7 935.5,865.4 936.0,866.2 936.5,867.0 937.0,867.8 937.5,868.5 938.0,869.3 938.5,870.1 939.0,870.8 939.5,871.6 940.0,872.4 940.5,873.1 941.0,873.9 941.5,874.6 942.0,875.4 942.5,876.2 943.0,876.9 943.5,877.7 944.0,878.4 944.5,879.2 945.0,879.9 945.5,880.7 946.0,881.4 946.5,882.1 947.0,882.9 947.5,883.6 948.0,884.4 948.5,885.1 949.0,885.8 949.5,886.6 950.0,887.3 950.5,888.1 951.0,888.8 951.5,889.5 952.0,890.2 952.5,891.0 953.0,891.7 953.5,892.4 954.0,893.1 954.5,893.9 955.0,894.6 955.5,895.3 956.0,896.0 956.5,896.7 957.0,897.5 957.5,898.2 958.0,898.9 958.5,899.6 959.0,900.3 959.5,901.0 960.0,901.7 960.5,902.4 961.0,903.1 961.5,903.8 962.0,904.5 962.5,905.2 963.0,905.9 963.5,906.6 964.0,907.3 964.5,908.0 965.0,908.7 965.5,909.4 966.0,910.1 966.5,910.8 967.0,911.5 967.5,912.2 968.0,912.9 968.5,913.6 969.0,914.2 969.5,914.9 970.0,915.6 970.5,916.3 971.0,917.0 971.5,917.7 972.0,918.3 972.5,919.0 973.0,919.7 973.5,920.4 974.0,921.0 974.5,921.7 975.0,922.4 975.5,923.0 976.0,923.7 976.5,924.4 977.0,925.0 977.5,925.7 978.0,926.4 978.5,927.0 979.0,927.7 979.5,928.4 980.0,929.0 980.5,929.7 981.0,930.3 981.5,931.0 982.0,931.6 982.5,932.3 983.0,933.0 983.5,933.6 984.0,934.3 984.5,934.9 985.0,935.6 985.5,936.2 986.0,936.9 986.5,937.5 987.0,938.1 987.5,938.8 988.0,939.4 988.5,940.1 989.0,940.7 989.5,941.4 990.0,942.0 990.5,942.6 991.0,943.3 991.5,943.9 992.0,944.5 992.5,945.2 993.0,945.8 993.5,946.4 994.0,947.1 994.5,947.7 995.0,948.3 995.5,948.9 996.0,949.6 996.5,950.2 997.0,950.8 997.5,951.4 998.0,952.1 998.5,952.7 999.0,953.3 999.5,953.9 1000.0,954.6 1000.5,955.2 1001.0,955.8 1001.5,956.4 1002.0,957.0 1002.5,957.6 1003.0,958.2 1003.5,958.9 1004.0,959.5 1004.5,960.1 1005.0,960.7 1005.5,961.3 1006.0,961.9 1006.5,962.5 1007.0,963.1 1007.5,963.7 1008.0,964.3 1008.5,964.9 1009.0,965.5 1009.5,966.1 1010.0,966.7 1010.5,967.3 1011.0,967.9 1011.5,968.5 1012.0,969.1 1012.5,969.7 1013.0,970.3 1013.5,970.9 1014.0,971.5 1014.5,972.1 1015.0,972.7 1015.5,973.3 1016.0,973.9 1016.5,974.5 1017.0,975.1 1017.5,975.7 1018.0,976.2 1018.5,976.8 1019.0,977.4 1019.5,978.0 1020.0,978.6 1020.5,979.2 1021.0,979.7 1021.5,980.3 1022.0,980.9 1022.5,981.5 1023.0,982.1 1023.5,982.6 1024.0,983.2 1024.5,983.8 1025.0,984.4 1025.5,984.9 1026.0,985.5 1026.5,986.1 1027.0,986.6 1027.5,987.2 1028.0,987.8 1028.5,988.3 1029.0,988.9 1029.5,989.5 1030.0,990.0 1030.5,990.6 1031.0,991.2 1031.5,991.7 1032.0,992.3 1032.5,992.8 1033.0,993.4 1033.5,994.0 1034.0,994.5 1034.5,995.1 1035.0,995.6 1035.5,996.2 1036.0,996.7 1036.5,997.3 1037.0,997.8 1037.5,998.4 1038.0,998.9 1038.5,999.5 1039.0,1000.0 1039.5,1000.6 1040.0,1001.1 1040.5,1001.7 1041.0,1002.2 1041.5,1002.7 1042.0,1003.3 1042.5,1003.8 1043.0,1004.4 1043.5,1004.9 1044.0,1005.4 1044.5,1006.0 1045.0,1006.5 1045.5,1007.0 1046.0,1007.6 1046.5,1008.1 1047.0,1008.6 1047.5,1009.2 1048.0,1009.7 1048.5,1010.2 1049.0,1010.7 1049.5,1011.3 1050.0,1011.8 1050.5,1012.3 1051.0,1012.8 1051.5,1013.4 1052.0,1013.9 1052.5,1014.4 1053.0,1014.9 1053.5,1015.4 1054.0,1015.9 1054.5,1016.5 1055.0,1017.0 1055.5,1017.5 1056.0,1018.0 1056.5,1018.5 1057.0,1019.0 1057.5,1019.5 1058.0,1020.0 1058.5,1020.5 1059.0,1021.0 1059.5,1021.6 1060.0,1022.1 1060.5,1022.6 1061.0,1023.1 1061.5,1023.6 1062.0,1024.1 1062.5,1024.6 1063.0,1025.1 1063.5,1025.6 1064.0,1026.0 1064.5,1026.5 1065.0,1027.0 1065.5,1027.5 1066.0,1028.0 1066.5,1028.5 1067.0,1029.0 1067.5,1029.5 1068.0,1030.0 1068.5,1030.5 1069.0,1030.9 1069.5,1031.4 1070.0,1031.9 1070.5,1032.4 1071.0,1032.9 1071.5,1033.3 1072.0,1033.8 1072.5,1034.3 1073.0,1034.8 1073.5,1035.2 1074.0,1035.7 1074.5,1036.2 1075.0,1036.7 1075.5,1037.1 1076.0,1037.6 1076.5,1038.1 1077.0,1038.5 1077.5,1039.0 1078.0,1039.5 1078.5,1039.9 1079.0,1040.4 1079.5,1040.9 1080.0,1041.3 1080.5,1041.8 1081.0,1042.2 1081.5,1042.7 1082.0,1043.2 1082.5,1043.6 1083.0,1044.1 1083.5,1044.5 1084.0,1045.0 1084.5,1045.4 1085.0,1045.9 1085.5,1046.3 1086.0,1046.8 1086.5,1047.2 1087.0,1047.7 1087.5,1048.1 1088.0,1048.6 1088.5,1049.0 1089.0,1049.5 1089.5,1049.9 1090.0,1050.3 1090.5,1050.8 1091.0,1051.2 1091.5,1051.7 1092.0,1052.1 1092.5,1052.5 1093.0,1053.0 1093.5,1053.4 1094.0,1053.8 1094.5,1054.3 1095.0,1054.7 1095.5,1055.1 1096.0,1055.6 1096.5,1056.0 1097.0,1056.4 1097.5,1056.9 1098.0,1057.3 1098.5,1057.7 1099.0,1058.1 1099.5,1058.6 1100.0,1059.0 1100.5,1059.4 1101.0,1059.8 1101.5,1060.2 1102.0,1060.7 1102.5,1061.1 1103.0,1061.5 1103.5,1061.9 1104.0,1062.3 1104.5,1062.7 1105.0,1063.1 1105.5,1063.6 1106.0,1064.0 1106.5,1064.4 1107.0,1064.8 1107.5,1065.2 1108.0,1065.6 1108.5,1066.0 1109.0,1066.4 1109.5,1066.8 1110.0,1067.2 1110.5,1067.6 1111.0,1068.0 1111.5,1068.4 1112.0,1068.8 1112.5,1069.2 1113.0,1069.6 1113.5,1070.0 1114.0,1070.4 1114.5,1070.8 1115.0,1071.2 1115.5,1071.6 1116.0,1072.0 1116.5,1072.4 1117.0,1072.8 1117.5,1073.2 1118.0,1073.6 1118.5,1074.0 1119.0,1074.3 1119.5,1074.7 1120.0,1075.1 1120.5,1075.5 1121.0,1075.9 1121.5,1076.3 1122.0,1076.7 1122.5,1077.0 1123.0,1077.4 1123.5,1077.8 1124.0,1078.2 1124.5,1078.6 1125.0,1078.9 1125.5,1079.3 1126.0,1079.7 1126.5,1080.1 1127.0,1080.4 1127.5,1080.8 1128.0,1081.2 1128.5,1081.6 1129.0,1081.9 1129.5,1082.3 1130.0,1082.7 1130.5,1083.0 1131.0,1083.4 1131.5,1083.8 1132.0,1084.1 1132.5,1084.5 1133.0,1084.9 1133.5,1085.2 1134.0,1085.6 1134.5,1085.9 1135.0,1086.3 1135.5,1086.7 1136.0,1087.0 1136.5,1087.4 1137.0,1087.7 1137.5,1088.1 1138.0,1088.5 1138.5,1088.8 1139.0,1089.2 1139.5,1089.5 1140.0,1089.9 1140.5,1090.2 1141.0,1090.6 1141.5,1090.9 1142.0,1091.3 1142.5,1091.6 1143.0,1092.0 1143.5,1092.3 1144.0,1092.7 1144.5,1093.0 1145.0,1093.4 1145.5,1093.7 1146.0,1094.0 1146.5,1094.4 1147.0,1094.7 1147.5,1095.1 1148.0,1095.4 1148.5,1095.7 1149.0,1096.1 1149.5,1096.4 1150.0,1096.8 1150.5,1097.1 1151.0,1097.4 1151.5,1097.8 1152.0,1098.1 1152.5,1098.4 1153.0,1098.8 1153.5,1099.1 1154.0,1099.4 1154.5,1099.8 1155.0,1100.1 1155.5,1100.4 1156.0,1100.7 1156.5,1101.1 1157.0,1101.4 1157.5,1101.7 1158.0,1102.0 1158.5,1102.4 1159.0,1102.7 1159.5,1103.0 1160.0,1103.3 1160.5,1103.7 1161.0,1104.0 1161.5,1104.3 1162.0,1104.6 1162.5,1104.9 1163.0,1105.3 1163.5,1105.6 1164.0,1105.9 1164.5,1106.2 1165.0,1106.5 1165.5,1106.8 1166.0,1107.1 1166.5,1107.5 1167.0,1107.8 1167.5,1108.1 1168.0,1108.4 1168.5,1108.7 1169.0,1109.0 1169.5,1109.3 1170.0,1109.6 1170.5,1109.9 1171.0,1110.2 1171.5,1110.5 1172.0,1110.8 1172.5,1111.2 1173.0,1111.5 1173.5,1111.8 1174.0,1112.1 1174.5,1112.4 1175.0,1112.7 1175.5,1113.0 1176.0,1113.3 1176.5,1113.6 1177.0,1113.9 1177.5,1114.2 1178.0,1114.4 1178.5,1114.7 1179.0,1115.0 1179.5,1115.3 1180.0,1115.6 1180.5,1115.9 1181.0,1116.2 1181.5,1116.5 1182.0,1116.8 1182.5,1117.1 1183.0,1117.4 1183.5,1117.7 1184.0,1118.0 1184.5,1118.2 1185.0,1118.5 1185.5,1118.8 1186.0,1119.1 1186.5,1119.4 1187.0,1119.7 1187.5,1119.9 1188.0,1120.2 1188.5,1120.5 1189.0,1120.8 1189.5,1121.1 1190.0,1121.4 1190.5,1121.6 1191.0,1121.9 1191.5,1122.2 1192.0,1122.5 1192.5,1122.7 1193.0,1123.0 1193.5,1123.3 1194.0,1123.6 1194.5,1123.8 1195.0,1124.1 1195.5,1124.4 1196.0,1124.7 1196.5,1124.9 1197.0,1125.2 1197.5,1125.5 1198.0,1125.7 1198.5,1126.0 1199.0,1126.3 1199.5,1126.6 1200.0,1126.8 1200.5,1127.1 1201.0,1127.4 1201.5,1127.6 1202.0,1127.9 1202.5,1128.1 1203.0,1128.4 1203.5,1128.7 1204.0,1128.9 1204.5,1129.2 1205.0,1129.5 1205.5,1129.7 1206.0,1130.0 1206.5,1130.2 1207.0,1130.5 1207.5,1130.8 1208.0,1131.0 1208.5,1131.3 1209.0,1131.5 1209.5,1131.8 1210.0,1132.0 1210.5,1132.3 1211.0,1132.5 1211.5,1132.8 1212.0,1133.1 1212.5,1133.3 1213.0,1133.6 1213.5,1133.8 1214.0,1134.1 1214.5,1134.3 1215.0,1134.6 1215.5,1134.8 1216.0,1135.1 1216.5,1135.3 1217.0,1135.5 1217.5,1135.8 1218.0,1136.0 1218.5,1136.3 1219.0,1136.5 1219.5,1136.8 1220.0,1137.0 1220.5,1137.3 1221.0,1137.5 1221.5,1137.7 1222.0,1138.0 1222.5,1138.2 1223.0,1138.5 1223.5,1138.7 1224.0,1138.9 1224.5,1139.2 1225.0,1139.4 1225.5,1139.7 1226.0,1139.9 1226.5,1140.1 1227.0,1140.4 1227.5,1140.6 1228.0,1140.8 1228.5,1141.1 1229.0,1141.3 1229.5,1141.5 1230.0,1141.8 1230.5,1142.0 1231.0,1142.2 1231.5,1142.5 1232.0,1142.7 1232.5,1142.9 1233.0,1143.1 1233.5,1143.4 1234.0,1143.6 1234.5,1143.8 1235.0,1144.1 1235.5,1144.3 1236.0,1144.5 1236.5,1144.7 1237.0,1145.0 1237.5,1145.2 1238.0,1145.4 1238.5,1145.6 1239.0,1145.8 1239.5,1146.1 1240.0,1146.3 1240.5,1146.5 1241.0,1146.7 1241.5,1147.0 1242.0,1147.2 1242.5,1147.4 1243.0,1147.6 1243.5,1147.8 1244.0,1148.0 1244.5,1148.3 1245.0,1148.5 1245.5,1148.7 1246.0,1148.9 1246.5,1149.1 1247.0,1149.3 1247.5,1149.6 1248.0,1149.8 1248.5,1150.0 1249.0,1150.2 1249.5,1150.4 1250.0,1150.6 1250.5,1150.8 1251.0,1151.0 1251.5,1151.2 1252.0,1151.5 1252.5,1151.7 1253.0,1151.9 1253.5,1152.1 1254.0,1152.3 1254.5,1152.5 1255.0,1152.7 1255.5,1152.9 1256.0,1153.1 1256.5,1153.3 1257.0,1153.5 1257.5,1153.7 1258.0,1153.9 1258.5,1154.1 1259.0,1154.3 1259.5,1154.5 1260.0,1154.7 1260.5,1154.9 1261.0,1155.1 1261.5,1155.3 1262.0,1155.5 1262.5,1155.7 1263.0,1155.9 1263.5,1156.1 1264.0,1156.3 1264.5,1156.5 1265.0,1156.7 1265.5,1156.9 1266.0,1157.1 1266.5,1157.3 1267.0,1157.5 1267.5,1157.7 1268.0,1157.9 1268.5,1158.1 1269.0,1158.3 1269.5,1158.5 1270.0,1158.7 1270.5,1158.9 1271.0,1159.1 1271.5,1159.3 1272.0,1159.4 1272.5,1159.6 1273.0,1159.8 1273.5,1160.0 1274.0,1160.2 1274.5,1160.4 1275.0,1160.6 1275.5,1160.8 1276.0,1161.0 1276.5,1161.2 1277.0,1161.3 1277.5,1161.5 1278.0,1161.7 1278.5,1161.9 1279.0,1162.1 1279.5,1162.3 1280.0,1162.5 1280.5,1162.6 1281.0,1162.8 1281.5,1163.0 1282.0,1163.2 1282.5,1163.4 1283.0,1163.5 1283.5,1163.7 1284.0,1163.9 1284.5,1164.1 1285.0,1164.3 1285.5,1164.5 1286.0,1164.6 1286.5,1164.8 1287.0,1165.0 1287.5,1165.2 1288.0,1165.3 1288.5,1165.5 1289.0,1165.7 1289.5,1165.9 1290.0,1166.1 1290.5,1166.2 1291.0,1166.4 1291.5,1166.6 1292.0,1166.8 1292.5,1166.9 1293.0,1167.1 1293.5,1167.3 1294.0,1167.5 1294.5,1167.6 1295.0,1167.8 1295.5,1168.0 1296.0,1168.1 1296.5,1168.3 1297.0,1168.5 1297.5,1168.7 1298.0,1168.8 1298.5,1169.0 1299.0,1169.2 1299.5,1169.3 1300.0,1169.5 1300.5,1169.7 1301.0,1169.8 1301.5,1170.0 1302.0,1170.2 1302.5,1170.4 1303.0,1170.5 1303.5,1170.7 1304.0,1170.9 1304.5,1171.0 1305.0,1171.2 1305.5,1171.4 1306.0,1171.5 1306.5,1171.7 1307.0,1171.8 1307.5,1172.0 1308.0,1172.2 1308.5,1172.3 1309.0,1172.5 1309.5,1172.7 1310.0,1172.8 1310.5,1173.0 1311.0,1173.1 1311.5,1173.3 1312.0,1173.5 1312.5,1173.6 1313.0,1173.8 1313.5,1174.0 1314.0,1174.1 1314.5,1174.3 1315.0,1174.4 1315.5,1174.6 1316.0,1174.7 1316.5,1174.9 1317.0,1175.1 1317.5,1175.2 1318.0,1175.4 1318.5,1175.5 1319.0,1175.7 1319.5,1175.8 1320.0,1176.0 1320.5,1176.2 1321.0,1176.3 1321.5,1176.5 1322.0,1176.6 1322.5,1176.8 1323.0,1176.9 1323.5,1177.1 1324.0,1177.2 1324.5,1177.4 1325.0,1177.5 1325.5,1177.7 1326.0,1177.8 1326.5,1178.0 1327.0,1178.1 1327.5,1178.3 1328.0,1178.4 1328.5,1178.6 1329.0,1178.7 1329.5,1178.9 1330.0,1179.0 1330.5,1179.2 1331.0,1179.3 1331.5,1179.5 1332.0,1179.6 1332.5,1179.8 1333.0,1179.9 1333.5,1180.1 1334.0,1180.2 1334.5,1180.4 1335.0,1180.5 1335.5,1180.7 1336.0,1180.8 1336.5,1180.9 1337.0,1181.1 1337.5,1181.2 1338.0,1181.4 1338.5,1181.5 1339.0,1181.7 1339.5,1181.8 1340.0,1182.0 1340.5,1182.1 1341.0,1182.2 1341.5,1182.4 1342.0,1182.5 1342.5,1182.7 1343.0,1182.8 1343.5,1182.9 1344.0,1183.1 1344.5,1183.2 1345.0,1183.4 1345.5,1183.5 1346.0,1183.6 1346.5,1183.8 1347.0,1183.9 1347.5,1184.1 1348.0,1184.2 1348.5,1184.3 1349.0,1184.5 1349.5,1184.6 1350.0,1184.7 1350.5,1184.9 1351.0,1185.0 1351.5,1185.2 1352.0,1185.3 1352.5,1185.4 1353.0,1185.6 1353.5,1185.7 1354.0,1185.8 1354.5,1186.0 1355.0,1186.1 1355.5,1186.2 1356.0,1186.4 1356.5,1186.5 1357.0,1186.6 1357.5,1186.8 1358.0,1186.9 1358.5,1187.0 1359.0,1187.1 1359.5,1187.3 1360.0,1187.4 1360.5,1187.5 1361.0,1187.7 1361.5,1187.8 1362.0,1187.9 1362.5,1188.1 1363.0,1188.2 1363.5,1188.3 1364.0,1188.4 1364.5,1188.6 1365.0,1188.7 1365.5,1188.8 1366.0,1189.0 1366.5,1189.1 1367.0,1189.2 1367.5,1189.3 1368.0,1189.5 1368.5,1189.6 1369.0,1189.7 1369.5,1189.8 1370.0,1190.0 1370.5,1190.1 1371.0,1190.2 1371.5,1190.3 1372.0,1190.5 1372.5,1190.6 1373.0,1190.7 1373.5,1190.8 1374.0,1191.0 1374.5,1191.1 1375.0,1191.2 1375.5,1191.3 1376.0,1191.4 1376.5,1191.6 1377.0,1191.7 1377.5,1191.8 1378.0,1191.9 1378.5,1192.0 1379.0,1192.2 1379.5,1192.3 1380.0,1192.4 1380.5,1192.5 1381.0,1192.6 1381.5,1192.8 1382.0,1192.9 1382.5,1193.0 1383.0,1193.1 1383.5,1193.2 1384.0,1193.3 1384.5,1193.5 1385.0,1193.6 1385.5,1193.7 1386.0,1193.8 1386.5,1193.9 1387.0,1194.0 1387.5,1194.2 1388.0,1194.3 1388.5,1194.4 1389.0,1194.5 1389.5,1194.6 1390.0,1194.7 1390.5,1194.8 1391.0,1195.0 1391.5,1195.1 1392.0,1195.2 1392.5,1195.3 1393.0,1195.4 1393.5,1195.5 1394.0,1195.6 1394.5,1195.7 1395.0,1195.9 1395.5,1196.0 1396.0,1196.1 1396.5,1196.2 1397.0,1196.3 1397.5,1196.4 1398.0,1196.5 1398.5,1196.6 1399.0,1196.7 1399.5,1196.9 1400.0,1197.0 1400.5,1197.1 1401.0,1197.2 1401.5,1197.3 1402.0,1197.4 1402.5,1197.5 1403.0,1197.6 1403.5,1197.7 1404.0,1197.8 1404.5,1197.9 1405.0,1198.0 1405.5,1198.1 1406.0,1198.2 1406.5,1198.4 1407.0,1198.5 1407.5,1198.6 1408.0,1198.7 1408.5,1198.8 1409.0,1198.9 1409.5,1199.0 1410.0,1199.1 1410.5,1199.2 1411.0,1199.3 1411.5,1199.4 1412.0,1199.5 1412.5,1199.6 1413.0,1199.7 1413.5,1199.8 1414.0,1199.9 1414.5,1200.0 1415.0,1200.1 1415.5,1200.2 1416.0,1200.3 1416.5,1200.4 1417.0,1200.5 1417.5,1200.6 1418.0,1200.7 1418.5,1200.8 1419.0,1200.9 1419.5,1201.0 1420.0,1201.1 1420.5,1201.2 1421.0,1201.3 1421.5,1201.4 1422.0,1201.5 1422.5,1201.6 1423.0,1201.7 1423.5,1201.8 1424.0,1201.9 1424.5,1202.0 1425.0,1202.1 1425.5,1202.2 1426.0,1202.3 1426.5,1202.4 1427.0,1202.5 1427.5,1202.6 1428.0,1202.7 1428.5,1202.8 1429.0,1202.9 1429.5,1203.0 1430.0,1203.1 1430.5,1203.2 1431.0,1203.2 1431.5,1203.3 1432.0,1203.4 1432.5,1203.5 1433.0,1203.6 1433.5,1203.7 1434.0,1203.8 1434.5,1203.9 1435.0,1204.0 1435.5,1204.1 1436.0,1204.2 1436.5,1204.3 1437.0,1204.4 1437.5,1204.5 1438.0,1204.5 1438.5,1204.6 1439.0,1204.7 1439.5,1204.8 1440.0,1204.9 1440.5,1205.0 1441.0,1205.1 1441.5,1205.2 1442.0,1205.3 1442.5,1205.4 1443.0,1205.4 1443.5,1205.5 1444.0,1205.6 1444.5,1205.7 1445.0,1205.8 1445.5,1205.9 1446.0,1206.0 1446.5,1206.1 1447.0,1206.2 1447.5,1206.2 1448.0,1206.3 1448.5,1206.4 1449.0,1206.5 1449.5,1206.6 1450.0,1206.7 1450.5,1206.8 1451.0,1206.9 1451.5,1206.9 1452.0,1207.0 1452.5,1207.1 1453.0,1207.2 1453.5,1207.3 1454.0,1207.4 1454.5,1207.4 1455.0,1207.5 1455.5,1207.6 1456.0,1207.7 1456.5,1207.8 1457.0,1207.9 1457.5,1208.0 1458.0,1208.0 1458.5,1208.1 1459.0,1208.2 1459.5,1208.3 1460.0,1208.4 1460.5,1208.5 1461.0,1208.5 1461.5,1208.6 1462.0,1208.7 1462.5,1208.8 1463.0,1208.9 1463.5,1208.9 1464.0,1209.0 1464.5,1209.1 1465.0,1209.2 1465.5,1209.3 1466.0,1209.3 1466.5,1209.4 1467.0,1209.5 1467.5,1209.6 1468.0,1209.7 1468.5,1209.7 1469.0,1209.8 1469.5,1209.9 1470.0,1210.0 1470.5,1210.1 1471.0,1210.1 1471.5,1210.2 1472.0,1210.3 1472.5,1210.4 1473.0,1210.5 1473.5,1210.5 1474.0,1210.6 1474.5,1210.7 1475.0,1210.8 1475.5,1210.8 1476.0,1210.9 1476.5,1211.0 1477.0,1211.1 1477.5,1211.1 1478.0,1211.2 1478.5,1211.3 1479.0,1211.4 1479.5,1211.5 1480.0,1211.5 1480.5,1211.6 1481.0,1211.7 1481.5,1211.8 1482.0,1211.8 1482.5,1211.9 1483.0,1212.0 1483.5,1212.1 1484.0,1212.1 1484.5,1212.2 1485.0,1212.3 1485.5,1212.3 1486.0,1212.4 1486.5,1212.5 1487.0,1212.6 1487.5,1212.6 1488.0,1212.7 1488.5,1212.8 1489.0,1212.9 1489.5,1212.9 1490.0,1213.0 1490.5,1213.1 1491.0,1213.1 1491.5,1213.2 1492.0,1213.3 1492.5,1213.4 1493.0,1213.4 1493.5,1213.5 1494.0,1213.6 1494.5,1213.6 1495.0,1213.7 1495.5,1213.8 1496.0,1213.9 1496.5,1213.9 1497.0,1214.0 1497.5,1214.1 1498.0,1214.1 1498.5,1214.2 1499.0,1214.3 1499.5,1214.3 1500.0,1214.4 1500.5,1214.5 1501.0,1214.6 1501.5,1214.6 1502.0,1214.7 1502.5,1214.8 1503.0,1214.8 1503.5,1214.9 1504.0,1215.0 1504.5,1215.0 1505.0,1215.1 1505.5,1215.2 1506.0,1215.2 1506.5,1215.3 1507.0,1215.4 1507.5,1215.4 1508.0,1215.5 1508.5,1215.6 1509.0,1215.6 1509.5,1215.7 1510.0,1215.8 1510.5,1215.8 1511.0,1215.9 1511.5,1216.0 1512.0,1216.0 1512.5,1216.1 1513.0,1216.2 1513.5,1216.2 1514.0,1216.3 1514.5,1216.4 1515.0,1216.4 1515.5,1216.5 1516.0,1216.6 1516.5,1216.6 1517.0,1216.7 1517.5,1216.8 1518.0,1216.8 1518.5,1216.9 1519.0,1216.9 1519.5,1217.0 1520.0,1217.1 1520.5,1217.1 1521.0,1217.2 1521.5,1217.3 1522.0,1217.3 1522.5,1217.4 1523.0,1217.5 1523.5,1217.5 1524.0,1217.6 1524.5,1217.6 1525.0,1217.7 1525.5,1217.8 1526.0,1217.8 1526.5,1217.9 1527.0,1218.0 1527.5,1218.0 1528.0,1218.1 1528.5,1218.1 1529.0,1218.2 1529.5,1218.3 1530.0,1218.3 1530.5,1218.4 1531.0,1218.5 1531.5,1218.5 1532.0,1218.6 1532.5,1218.6 1533.0,1218.7 1533.5,1218.8 1534.0,1218.8 1534.5,1218.9 1535.0,1218.9 1535.5,1219.0 1536.0,1219.1 1536.5,1219.1 1537.0,1219.2 1537.5,1219.2 1538.0,1219.3 1538.5,1219.4 1539.0,1219.4 1539.5,1219.5 1540.0,1219.5 1540.5,1219.6 1541.0,1219.7 1541.5,1219.7 1542.0,1219.8 1542.5,1219.8 1543.0,1219.9 1543.5,1219.9 1544.0,1220.0 1544.5,1220.1 1545.0,1220.1 1545.5,1220.2 1546.0,1220.2 1546.5,1220.3 1547.0,1220.4 1547.5,1220.4 1548.0,1220.5 1548.5,1220.5 1549.0,1220.6 1549.5,1220.6 1550.0,1220.7 1550.5,1220.8 1551.0,1220.8 1551.5,1220.9 1552.0,1220.9 1552.5,1221.0 1553.0,1221.0 1553.5,1221.1 1554.0,1221.2 1554.5,1221.2 1555.0,1221.3 1555.5,1221.3 1556.0,1221.4 1556.5,1221.4 1557.0,1221.5 1557.5,1221.5 1558.0,1221.6 1558.5,1221.7 1559.0,1221.7 1559.5,1221.8 1560.0,1221.8 1560.5,1221.9 1561.0,1221.9 1561.5,1222.0 1562.0,1222.0 1562.5,1222.1 1563.0,1222.2 1563.5,1222.2 1564.0,1222.3 1564.5,1222.3 1565.0,1222.4 1565.5,1222.4 1566.0,1222.5 1566.5,1222.5 1567.0,1222.6 1567.5,1222.6 1568.0,1222.7 1568.5,1222.8 1569.0,1222.8 1569.5,1222.9 1570.0,1222.9 1570.5,1223.0 1571.0,1223.0 1571.5,1223.1 1572.0,1223.1 1572.5,1223.2 1573.0,1223.2 1573.5,1223.3 1574.0,1223.3 1574.5,1223.4 1575.0,1223.4 1575.5,1223.5 1576.0,1223.6 1576.5,1223.6 1577.0,1223.7 1577.5,1223.7 1578.0,1223.8 1578.5,1223.8 1579.0,1223.9 1579.5,1223.9 1580.0,1224.0 1580.5,1224.0 1581.0,1224.1 1581.5,1224.1 1582.0,1224.2 1582.5,1224.2 1583.0,1224.3 1583.5,1224.3 1584.0,1224.4 1584.5,1224.4 1585.0,1224.5 1585.5,1224.6 1586.0,1224.6 1586.5,1224.7 1587.0,1224.7 1587.5,1224.8 1588.0,1224.8 1588.5,1224.9 1589.0,1224.9 1589.5,1225.0 1590.0,1225.0 1590.5,1225.1 1591.0,1225.1 1591.5,1225.2 1592.0,1225.2 1592.5,1225.3 1593.0,1225.3 1593.5,1225.4 1594.0,1225.4 1594.5,1225.5 1595.0,1225.5 1595.5,1225.6 1596.0,1225.6 1596.5,1225.7 1597.0,1225.7 1597.5,1225.8 1598.0,1225.8 1598.5,1225.9 1599.0,1225.9 1599.5,1226.0 1600.0,1226.0 1600.5,1226.1 1601.0,1226.1 1601.5,1226.2 1602.0,1226.2 1602.5,1226.3 1603.0,1226.3 1603.5,1226.4 1604.0,1226.4 1604.5,1226.5 1605.0,1226.5 1605.5,1226.6 1606.0,1226.6 1606.5,1226.7 1607.0,1226.7 1607.5,1226.8 1608.0,1226.8 1608.5,1226.9 1609.0,1226.9 1609.5,1227.0 1610.0,1227.0 1610.5,1227.1 1611.0,1227.1 1611.5,1227.2 1612.0,1227.2 1612.5,1227.3 1613.0,1227.3 1613.5,1227.4 1614.0,1227.4 1614.5,1227.4 1615.0,1227.5 1615.5,1227.5 1616.0,1227.6 1616.5,1227.6 1617.0,1227.7 1617.5,1227.7 1618.0,1227.8 1618.5,1227.8 1619.0,1227.9 1619.5,1227.9 1620.0,1228.0 1620.5,1228.0 1621.0,1228.1 1621.5,1228.1 1622.0,1228.2 1622.5,1228.2 1623.0,1228.3 1623.5,1228.3 1624.0,1228.4 1624.5,1228.4 1625.0,1228.4 1625.5,1228.5 1626.0,1228.5 1626.5,1228.6 1627.0,1228.6 1627.5,1228.7 1628.0,1228.7 1628.5,1228.8 1629.0,1228.8 1629.5,1228.9 1630.0,1228.9 1630.5,1229.0 1631.0,1229.0 1631.5,1229.0 1632.0,1229.1 1632.5,1229.1 1633.0,1229.2 1633.5,1229.2 1634.0,1229.3 1634.5,1229.3 1635.0,1229.4 1635.5,1229.4 1636.0,1229.5 1636.5,1229.5 1637.0,1229.6 1637.5,1229.6 1638.0,1229.6 1638.5,1229.7 1639.0,1229.7 1639.5,1229.8 1640.0,1229.8 1640.5,1229.9 1641.0,1229.9 1641.5,1230.0 1642.0,1230.0 1642.5,1230.0 1643.0,1230.1 1643.5,1230.1 1644.0,1230.2 1644.5,1230.2 1645.0,1230.3 1645.5,1230.3 1646.0,1230.4 1646.5,1230.4 1647.0,1230.4 1647.5,1230.5 1648.0,1230.5 1648.5,1230.6 1649.0,1230.6 1649.5,1230.7 1650.0,1230.7 1650.5,1230.8 1651.0,1230.8 1651.5,1230.8 1652.0,1230.9 1652.5,1230.9 1653.0,1231.0 1653.5,1231.0 1654.0,1231.1 1654.5,1231.1 1655.0,1231.1 1655.5,1231.2 1656.0,1231.2 1656.5,1231.3 1657.0,1231.3 1657.5,1231.4 1658.0,1231.4 1658.5,1231.4 1659.0,1231.5 1659.5,1231.5 1660.0,1231.6 1660.5,1231.6 1661.0,1231.7 1661.5,1231.7 1662.0,1231.7 1662.5,1231.8 1663.0,1231.8 1663.5,1231.9 1664.0,1231.9 1664.5,1232.0 1665.0,1232.0 1665.5,1232.0 1666.0,1232.1 1666.5,1232.1 1667.0,1232.2 1667.5,1232.2 1668.0,1232.3 1668.5,1232.3 1669.0,1232.3 1669.5,1232.4 1670.0,1232.4 1670.5,1232.5 1671.0,1232.5 1671.5,1232.5 1672.0,1232.6 1672.5,1232.6 1673.0,1232.7 1673.5,1232.7 1674.0,1232.7 1674.5,1232.8 1675.0,1232.8 1675.5,1232.9 1676.0,1232.9 1676.5,1233.0 1677.0,1233.0 1677.5,1233.0 1678.0,1233.1 1678.5,1233.1 1679.0,1233.2 1679.5,1233.2 1680.0,1233.2 1680.5,1233.3 1681.0,1233.3 1681.5,1233.4 1682.0,1233.4 1682.5,1233.4 1683.0,1233.5 1683.5,1233.5 1684.0,1233.6 1684.5,1233.6 1685.0,1233.6 1685.5,1233.7 1686.0,1233.7 1686.5,1233.8 1687.0,1233.8 1687.5,1233.8 1688.0,1233.9 1688.5,1233.9 1689.0,1234.0 1689.5,1234.0 1690.0,1234.0 1690.5,1234.1 1691.0,1234.1 1691.5,1234.1 1692.0,1234.2 1692.5,1234.2 1693.0,1234.3 1693.5,1234.3 1694.0,1234.3 1694.5,1234.4 1695.0,1234.4 1695.5,1234.5 1696.0,1234.5 1696.5,1234.5 1697.0,1234.6 1697.5,1234.6 1698.0,1234.6 1698.5,1234.7 1699.0,1234.7 1699.5,1234.8 1700.0,1234.8 1700.5,1234.8 1701.0,1234.9 1701.5,1234.9 1702.0,1234.9 1702.5,1235.0 1703.0,1235.0 1703.5,1235.1 1704.0,1235.1 1704.5,1235.1 1705.0,1235.2 1705.5,1235.2 1706.0,1235.2 1706.5,1235.3 1707.0,1235.3 1707.5,1235.4 1708.0,1235.4 1708.5,1235.4 1709.0,1235.5 1709.5,1235.5 1710.0,1235.5 1710.5,1235.6 1711.0,1235.6 1711.5,1235.7 1712.0,1235.7 1712.5,1235.7 1713.0,1235.8 1713.5,1235.8 1714.0,1235.8 1714.5,1235.9 1715.0,1235.9 1715.5,1235.9 1716.0,1236.0 1716.5,1236.0 1717.0,1236.1 1717.5,1236.1 1718.0,1236.1 1718.5,1236.2 1719.0,1236.2 1719.5,1236.2 1720.0,1236.3 1720.5,1236.3 1721.0,1236.3 1721.5,1236.4 1722.0,1236.4 1722.5,1236.4 1723.0,1236.5 1723.5,1236.5 1724.0,1236.6 1724.5,1236.6 1725.0,1236.6 1725.5,1236.7 1726.0,1236.7 1726.5,1236.7 1727.0,1236.8 1727.5,1236.8 1728.0,1236.8 1728.5,1236.9 1729.0,1236.9 1729.5,1236.9 1730.0,1237.0 1730.5,1237.0 1731.0,1237.0 1731.5,1237.1 1732.0,1237.1 1732.5,1237.1 1733.0,1237.2 1733.5,1237.2 1734.0,1237.2 1734.5,1237.3 1735.0,1237.3 1735.5,1237.3 1736.0,1237.4 1736.5,1237.4 1737.0,1237.4 1737.5,1237.5 1738.0,1237.5 1738.5,1237.5 1739.0,1237.6 1739.5,1237.6 1740.0,1237.6 1740.5,1237.7 1741.0,1237.7 1741.5,1237.7 1742.0,1237.8 1742.5,1237.8 1743.0,1237.8 1743.5,1237.9 1744.0,1237.9 1744.5,1237.9 1745.0,1238.0 1745.5,1238.0 1746.0,1238.0 1746.5,1238.1 1747.0,1238.1 1747.5,1238.1 1748.0,1238.2 1748.5,1238.2 1749.0,1238.2 1749.5,1238.3 1750.0,1238.3 1750.5,1238.3 1751.0,1238.4 1751.5,1238.4 1752.0,1238.4 1752.5,1238.5 1753.0,1238.5 1753.5,1238.5 1754.0,1238.6 1754.5,1238.6 1755.0,1238.6 1755.5,1238.7 1756.0,1238.7 1756.5,1238.7 1757.0,1238.7 1757.5,1238.8 1758.0,1238.8 1758.5,1238.8 1759.0,1238.9 1759.5,1238.9 1760.0,1238.9 1760.5,1239.0 1761.0,1239.0 1761.5,1239.0 1762.0,1239.1 1762.5,1239.1 1763.0,1239.1 1763.5,1239.2 1764.0,1239.2 1764.5,1239.2 1765.0,1239.2 1765.5,1239.3 1766.0,1239.3 1766.5,1239.3 1767.0,1239.4 1767.5,1239.4 1768.0,1239.4 1768.5,1239.5 1769.0,1239.5 1769.5,1239.5 1770.0,1239.5 1770.5,1239.6 1771.0,1239.6 1771.5,1239.6 1772.0,1239.7 1772.5,1239.7 1773.0,1239.7 1773.5,1239.8 1774.0,1239.8 1774.5,1239.8 1775.0,1239.8 1775.5,1239.9 1776.0,1239.9 1776.5,1239.9 1777.0,1240.0 1777.5,1240.0 1778.0,1240.0 1778.5,1240.0 1779.0,1240.1 1779.5,1240.1 1780.0,1240.1 1780.5,1240.2 1781.0,1240.2 1781.5,1240.2 1782.0,1240.2 1782.5,1240.3 1783.0,1240.3 1783.5,1240.3 1784.0,1240.4 1784.5,1240.4 1785.0,1240.4 1785.5,1240.4 1786.0,1240.5 1786.5,1240.5 1787.0,1240.5 1787.5,1240.6 1788.0,1240.6 1788.5,1240.6 1789.0,1240.6 1789.5,1240.7 1790.0,1240.7 1790.5,1240.7 1791.0,1240.8 1791.5,1240.8 1792.0,1240.8 1792.5,1240.8 1793.0,1240.9 1793.5,1240.9 1794.0,1240.9 1794.5,1240.9 1795.0,1241.0 1795.5,1241.0 1796.0,1241.0 1796.5,1241.1 1797.0,1241.1 1797.5,1241.1 1798.0,1241.1 1798.5,1241.2 1799.0,1241.2 1799.5,1241.2 1800.0,1241.2 1800.5,1241.3 1801.0,1241.3 1801.5,1241.3 1802.0,1241.4 1802.5,1241.4 1803.0,1241.4 1803.5,1241.4 1804.0,1241.5 1804.5,1241.5 1805.0,1241.5 1805.5,1241.5 1806.0,1241.6 1806.5,1241.6 1807.0,1241.6 1807.5,1241.6 1808.0,1241.7 1808.5,1241.7 1809.0,1241.7 1809.5,1241.7 1810.0,1241.8 1810.5,1241.8 1811.0,1241.8 1811.5,1241.8 1812.0,1241.9 1812.5,1241.9 1813.0,1241.9 1813.5,1241.9 1814.0,1242.0 1814.5,1242.0 1815.0,1242.0 1815.5,1242.0 1816.0,1242.1 1816.5,1242.1 1817.0,1242.1 1817.5,1242.1 1818.0,1242.2 1818.5,1242.2 1819.0,1242.2 1819.5,1242.2 1820.0,1242.3 1820.5,1242.3 1821.0,1242.3 1821.5,1242.3 1822.0,1242.4 1822.5,1242.4 1823.0,1242.4 1823.5,1242.4 1824.0,1242.5 1824.5,1242.5 1825.0,1242.5 1825.5,1242.5 1826.0,1242.6 1826.5,1242.6 1827.0,1242.6 1827.5,1242.6 1828.0,1242.7 1828.5,1242.7 1829.0,1242.7 1829.5,1242.7 1830.0,1242.8 1830.5,1242.8 1831.0,1242.8 1831.5,1242.8 1832.0,1242.8 1832.5,1242.9 1833.0,1242.9 1833.5,1242.9 1834.0,1242.9 1834.5,1243.0 1835.0,1243.0 1835.5,1243.0 1836.0,1243.0 1836.5,1243.1 1837.0,1243.1 1837.5,1243.1 1838.0,1243.1 1838.5,1243.1 1839.0,1243.2 1839.5,1243.2 1840.0,1243.2 1840.5,1243.2 1841.0,1243.3 1841.5,1243.3 1842.0,1243.3 1842.5,1243.3 1843.0,1243.3 1843.5,1243.4 1844.0,1243.4 1844.5,1243.4 1845.0,1243.4 1845.5,1243.5 1846.0,1243.5 1846.5,1243.5 1847.0,1243.5 1847.5,1243.5 1848.0,1243.6 1848.5,1243.6 1849.0,1243.6 1849.5,1243.6 1850.0,1243.7 1850.5,1243.7 1851.0,1243.7 1851.5,1243.7 1852.0,1243.7 1852.5,1243.8 1853.0,1243.8 1853.5,1243.8 1854.0,1243.8 1854.5,1243.8 1855.0,1243.9 1855.5,1243.9 1856.0,1243.9 1856.5,1243.9 1857.0,1243.9 1857.5,1244.0 1858.0,1244.0 1858.5,1244.0 1859.0,1244.0 1859.5,1244.0 1860.0,1244.1 1860.5,1244.1 1861.0,1244.1 1861.5,1244.1 1862.0,1244.2 1862.5,1244.2 1863.0,1244.2 1863.5,1244.2 1864.0,1244.2 1864.5,1244.3 1865.0,1244.3 1865.5,1244.3 1866.0,1244.3 1866.5,1244.3 1867.0,1244.4 1867.5,1244.4 1868.0,1244.4 1868.5,1244.4 1869.0,1244.4 1869.5,1244.4 1870.0,1244.5 1870.5,1244.5 1871.0,1244.5 1871.5,1244.5 1872.0,1244.5 1872.5,1244.6 1873.0,1244.6 1873.5,1244.6 1874.0,1244.6 1874.5,1244.6 1875.0,1244.7 1875.5,1244.7 1876.0,1244.7 1876.5,1244.7 1877.0,1244.7 1877.5,1244.8 1878.0,1244.8 1878.5,1244.8 1879.0,1244.8 1879.5,1244.8 1880.0,1244.8 1880.5,1244.9 1881.0,1244.9 1881.5,1244.9 1882.0,1244.9 1882.5,1244.9 1883.0,1245.0 1883.5,1245.0 1884.0,1245.0 1884.5,1245.0 1885.0,1245.0 1885.5,1245.0 1886.0,1245.1 1886.5,1245.1 1887.0,1245.1 1887.5,1245.1 1888.0,1245.1 1888.5,1245.1 1889.0,1245.2 1889.5,1245.2 1890.0,1245.2 1890.5,1245.2 1891.0,1245.2 1891.5,1245.3 1892.0,1245.3 1892.5,1245.3 1893.0,1245.3 1893.5,1245.3 1894.0,1245.3 1894.5,1245.4 1895.0,1245.4 1895.5,1245.4 1896.0,1245.4 1896.5,1245.4 1897.0,1245.4 1897.5,1245.5 1898.0,1245.5 1898.5,1245.5 1899.0,1245.5 1899.5,1245.5 1900.0,1245.5 1900.5,1245.6 1901.0,1245.6 1901.5,1245.6 1902.0,1245.6 1902.5,1245.6 1903.0,1245.6 1903.5,1245.7 1904.0,1245.7 1904.5,1245.7 1905.0,1245.7 1905.5,1245.7 1906.0,1245.7 1906.5,1245.7 1907.0,1245.8 1907.5,1245.8 1908.0,1245.8 1908.5,1245.8 1909.0,1245.8 1909.5,1245.8 1910.0,1245.9 1910.5,1245.9 1911.0,1245.9 1911.5,1245.9 1912.0,1245.9 1912.5,1245.9 1913.0,1245.9 1913.5,1246.0 1914.0,1246.0 1914.5,1246.0 1915.0,1246.0 1915.5,1246.0 1916.0,1246.0 1916.5,1246.1 1917.0,1246.1 1917.5,1246.1 1918.0,1246.1 1918.5,1246.1 1919.0,1246.1 1919.5,1246.1 1920.0,1246.2 1920.5,1246.2 1921.0,1246.2 1921.5,1246.2 1922.0,1246.2 1922.5,1246.2 1923.0,1246.2 1923.5,1246.3 1924.0,1246.3 1924.5,1246.3 1925.0,1246.3 1925.5,1246.3 1926.0,1246.3 1926.5,1246.3 1927.0,1246.3 1927.5,1246.4 1928.0,1246.4 1928.5,1246.4 1929.0,1246.4 1929.5,1246.4 1930.0,1246.4 1930.5,1246.4 1931.0,1246.5 1931.5,1246.5 1932.0,1246.5 1932.5,1246.5 1933.0,1246.5 1933.5,1246.5 1934.0,1246.5 1934.5,1246.5 1935.0,1246.6 1935.5,1246.6 1936.0,1246.6 1936.5,1246.6 1937.0,1246.6 1937.5,1246.6" fill="none" stroke="#f00" stroke-width="6.0" stroke-linejoin="round" stroke-linecap="butt"/>
<path d="M308.5,853.1 309.0,852.5 309.5,851.8 310.0,851.2 310.5,850.6 311.0,850.0 311.5,849.4 312.0,848.8 312.5,848.1 313.0,847.5 313.5,846.9 314.0,846.3 314.5,845.6 315.0,845.0 315.5,844.4 316.0,843.7 316.5,843.1 317.0,842.5 317.5,841.8 318.0,841.2 318.5,840.6 319.0,839.9 319.5,839.3 320.0,838.6 320.5,838.0 321.0,837.3 321.5,836.7 322.0,836.0 322.5,835.4 323.0,834.7 323.5,834.1 324.0,833.4 324.5,832.8 325.0,832.1 325.5,831.4 326.0,830.8 326.5,830.1 327.0,829.4 327.5,828.8 328.0,828.1 328.5,827.4 329.0,826.8 329.5,826.1 330.0,825.4 330.5,824.7 331.0,824.0 331.5,823.4 332.0,822.7 332.5,822.0 333.0,821.3 333.5,820.6 334.0,819.9 334.5,819.2 335.0,818.5 335.5,817.8 336.0,817.1 336.5,816.4 337.0,815.7 337.5,815.0 338.0,814.3 338.5,813.6 339.0,812.8 339.5,812.1 340.0,811.4 340.5,810.7 341.0,810.0 341.5,809.2 342.0,808.5 342.5,807.8 343.0,807.0 343.5,806.3 344.0,805.6 344.5,804.8 345.0,804.1 345.5,803.3 346.0,802.6 346.5,801.9 347.0,801.1 347.5,800.3 348.0,799.6 348.5,798.8 349.0,798.1 349.5,797.3 350.0,796.5 350.5,795.8 351.0,795.0 351.5,794.2 352.0,793.5 352.5,792.7 353.0,791.9 353.5,791.1 354.0,790.3 354.5,789.5 355.0,788.8 355.5,788.0 356.0,787.2 356.5,786.4 357.0,785.6 357.5,784.8 358.0,784.0 358.5,783.1 359.0,782.3 359.5,781.5 360.0,780.7 360.5,779.9 361.0,779.1 361.5,778.2 362.0,777.4 362.5,776.6 363.0,775.7 363.5,774.9 364.0,774.1 364.5,773.2 365.0,772.4 365.5,771.5 366.0,770.7 366.5,769.8 367.0,769.0 367.5,768.1 368.0,767.2 368.5,766.4 369.0,765.5 369.5,764.6 370.0,763.7 370.5,762.9 371.0,762.0 371.5,761.1 372.0,760.2 372.5,759.3 373.0,758.4 373.5,757.5 374.0,756.6 374.5,755.7 375.0,754.8 375.5,753.9 376.0,753.0 376.5,752.1 377.0,751.2 377.5,750.2 378.0,749.3 378.5,748.4 379.0,747.5 379.5,746.5 380.0,745.6 380.5,744.6 381.0,743.7 381.5,742.7 382.0,741.8 382.5,740.8 383.0,739.9 383.5,738.9 384.0,737.9 384.5,737.0 385.0,736.0 385.5,735.0 386.0,734.0 386.5,733.1 387.0,732.1 387.5,731.1 388.0,730.1 388.5,729.1 389.0,728.1 389.5,727.1 390.0,726.1 390.5,725.1 391.0,724.0 391.5,723.0 392.0,722.0 392.5,721.0 393.0,719.9 393.5,718.9 394.0,717.9 394.5,716.8 395.0,715.8 395.5,714.7 396.0,713.7 396.5,712.6 397.0,711.6 397.5,710.5 398.0,709.4 398.5,708.4 399.0,707.3 399.5,706.2 400.0,705.1 400.5,704.0 401.0,702.9 401.5,701.9 402.0,700.8 402.5,699.6 403.0,698.5 403.5,697.4 404.0,696.3 404.5,695.2 405.0,694.1 405.5,692.9 406.0,691.8 406.5,690.7 407.0,689.5 407.5,688.4 408.0,687.2 408.5,686.1 409.0,684.9 409.5,683.8 410.0,682.6 410.5,681.4 411.0,680.3 411.5,679.1 412.0,677.9 412.5,676.7 413.0,675.5 413.5,674.3 414.0,673.1 414.5,671.9 415.0,670.7 415.5,669.5 416.0,668.3 416.5,667.1 417.0,665.9 417.5,664.6 418.0,663.4 418.5,662.2 419.0,660.9 419.5,659.7 420.0,658.4 420.5,657.2 421.0,655.9 421.5,654.7 422.0,653.4 422.5,652.2 423.0,650.9 423.5,649.6 424.0,648.4 424.5,647.1 425.0,645.8 425.5,644.5 426.0,643.2 426.5,642.0 427.0,640.7 427.5,639.4 428.0,638.1 428.5,636.8 429.0,635.5 429.5,634.2 430.0,632.9 430.5,631.6 431.0,630.3 431.5,629.0 432.0,627.7 432.5,626.3 433.0,625.0 433.5,623.7 434.0,622.4 434.5,621.1 435.0,619.8 435.5,618.4 436.0,617.1 436.5,615.8 437.0,614.5 437.5,613.1 438.0,611.8 438.5,610.5 439.0,609.2 439.5,607.8 440.0,606.5 440.5,605.2 441.0,603.8 441.5,602.5 442.0,601.2 442.5,599.8 443.0,598.5 443.5,597.2 444.0,595.8 444.5,594.5 445.0,593.2 445.5,591.8 446.0,590.5 446.5,589.2 447.0,587.8 447.5,586.5 448.0,585.2 448.5,583.8 449.0,582.5 449.5,581.2 450.0,579.8 450.5,578.5 451.0,577.2 451.5,575.8 452.0,574.5 452.5,573.2 453.0,571.9 453.5,570.5 454.0,569.2 454.5,567.9 455.0,566.6 455.5,565.3 456.0,563.9 456.5,562.6 457.0,561.3 457.5,560.0 458.0,558.7 458.5,557.4 459.0,556.1 459.5,554.8 460.0,553.4 460.5,552.1 461.0,550.8 461.5,549.5 462.0,548.3 462.5,547.0 463.0,545.7 463.5,544.4 464.0,543.1 464.5,541.8 465.0,540.5 465.5,539.3 466.0,538.0 466.5,536.7 467.0,535.4 467.5,534.2 468.0,532.9 468.5,531.7 469.0,530.4 469.5,529.1 470.0,527.9 470.5,526.6 471.0,525.4 471.5,524.2 472.0,522.9 472.5,521.7 473.0,520.5 473.5,519.2 474.0,518.0 474.5,516.8 475.0,515.6 475.5,514.4 476.0,513.1 476.5,511.9 477.0,510.7 477.5,509.5 478.0,508.3 478.5,507.1 479.0,505.9 479.5,504.7 480.0,503.5 480.5,502.3 481.0,501.1 481.5,499.9 482.0,498.7 482.5,497.5 483.0,496.3 483.5,495.1 484.0,493.9 484.5,492.7 485.0,491.5 485.5,490.3 486.0,489.1 486.5,487.9 487.0,486.7 487.5,485.5 488.0,484.3 488.5,483.1 489.0,481.9 489.5,480.7 490.0,479.5 490.5,478.3 491.0,477.1 491.5,475.9 492.0,474.6 492.5,473.4 493.0,472.2 493.5,471.0 494.0,469.8 494.5,468.5 495.0,467.3 495.5,466.1 496.0,464.9 496.5,463.6 497.0,462.4 497.5,461.1 498.0,459.9 498.5,458.7 499.0,457.4 499.5,456.1 500.0,454.9 500.5,453.6 501.0,452.4 501.5,451.1 502.0,449.8 502.5,448.5 503.0,447.3 503.5,446.0 504.0,444.7 504.5,443.4 505.0,442.1 505.5,440.8 506.0,439.5 506.5,438.2 507.0,436.9 507.5,435.6 508.0,434.3 508.5,433.0 509.0,431.7 509.5,430.4 510.0,429.1 510.5,427.8 511.0,426.5 511.5,425.2 512.0,423.9 512.5,422.6 513.0,421.2 513.5,419.9 514.0,418.6 514.5,417.3 515.0,416.0 515.5,414.7 516.0,413.4 516.5,412.1 517.0,410.8 517.5,409.5 518.0,408.2 518.5,406.9 519.0,405.6 519.5,404.4 520.0,403.1 520.5,401.8 521.0,400.5 521.5,399.2 522.0,398.0 522.5,396.7 523.0,395.4 523.5,394.2 524.0,392.9 524.5,391.7 525.0,390.4 525.5,389.2 526.0,387.9 526.5,386.7 527.0,385.5 527.5,384.2 528.0,383.0 528.5,381.8 529.0,380.6 529.5,379.4 530.0,378.2 530.5,377.0 531.0,375.8 531.5,374.6 532.0,373.5 532.5,372.3 533.0,371.2 533.5,370.0 534.0,368.9 534.5,367.7 535.0,366.6 535.5,365.5 536.0,364.4 536.5,363.3 537.0,362.2 537.5,361.1 538.0,360.0 538.5,358.9 539.0,357.9 539.5,356.8 540.0,355.7 540.5,354.7 541.0,353.6 541.5,352.6 542.0,351.6 542.5,350.6 543.0,349.5 543.5,348.5 544.0,347.5 544.5,346.5 545.0,345.6 545.5,344.6 546.0,343.6 546.5,342.7 547.0,341.7 547.5,340.8 548.0,339.8 548.5,338.9 549.0,338.0 549.5,337.0 550.0,336.1 550.5,335.2 551.0,334.3 551.5,333.4 552.0,332.6 552.5,331.7 553.0,330.8 553.5,329.9 554.0,329.1 554.5,328.3 555.0,327.4 555.5,326.6 556.0,325.8 556.5,324.9 557.0,324.1 557.5,323.3 558.0,322.5 558.5,321.8 559.0,321.0 559.5,320.2 560.0,319.4 560.5,318.7 561.0,317.9 561.5,317.2 562.0,316.5 562.5,315.7 563.0,315.0 563.5,314.3 564.0,313.6 564.5,312.9 565.0,312.2 565.5,311.6 566.0,310.9 566.5,310.2 567.0,309.6 567.5,308.9 568.0,308.3 568.5,307.6 569.0,307.0 569.5,306.4 570.0,305.8 570.5,305.2 571.0,304.6 571.5,304.0 572.0,303.4 572.5,302.8 573.0,302.3 573.5,301.7 574.0,301.2 574.5,300.6 575.0,300.1 575.5,299.6 576.0,299.0 576.5,298.5 577.0,298.0 577.5,297.5 578.0,297.1 578.5,296.6 579.0,296.1 579.5,295.6 580.0,295.2 580.5,294.7 581.0,294.3 581.5,293.9 582.0,293.4 582.5,293.0 583.0,292.6 583.5,292.2 584.0,291.8 584.5,291.4 585.0,291.1 585.5,290.7 586.0,290.3 586.5,290.0 587.0,289.6 587.5,289.3 588.0,289.0 588.5,288.6 589.0,288.3 589.5,288.0 590.0,287.7 590.5,287.4 591.0,287.2 591.5,286.9 592.0,286.6 592.5,286.4 593.0,286.1 593.5,285.9 594.0,285.7 594.5,285.4 595.0,285.2 595.5,285.0 596.0,284.8 596.5,284.6 597.0,284.4 597.5,284.3 598.0,284.1 598.5,283.9 599.0,283.8 599.5,283.6 600.0,283.5 600.5,283.4 601.0,283.3 601.5,283.2 602.0,283.1 602.5,283.0 603.0,282.9 603.5,282.8 604.0,282.7 604.5,282.7 605.0,282.6 605.5,282.6 606.0,282.6 606.5,282.5 607.0,282.5 607.5,282.5 608.0,282.5 608.5,282.5 609.0,282.5 609.5,282.5 610.0,282.6 610.5,282.6 611.0,282.7 611.5,282.7 612.0,282.8 612.5,282.9 613.0,282.9 613.5,283.0 614.0,283.1 614.5,283.2 615.0,283.3 615.5,283.4 616.0,283.6 616.5,283.7 617.0,283.8 617.5,284.0 618.0,284.1 618.5,284.3 619.0,284.5 619.5,284.6 620.0,284.8 620.5,285.0 621.0,285.2 621.5,285.4 622.0,285.6 622.5,285.9 623.0,286.1 623.5,286.3 624.0,286.6 624.5,286.8 625.0,287.1 625.5,287.3 626.0,287.6 626.5,287.9 627.0,288.2 627.5,288.4 628.0,288.7 628.5,289.0 629.0,289.4 629.5,289.7 630.0,290.0 630.5,290.3 631.0,290.7 631.5,291.0 632.0,291.3 632.5,291.7 633.0,292.1 633.5,292.4 634.0,292.8 634.5,293.2 635.0,293.6 635.5,294.0 636.0,294.4 636.5,294.8 637.0,295.2 637.5,295.6 638.0,296.0 638.5,296.5 639.0,296.9 639.5,297.3 640.0,297.8 640.5,298.2 641.0,298.7 641.5,299.2 642.0,299.6 642.5,300.1 643.0,300.6 643.5,301.1 644.0,301.6 644.5,302.1 645.0,302.6 645.5,303.1 646.0,303.6 646.5,304.1 647.0,304.6 647.5,305.2 648.0,305.7 648.5,306.3 649.0,306.8 649.5,307.4 650.0,307.9 650.5,308.5 651.0,309.0 651.5,309.6 652.0,310.2 652.5,310.8 653.0,311.4 653.5,312.0 654.0,312.6 654.5,313.2 655.0,313.8 655.5,314.4 656.0,315.0 656.5,315.6 657.0,316.3 657.5,316.9 658.0,317.5 658.5,318.2 659.0,318.8 659.5,319.5 660.0,320.1 660.5,320.8 661.0,321.4 661.5,322.1 662.0,322.8 662.5,323.4 663.0,324.1 663.5,324.8 664.0,325.5 664.5,326.2 665.0,326.9 665.5,327.6 666.0,328.3 666.5,329.0 667.0,329.7 667.5,330.4 668.0,331.2 668.5,331.9 669.0,332.6 669.5,333.4 670.0,334.1 670.5,334.8 671.0,335.6 671.5,336.3 672.0,337.1 672.5,337.8 673.0,338.6 673.5,339.4 674.0,340.1 674.5,340.9 675.0,341.7 675.5,342.4 676.0,343.2 676.5,344.0 677.0,344.8 677.5,345.6 678.0,346.4 678.5,347.2 679.0,348.0 679.5,348.8 680.0,349.6 680.5,350.4 681.0,351.2 681.5,352.1 682.0,352.9 682.5,353.7 683.0,354.5 683.5,355.4 684.0,356.2 684.5,357.0 685.0,357.9 685.5,358.7 686.0,359.6 686.5,360.4 687.0,361.3 687.5,362.1 688.0,363.0 688.5,363.9 689.0,364.7 689.5,365.6 690.0,366.5 690.5,367.3 691.0,368.2 691.5,369.1 692.0,370.0 692.5,370.9 693.0,371.8 693.5,372.6 694.0,373.5 694.5,374.4 695.0,375.3 695.5,376.2 696.0,377.1 696.5,378.0 697.0,379.0 697.5,379.9 698.0,380.8 698.5,381.7 699.0,382.6 699.5,383.5 700.0,384.5 700.5,385.4 701.0,386.3 701.5,387.3 702.0,388.2 702.5,389.1 703.0,390.1 703.5,391.0 704.0,391.9 704.5,392.9 705.0,393.8 705.5,394.8 706.0,395.7 706.5,396.7 707.0,397.6 707.5,398.6 708.0,399.6 708.5,400.5 709.0,401.5 709.5,402.4 710.0,403.4 710.5,404.4 711.0,405.4 711.5,406.3 712.0,407.3 712.5,408.3 713.0,409.3 713.5,410.2 714.0,411.2 714.5,412.2 715.0,413.2 715.5,414.2 716.0,415.2 716.5,416.2 717.0,417.1 717.5,418.1 718.0,419.1 718.5,420.1 719.0,421.1 719.5,422.1 720.0,423.1 720.5,424.1 721.0,425.1 721.5,426.1 722.0,427.1 722.5,428.1 723.0,429.2 723.5,430.2 724.0,431.2 724.5,432.2 725.0,433.2 725.5,434.2 726.0,435.2 726.5,436.2 727.0,437.3 727.5,438.3 728.0,439.3 728.5,440.3 729.0,441.3 729.5,442.4 730.0,443.4 730.5,444.4 731.0,445.4 731.5,446.5 732.0,447.5 732.5,448.5 733.0,449.5 733.5,450.6 734.0,451.6 734.5,452.6 735.0,453.7 735.5,454.7 736.0,455.7 736.5,456.8 737.0,457.8 737.5,458.8 738.0,459.9 738.5,460.9 739.0,461.9 739.5,463.0 740.0,464.0 740.5,465.1 741.0,466.1 741.5,467.1 742.0,468.2 742.5,469.2 743.0,470.2 743.5,471.3 744.0,472.3 744.5,473.4 745.0,474.4 745.5,475.4 746.0,476.5 746.5,477.5 747.0,478.6 747.5,479.6 748.0,480.6 748.5,481.7 749.0,482.7 749.5,483.8 750.0,484.8 750.5,485.8 751.0,486.9 751.5,487.9 752.0,489.0 752.5,490.0 753.0,491.0 753.5,492.1 754.0,493.1 754.5,494.2 755.0,495.2 755.5,496.2 756.0,497.3 756.5,498.3 757.0,499.4 757.5,500.4 758.0,501.4 758.5,502.5 759.0,503.5 759.5,504.5 760.0,505.6 760.5,506.6 761.0,507.6 761.5,508.7 762.0,509.7 762.5,510.7 763.0,511.8 763.5,512.8 764.0,513.8 764.5,514.9 765.0,515.9 765.5,516.9 766.0,518.0 766.5,519.0 767.0,520.0 767.5,521.0 768.0,522.1 768.5,523.1 769.0,524.1 769.5,525.2 770.0,526.2 770.5,527.2 771.0,528.2 771.5,529.3 772.0,530.3 772.5,531.3 773.0,532.3 773.5,533.3 774.0,534.4 774.5,535.4 775.0,536.4 775.5,537.4 776.0,538.4 776.5,539.5 777.0,540.5 777.5,541.5 778.0,542.5 778.5,543.5 779.0,544.5 779.5,545.5 780.0,546.6 780.5,547.6 781.0,548.6 781.5,549.6 782.0,550.6 782.5,551.6 783.0,552.6 783.5,553.6 784.0,554.6 784.5,555.6 785.0,556.6 785.5,557.6 786.0,558.6 786.5,559.6 787.0,560.6 787.5,561.6 788.0,562.6 788.5,563.6 789.0,564.6 789.5,565.6 790.0,566.6 790.5,567.6 791.0,568.6 791.5,569.6 792.0,570.6 792.5,571.6 793.0,572.6 793.5,573.6 794.0,574.5 794.5,575.5 795.0,576.5 795.5,577.5 796.0,578.5 796.5,579.5 797.0,580.4 797.5,581.4 798.0,582.4 798.5,583.4 799.0,584.4 799.5,585.3 800.0,586.3 800.5,587.3 801.0,588.2 801.5,589.2 802.0,590.2 802.5,591.2 803.0,592.1 803.5,593.1 804.0,594.1 804.5,595.0 805.0,596.0 805.5,596.9 806.0,597.9 806.5,598.9 807.0,599.8 807.5,600.8 808.0,601.7 808.5,602.7 809.0,603.6 809.5,604.6 810.0,605.5 810.5,606.5 811.0,607.4 811.5,608.4 812.0,609.3 812.5,610.3 813.0,611.2 813.5,612.1 814.0,613.1 814.5,614.0 815.0,615.0 815.5,615.9 816.0,616.8 816.5,617.8 817.0,618.7 817.5,619.6 818.0,620.5 818.5,621.5 819.0,622.4 819.5,623.3 820.0,624.2 820.5,625.2 821.0,626.1 821.5,627.0 822.0,627.9 822.5,628.8 823.0,629.7 823.5,630.7 824.0,631.6 824.5,632.5 825.0,633.4 825.5,634.3 826.0,635.2 826.5,636.1 827.0,637.0 827.5,637.9 828.0,638.8 828.5,639.7 829.0,640.6 829.5,641.5 830.0,642.4 830.5,643.2 831.0,644.1 831.5,645.0 832.0,645.9 832.5,646.8 833.0,647.7 833.5,648.5 834.0,649.4 834.5,650.3 835.0,651.2 835.5,652.0 836.0,652.9 836.5,653.8 837.0,654.6 837.5,655.5 838.0,656.4 838.5,657.2 839.0,658.1 839.5,658.9 840.0,659.8 840.5,660.7 841.0,661.5 841.5,662.4 842.0,663.2 842.5,664.0 843.0,664.9 843.5,665.7 844.0,666.6 844.5,667.4 845.0,668.3 845.5,669.1 846.0,669.9 846.5,670.7 847.0,671.6 847.5,672.4 848.0,673.2 848.5,674.1 849.0,674.9 849.5,675.7 850.0,676.5 850.5,677.3 851.0,678.1 851.5,678.9 852.0,679.8 852.5,680.6 853.0,681.4 853.5,682.2 854.0,683.0 854.5,683.8 855.0,684.6 855.5,685.4 856.0,686.1 856.5,686.9 857.0,687.7 857.5,688.5 858.0,689.3 858.5,690.1 859.0,690.8 859.5,691.6 860.0,692.4 860.5,693.2 861.0,693.9 861.5,694.7 862.0,695.5 862.5,696.2 863.0,697.0 863.5,697.8 864.0,698.5 864.5,699.3 865.0,700.0 865.5,700.8 866.0,701.5 866.5,702.3 867.0,703.0 867.5,703.8 868.0,704.5 868.5,705.2 869.0,706.0 869.5,706.7 870.0,707.4 870.5,708.2 871.0,708.9 871.5,709.6 872.0,710.4 872.5,711.1 873.0,711.8 873.5,712.5 874.0,713.2 874.5,713.9 875.0,714.7 875.5,715.4 876.0,716.1 876.5,716.8 877.0,717.5 877.5,718.2 878.0,718.9 878.5,719.6 879.0,720.3 879.5,721.0 880.0,721.7 880.5,722.4 881.0,723.1 881.5,723.7 882.0,724.4 882.5,725.1 883.0,725.8 883.5,726.5 884.0,727.1 884.5,727.8 885.0,728.5 885.5,729.2 886.0,729.8 886.5,730.5 887.0,731.2 887.5,731.8 888.0,732.5 888.5,733.1 889.0,733.8 889.5,734.5 890.0,735.1 890.5,735.8 891.0,736.4 891.5,737.1 892.0,737.7 892.5,738.4 893.0,739.0 893.5,739.6 894.0,740.3 894.5,740.9 895.0,741.6 895.5,742.2 896.0,742.8 896.5,743.4 897.0,744.1 897.5,744.7 898.0,745.3 898.5,746.0 899.0,746.6 899.5,747.2 900.0,747.8 900.5,748.4 901.0,749.0 901.5,749.7 902.0,750.3 902.5,750.9 903.0,751.5 903.5,752.1 904.0,752.7 904.5,753.3 905.0,753.9 905.5,754.5 906.0,755.1 906.5,755.7 907.0,756.3 907.5,756.9 908.0,757.4 908.5,758.0 909.0,758.6 909.5,759.2 910.0,759.8 910.5,760.4 911.0,761.0 911.5,761.5 912.0,762.1 912.5,762.7 913.0,763.3 913.5,763.8 914.0,764.4 914.5,765.0 915.0,765.5 915.5,766.1 916.0,766.7 916.5,767.2 917.0,767.8 917.5,768.3 918.0,768.9 918.5,769.4 919.0,770.0 919.5,770.5 920.0,771.1 920.5,771.6 921.0,772.2 921.5,772.7 922.0,773.3 922.5,773.8 923.0,774.4 923.5,774.9 924.0,775.4 924.5,776.0 925.0,776.5 925.5,777.0 926.0,777.6 926.5,778.1 927.0,778.6 927.5,779.1 928.0,779.7 928.5,780.2 929.0,780.7 929.5,781.2 930.0,781.8 930.5,782.3 931.0,782.8 931.5,783.3 932.0,783.8 932.5,784.3 933.0,784.8 933.5,785.3 934.0,785.8 934.5,786.4 935.0,786.9 935.5,787.4 936.0,787.9 936.5,788.4 937.0,788.9 937.5,789.4 938.0,789.8 938.5,790.3 939.0,790.8 939.5,791.3 940.0,791.8 940.5,792.3 941.0,792.8 941.5,793.3 942.0,793.7 942.5,794.2 943.0,794.7 943.5,795.2 944.0,795.7 944.5,796.1 945.0,796.6 945.5,797.1 946.0,797.6 946.5,798.0 947.0,798.5 947.5,799.0 948.0,799.4 948.5,799.9 949.0,800.4 949.5,800.8 950.0,801.3 950.5,801.7 951.0,802.2 951.5,802.7 952.0,803.1 952.5,803.6 953.0,804.0 953.5,804.5 954.0,804.9 954.5,805.4 955.0,805.8 955.5,806.3 956.0,806.7 956.5,807.2 957.0,807.6 957.5,808.0 958.0,808.5 958.5,808.9 959.0,809.4 959.5,809.8 960.0,810.2 960.5,810.7 961.0,811.1 961.5,811.5 962.0,812.0 962.5,812.4 963.0,812.8 963.5,813.2 964.0,813.7 964.5,814.1 965.0,814.5 965.5,814.9 966.0,815.4 966.5,815.8 967.0,816.2 967.5,816.6 968.0,817.0 968.5,817.4 969.0,817.9 969.5,818.3 970.0,818.7 970.5,819.1 971.0,819.5 971.5,819.9 972.0,820.3 972.5,820.7 973.0,821.1 973.5,821.5 974.0,821.9 974.5,822.3 975.0,822.7 975.5,823.1 976.0,823.5 976.5,823.9 977.0,824.3 977.5,824.7 978.0,825.1 978.5,825.5 979.0,825.9 979.5,826.3 980.0,826.7 980.5,827.0 981.0,827.4 981.5,827.8 982.0,828.2 982.5,828.6 983.0,829.0 983.5,829.3 984.0,829.7 984.5,830.1 985.0,830.5 985.5,830.9 986.0,831.2 986.5,831.6 987.0,832.0 987.5,832.4 988.0,832.7 988.5,833.1 989.0,833.5 989.5,833.8 990.0,834.2 990.5,834.6 991.0,834.9 991.5,835.3 992.0,835.7 992.5,836.0 993.0,836.4 993.5,836.7 994.0,837.1 994.5,837.5 995.0,837.8 995.5,838.2 996.0,838.5 996.5,838.9 997.0,839.2 997.5,839.6 998.0,839.9 998.5,840.3 999.0,840.6 999.5,841.0 1000.0,841.3 1000.5,841.7 1001.0,842.0 1001.5,842.4 1002.0,842.7 1002.5,843.1 1003.0,843.4 1003.5,843.7 1004.0,844.1 1004.5,844.4 1005.0,844.8 1005.5,845.1 1006.0,845.4 1006.5,845.8 1007.0,846.1 1007.5,846.4 1008.0,846.8 1008.5,847.1 1009.0,847.4 1009.5,847.8 1010.0,848.1 1010.5,848.4 1011.0,848.8 1011.5,849.1 1012.0,849.4 1012.5,849.7 1013.0,850.0 1013.5,850.4 1014.0,850.7 1014.5,851.0 1015.0,851.3 1015.5,851.6 1016.0,852.0 1016.5,852.3 1017.0,852.6 1017.5,852.9 1018.0,853.2 1018.5,853.5 1019.0,853.9 1019.5,854.2 1020.0,854.5 1020.5,854.8 1021.0,855.1 1021.5,855.4 1022.0,855.7 1022.5,856.0 1023.0,856.3 1023.5,856.6 1024.0,856.9 1024.5,857.2 1025.0,857.5 1025.5,857.8 1026.0,858.1 1026.5,858.4 1027.0,858.7 1027.5,859.0 1028.0,859.3 1028.5,859.6 1029.0,859.9 1029.5,860.2 1030.0,860.5 1030.5,860.8 1031.0,861.1 1031.5,861.4 1032.0,861.7 1032.5,861.9 1033.0,862.2 1033.5,862.5 1034.0,862.8 1034.5,863.1 1035.0,863.4 1035.5,863.7 1036.0,863.9 1036.5,864.2 1037.0,864.5 1037.5,864.8 1038.0,865.1 1038.5,865.3 1039.0,865.6 1039.5,865.9 1040.0,866.2 1040.5,866.4 1041.0,866.7 1041.5,867.0 1042.0,867.3 1042.5,867.5 1043.0,867.8 1043.5,868.1 1044.0,868.3 1044.5,868.6 1045.0,868.9 1045.5,869.1 1046.0,869.4 1046.5,869.7 1047.0,869.9 1047.5,870.2 1048.0,870.5 1048.5,870.7 1049.0,871.0 1049.5,871.3 1050.0,871.5 1050.5,871.8 1051.0,872.0 1051.5,872.3 1052.0,872.5 1052.5,872.8 1053.0,873.1 1053.5,873.3 1054.0,873.6 1054.5,873.8 1055.0,874.1 1055.5,874.3 1056.0,874.6 1056.5,874.8 1057.0,875.1 1057.5,875.3 1058.0,875.6 1058.5,875.8 1059.0,876.0 1059.5,876.3 1060.0,876.5 1060.5,876.8 1061.0,877.0 1061.5,877.3 1062.0,877.5 1062.5,877.7 1063.0,878.0 1063.5,878.2 1064.0,878.5 1064.5,878.7 1065.0,878.9 1065.5,879.2 1066.0,879.4 1066.5,879.6 1067.0,879.9 1067.5,880.1 1068.0,880.3 1068.5,880.6 1069.0,880.8 1069.5,881.0 1070.0,881.3 1070.5,881.5 1071.0,881.7 1071.5,881.9 1072.0,882.2 1072.5,882.4 1073.0,882.6 1073.5,882.8 1074.0,883.1 1074.5,883.3 1075.0,883.5 1075.5,883.7 1076.0,884.0 1076.5,884.2 1077.0,884.4 1077.5,884.6 1078.0,884.8 1078.5,885.1 1079.0,885.3 1079.5,885.5 1080.0,885.7 1080.5,885.9 1081.0,886.1 1081.5,886.3 1082.0,886.6 1082.5,886.8 1083.0,887.0 1083.5,887.2 1084.0,887.4 1084.5,887.6 1085.0,887.8 1085.5,888.0 1086.0,888.2 1086.5,888.4 1087.0,888.6 1087.5,888.9 1088.0,889.1 1088.5,889.3 1089.0,889.5 1089.5,889.7 1090.0,889.9 1090.5,890.1 1091.0,890.3 1091.5,890.5 1092.0,890.7 1092.5,890.9 1093.0,891.1 1093.5,891.3 1094.0,891.5 1094.5,891.7 1095.0,891.9 1095.5,892.0 1096.0,892.2 1096.5,892.4 1097.0,892.6 1097.5,892.8 1098.0,893.0 1098.5,893.2 1099.0,893.4 1099.5,893.6 1100.0,893.8 1100.5,894.0 1101.0,894.2 1101.5,894.3 1102.0,894.5 1102.5,894.7 1103.0,894.9 1103.5,895.1 1104.0,895.3 1104.5,895.5 1105.0,895.6 1105.5,895.8 1106.0,896.0 1106.5,896.2 1107.0,896.4 1107.5,896.5 1108.0,896.7 1108.5,896.9 1109.0,897.1 1109.5,897.3 1110.0,897.4 1110.5,897.6 1111.0,897.8 1111.5,898.0 1112.0,898.1 1112.5,898.3 1113.0,898.5 1113.5,898.7 1114.0,898.8 1114.5,899.0 1115.0,899.2 1115.5,899.4 1116.0,899.5 1116.5,899.7 1117.0,899.9 1117.5,900.0 1118.0,900.2 1118.5,900.4 1119.0,900.5 1119.5,900.7 1120.0,900.9 1120.5,901.0 1121.0,901.2 1121.5,901.4 1122.0,901.5 1122.5,901.7 1123.0,901.9 1123.5,902.0 1124.0,902.2 1124.5,902.4 1125.0,902.5 1125.5,902.7 1126.0,902.8 1126.5,903.0 1127.0,903.2 1127.5,903.3 1128.0,903.5 1128.5,903.6 1129.0,903.8 1129.5,903.9 1130.0,904.1 1130.5,904.3 1131.0,904.4 1131.5,904.6 1132.0,904.7 1132.5,904.9 1133.0,905.0 1133.5,905.2 1134.0,905.3 1134.5,905.5 1135.0,905.6 1135.5,905.8 1136.0,905.9 1136.5,906.1 1137.0,906.2 1137.5,906.4 1138.0,906.5 1138.5,906.7 1139.0,906.8 1139.5,907.0 1140.0,907.1 1140.5,907.3 1141.0,907.4 1141.5,907.6 1142.0,907.7 1142.5,907.8 1143.0,908.0 1143.5,908.1 1144.0,908.3 1144.5,908.4 1145.0,908.6 1145.5,908.7 1146.0,908.8 1146.5,909.0 1147.0,909.1 1147.5,909.3 1148.0,909.4 1148.5,909.5 1149.0,909.7 1149.5,909.8 1150.0,910.0 1150.5,910.1 1151.0,910.2 1151.5,910.4 1152.0,910.5 1152.5,910.6 1153.0,910.8 1153.5,910.9 1154.0,911.0 1154.5,911.2 1155.0,911.3 1155.5,911.4 1156.0,911.6 1156.5,911.7 1157.0,911.8 1157.5,912.0 1158.0,912.1 1158.5,912.2 1159.0,912.4 1159.5,912.5 1160.0,912.6 1160.5,912.7 1161.0,912.9 1161.5,913.0 1162.0,913.1 1162.5,913.3 1163.0,913.4 1163.5,913.5 1164.0,913.6 1164.5,913.8 1165.0,913.9 1165.5,914.0 1166.0,914.1 1166.5,914.3 1167.0,914.4 1167.5,914.5 1168.0,914.6 1168.5,914.8 1169.0,914.9 1169.5,915.0 1170.0,915.1 1170.5,915.2 1171.0,915.4 1171.5,915.5 1172.0,915.6 1172.5,915.7 1173.0,915.8 1173.5,916.0 1174.0,916.1 1174.5,916.2 1175.0,916.3 1175.5,916.4 1176.0,916.6 1176.5,916.7 1177.0,916.8 1177.5,916.9 1178.0,917.0 1178.5,917.1 1179.0,917.3 1179.5,917.4 1180.0,917.5 1180.5,917.6 1181.0,917.7 1181.5,917.8 1182.0,917.9 1182.5,918.1 1183.0,918.2 1183.5,918.3 1184.0,918.4 1184.5,918.5 1185.0,918.6 1185.5,918.7 1186.0,918.8 1186.5,919.0 1187.0,919.1 1187.5,919.2 1188.0,919.3 1188.5,919.4 1189.0,919.5 1189.5,919.6 1190.0,919.7 1190.5,919.8 1191.0,919.9 1191.5,920.0 1192.0,920.2 1192.5,920.3 1193.0,920.4 1193.5,920.5 1194.0,920.6 1194.5,920.7 1195.0,920.8 1195.5,920.9 1196.0,921.0 1196.5,921.1 1197.0,921.2 1197.5,921.3 1198.0,921.4 1198.5,921.5 1199.0,921.6 1199.5,921.7 1200.0,921.8 1200.5,922.0 1201.0,922.1 1201.5,922.2 1202.0,922.3 1202.5,922.4 1203.0,922.5 1203.5,922.6 1204.0,922.7 1204.5,922.8 1205.0,922.9 1205.5,923.0 1206.0,923.1 1206.5,923.2 1207.0,923.3 1207.5,923.4 1208.0,923.5 1208.5,923.6 1209.0,923.7 1209.5,923.8 1210.0,923.9 1210.5,924.0 1211.0,924.1 1211.5,924.2 1212.0,924.3 1212.5,924.4 1213.0,924.5 1213.5,924.6 1214.0,924.6 1214.5,924.7 1215.0,924.8 1215.5,924.9 1216.0,925.0 1216.5,925.1 1217.0,925.2 1217.5,925.3 1218.0,925.4 1218.5,925.5 1219.0,925.6 1219.5,925.7 1220.0,925.8 1220.5,925.9 1221.0,926.0 1221.5,926.1 1222.0,926.2 1222.5,926.3 1223.0,926.3 1223.5,926.4 1224.0,926.5 1224.5,926.6 1225.0,926.7 1225.5,926.8 1226.0,926.9 1226.5,927.0 1227.0,927.1 1227.5,927.2 1228.0,927.3 1228.5,927.3 1229.0,927.4 1229.5,927.5 1230.0,927.6 1230.5,927.7 1231.0,927.8 1231.5,927.9 1232.0,928.0 1232.5,928.1 1233.0,928.1 1233.5,928.2 1234.0,928.3 1234.5,928.4 1235.0,928.5 1235.5,928.6 1236.0,928.7 1236.5,928.8 1237.0,928.8 1237.5,928.9 1238.0,929.0 1238.5,929.1 1239.0,929.2 1239.5,929.3 1240.0,929.4 1240.5,929.4 1241.0,929.5 1241.5,929.6 1242.0,929.7 1242.5,929.8 1243.0,929.9 1243.5,929.9 1244.0,930.0 1244.5,930.1 1245.0,930.2 1245.5,930.3 1246.0,930.4 1246.5,930.4 1247.0,930.5 1247.5,930.6 1248.0,930.7 1248.5,930.8 1249.0,930.8 1249.5,930.9 1250.0,931.0 1250.5,931.1 1251.0,931.2 1251.5,931.2 1252.0,931.3 1252.5,931.4 1253.0,931.5 1253.5,931.6 1254.0,931.6 1254.5,931.7 1255.0,931.8 1255.5,931.9 1256.0,932.0 1256.5,932.0 1257.0,932.1 1257.5,932.2 1258.0,932.3 1258.5,932.3 1259.0,932.4 1259.5,932.5 1260.0,932.6 1260.5,932.6 1261.0,932.7 1261.5,932.8 1262.0,932.9 1262.5,932.9 1263.0,933.0 1263.5,933.1 1264.0,933.2 1264.5,933.2 1265.0,933.3 1265.5,933.4 1266.0,933.5 1266.5,933.5 1267.0,933.6 1267.5,933.7 1268.0,933.8 1268.5,933.8 1269.0,933.9 1269.5,934.0 1270.0,934.1 1270.5,934.1 1271.0,934.2 1271.5,934.3 1272.0,934.3 1272.5,934.4 1273.0,934.5 1273.5,934.6 1274.0,934.6 1274.5,934.7 1275.0,934.8 1275.5,934.8 1276.0,934.9 1276.5,935.0 1277.0,935.0 1277.5,935.1 1278.0,935.2 1278.5,935.3 1279.0,935.3 1279.5,935.4 1280.0,935.5 1280.5,935.5 1281.0,935.6 1281.5,935.7 1282.0,935.7 1282.5,935.8 1283.0,935.9 1283.5,935.9 1284.0,936.0 1284.5,936.1 1285.0,936.1 1285.5,936.2 1286.0,936.3 1286.5,936.3 1287.0,936.4 1287.5,936.5 1288.0,936.5 1288.5,936.6 1289.0,936.7 1289.5,936.7 1290.0,936.8 1290.5,936.9 1291.0,936.9 1291.5,937.0 1292.0,937.1 1292.5,937.1 1293.0,937.2 1293.5,937.2 1294.0,937.3 1294.5,937.4 1295.0,937.4 1295.5,937.5 1296.0,937.6 1296.5,937.6 1297.0,937.7 1297.5,937.8 1298.0,937.8 1298.5,937.9 1299.0,937.9 1299.5,938.0 1300.0,938.1 1300.5,938.1 1301.0,938.2 1301.5,938.2 1302.0,938.3 1302.5,938.4 1303.0,938.4 1303.5,938.5 1304.0,938.6 1304.5,938.6 1305.0,938.7 1305.5,938.7 1306.0,938.8 1306.5,938.9 1307.0,938.9 1307.5,939.0 1308.0,939.0 1308.5,939.1 1309.0,939.1 1309.5,939.2 1310.0,939.3 1310.5,939.3 1311.0,939.4 1311.5,939.4 1312.0,939.5 1312.5,939.6 1313.0,939.6 1313.5,939.7 1314.0,939.7 1314.5,939.8 1315.0,939.8 1315.5,939.9 1316.0,940.0 1316.5,940.0 1317.0,940.1 1317.5,940.1 1318.0,940.2 1318.5,940.2 1319.0,940.3 1319.5,940.4 1320.0,940.4 1320.5,940.5 1321.0,940.5 1321.5,940.6 1322.0,940.6 1322.5,940.7 1323.0,940.7 1323.5,940.8 1324.0,940.8 1324.5,940.9 1325.0,941.0 1325.5,941.0 1326.0,941.1 1326.5,941.1 1327.0,941.2 1327.5,941.2 1328.0,941.3 1328.5,941.3 1329.0,941.4 1329.5,941.4 1330.0,941.5 1330.5,941.5 1331.0,941.6 1331.5,941.6 1332.0,941.7 1332.5,941.8 1333.0,941.8 1333.5,941.9 1334.0,941.9 1334.5,942.0 1335.0,942.0 1335.5,942.1 1336.0,942.1 1336.5,942.2 1337.0,942.2 1337.5,942.3 1338.0,942.3 1338.5,942.4 1339.0,942.4 1339.5,942.5 1340.0,942.5 1340.5,942.6 1341.0,942.6 1341.5,942.7 1342.0,942.7 1342.5,942.8 1343.0,942.8 1343.5,942.9 1344.0,942.9 1344.5,943.0 1345.0,943.0 1345.5,943.1 1346.0,943.1 1346.5,943.2 1347.0,943.2 1347.5,943.3 1348.0,943.3 1348.5,943.4 1349.0,943.4 1349.5,943.4 1350.0,943.5 1350.5,943.5 1351.0,943.6 1351.5,943.6 1352.0,943.7 1352.5,943.7 1353.0,943.8 1353.5,943.8 1354.0,943.9 1354.5,943.9 1355.0,944.0 1355.5,944.0 1356.0,944.1 1356.5,944.1 1357.0,944.2 1357.5,944.2 1358.0,944.2 1358.5,944.3 1359.0,944.3 1359.5,944.4 1360.0,944.4 1360.5,944.5 1361.0,944.5 1361.5,944.6 1362.0,944.6 1362.5,944.7 1363.0,944.7 1363.5,944.7 1364.0,944.8 1364.5,944.8 1365.0,944.9 1365.5,944.9 1366.0,945.0 1366.5,945.0 1367.0,945.1 1367.5,945.1 1368.0,945.1 1368.5,945.2 1369.0,945.2 1369.5,945.3 1370.0,945.3 1370.5,945.4 1371.0,945.4 1371.5,945.4 1372.0,945.5 1372.5,945.5 1373.0,945.6 1373.5,945.6 1374.0,945.7 1374.5,945.7 1375.0,945.7 1375.5,945.8 1376.0,945.8 1376.5,945.9 1377.0,945.9 1377.5,946.0 1378.0,946.0 1378.5,946.0 1379.0,946.1 1379.5,946.1 1380.0,946.2 1380.5,946.2 1381.0,946.3 1381.5,946.3 1382.0,946.3 1382.5,946.4 1383.0,946.4 1383.5,946.5 1384.0,946.5 1384.5,946.5 1385.0,946.6 1385.5,946.6 1386.0,946.7 1386.5,946.7 1387.0,946.7 1387.5,946.8 1388.0,946.8 1388.5,946.9 1389.0,946.9 1389.5,946.9 1390.0,947.0 1390.5,947.0 1391.0,947.1 1391.5,947.1 1392.0,947.1 1392.5,947.2 1393.0,947.2 1393.5,947.3 1394.0,947.3 1394.5,947.3 1395.0,947.4 1395.5,947.4 1396.0,947.5 1396.5,947.5 1397.0,947.5 1397.5,947.6 1398.0,947.6 1398.5,947.7 1399.0,947.7 1399.5,947.7 1400.0,947.8 1400.5,947.8 1401.0,947.8 1401.5,947.9 1402.0,947.9 1402.5,948.0 1403.0,948.0 1403.5,948.0 1404.0,948.1 1404.5,948.1 1405.0,948.1 1405.5,948.2 1406.0,948.2 1406.5,948.3 1407.0,948.3 1407.5,948.3 1408.0,948.4 1408.5,948.4 1409.0,948.4 1409.5,948.5 1410.0,948.5 1410.5,948.6 1411.0,948.6 1411.5,948.6 1412.0,948.7 1412.5,948.7 1413.0,948.7 1413.5,948.8 1414.0,948.8 1414.5,948.9 1415.0,948.9 1415.5,948.9 1416.0,949.0 1416.5,949.0 1417.0,949.0 1417.5,949.1 1418.0,949.1 1418.5,949.1 1419.0,949.2 1419.5,949.2 1420.0,949.3 1420.5,949.3 1421.0,949.3 1421.5,949.4 1422.0,949.4 1422.5,949.4 1423.0,949.5 1423.5,949.5 1424.0,949.5 1424.5,949.6 1425.0,949.6 1425.5,949.6 1426.0,949.7 1426.5,949.7 1427.0,949.8 1427.5,949.8 1428.0,949.8 1428.5,949.9 1429.0,949.9 1429.5,949.9 1430.0,950.0 1430.5,950.0 1431.0,950.0 1431.5,950.1 1432.0,950.1 1432.5,950.1 1433.0,950.2 1433.5,950.2 1434.0,950.2 1434.5,950.3 1435.0,950.3 1435.5,950.3 1436.0,950.4 1436.5,950.4 1437.0,950.5 1437.5,950.5 1438.0,950.5 1438.5,950.6 1439.0,950.6 1439.5,950.6 1440.0,950.7 1440.5,950.7 1441.0,950.7 1441.5,950.8 1442.0,950.8 1442.5,950.8 1443.0,950.9 1443.5,950.9 1444.0,950.9 1444.5,951.0 1445.0,951.0 1445.5,951.0 1446.0,951.1 1446.5,951.1 1447.0,951.1 1447.5,951.2 1448.0,951.2 1448.5,951.2 1449.0,951.3 1449.5,951.3 1450.0,951.3 1450.5,951.4 1451.0,951.4 1451.5,951.4 1452.0,951.5 1452.5,951.5 1453.0,951.5 1453.5,951.6 1454.0,951.6 1454.5,951.6 1455.0,951.7 1455.5,951.7 1456.0,951.7 1456.5,951.8 1457.0,951.8 1457.5,951.8 1458.0,951.9 1458.5,951.9 1459.0,951.9 1459.5,952.0 1460.0,952.0 1460.5,952.0 1461.0,952.1 1461.5,952.1 1462.0,952.1 1462.5,952.2 1463.0,952.2 1463.5,952.2 1464.0,952.3 1464.5,952.3 1465.0,952.3 1465.5,952.4 1466.0,952.4 1466.5,952.4 1467.0,952.4 1467.5,952.5 1468.0,952.5 1468.5,952.5 1469.0,952.6 1469.5,952.6 1470.0,952.6 1470.5,952.7 1471.0,952.7 1471.5,952.7 1472.0,952.8 1472.5,952.8 1473.0,952.8 1473.5,952.9 1474.0,952.9 1474.5,952.9 1475.0,953.0 1475.5,953.0 1476.0,953.0 1476.5,953.0 1477.0,953.1 1477.5,953.1 1478.0,953.1 1478.5,953.2 1479.0,953.2 1479.5,953.2 1480.0,953.3 1480.5,953.3 1481.0,953.3 1481.5,953.4 1482.0,953.4 1482.5,953.4 1483.0,953.5 1483.5,953.5 1484.0,953.5 1484.5,953.5 1485.0,953.6 1485.5,953.6 1486.0,953.6 1486.5,953.7 1487.0,953.7 1487.5,953.7 1488.0,953.8 1488.5,953.8 1489.0,953.8 1489.5,953.8 1490.0,953.9 1490.5,953.9 1491.0,953.9 1491.5,954.0 1492.0,954.0 1492.5,954.0 1493.0,954.1 1493.5,954.1 1494.0,954.1 1494.5,954.1 1495.0,954.2 1495.5,954.2 1496.0,954.2 1496.5,954.3 1497.0,954.3 1497.5,954.3 1498.0,954.4 1498.5,954.4 1499.0,954.4 1499.5,954.4 1500.0,954.5 1500.5,954.5 1501.0,954.5 1501.5,954.6 1502.0,954.6 1502.5,954.6 1503.0,954.7 1503.5,954.7 1504.0,954.7 1504.5,954.7 1505.0,954.8 1505.5,954.8 1506.0,954.8 1506.5,954.9 1507.0,954.9 1507.5,954.9 1508.0,954.9 1508.5,955.0 1509.0,955.0 1509.5,955.0 1510.0,955.1 1510.5,955.1 1511.0,955.1 1511.5,955.1 1512.0,955.2 1512.5,955.2 1513.0,955.2 1513.5,955.3 1514.0,955.3 1514.5,955.3 1515.0,955.3 1515.5,955.4 1516.0,955.4 1516.5,955.4 1517.0,955.5 1517.5,955.5 1518.0,955.5 1518.5,955.5 1519.0,955.6 1519.5,955.6 1520.0,955.6 1520.5,955.7 1521.0,955.7 1521.5,955.7 1522.0,955.7 1522.5,955.8 1523.0,955.8 1523.5,955.8 1524.0,955.8 1524.5,955.9 1525.0,955.9 1525.5,955.9 1526.0,956.0 1526.5,956.0 1527.0,956.0 1527.5,956.0 1528.0,956.1 1528.5,956.1 1529.0,956.1 1529.5,956.2 1530.0,956.2 1530.5,956.2 1531.0,956.2 1531.5,956.3 1532.0,956.3 1532.5,956.3 1533.0,956.3 1533.5,956.4 1534.0,956.4 1534.5,956.4 1535.0,956.4 1535.5,956.5 1536.0,956.5 1536.5,956.5 1537.0,956.6 1537.5,956.6 1538.0,956.6 1538.5,956.6 1539.0,956.7 1539.5,956.7 1540.0,956.7 1540.5,956.7 1541.0,956.8 1541.5,956.8 1542.0,956.8 1542.5,956.8 1543.0,956.9 1543.5,956.9 1544.0,956.9 1544.5,957.0 1545.0,957.0 1545.5,957.0 1546.0,957.0 1546.5,957.1 1547.0,957.1 1547.5,957.1 1548.0,957.1 1548.5,957.2 1549.0,957.2 1549.5,957.2 1550.0,957.2 1550.5,957.3 1551.0,957.3 1551.5,957.3 1552.0,957.3 1552.5,957.4 1553.0,957.4 1553.5,957.4 1554.0,957.4 1554.5,957.5 1555.0,957.5 1555.5,957.5 1556.0,957.6 1556.5,957.6 1557.0,957.6 1557.5,957.6 1558.0,957.7 1558.5,957.7 1559.0,957.7 1559.5,957.7 1560.0,957.8 1560.5,957.8 1561.0,957.8 1561.5,957.8 1562.0,957.9 1562.5,957.9 1563.0,957.9 1563.5,957.9 1564.0,958.0 1564.5,958.0 1565.0,958.0 1565.5,958.0 1566.0,958.1 1566.5,958.1 1567.0,958.1 1567.5,958.1 1568.0,958.2 1568.5,958.2 1569.0,958.2 1569.5,958.2 1570.0,958.3 1570.5,958.3 1571.0,958.3 1571.5,958.3 1572.0,958.4 1572.5,958.4 1573.0,958.4 1573.5,958.4 1574.0,958.4 1574.5,958.5 1575.0,958.5 1575.5,958.5 1576.0,958.5 1576.5,958.6 1577.0,958.6 1577.5,958.6 1578.0,958.6 1578.5,958.7 1579.0,958.7 1579.5,958.7 1580.0,958.7 1580.5,958.8 1581.0,958.8 1581.5,958.8 1582.0,958.8 1582.5,958.9 1583.0,958.9 1583.5,958.9 1584.0,958.9 1584.5,959.0 1585.0,959.0 1585.5,959.0 1586.0,959.0 1586.5,959.0 1587.0,959.1 1587.5,959.1 1588.0,959.1 1588.5,959.1 1589.0,959.2 1589.5,959.2 1590.0,959.2 1590.5,959.2 1591.0,959.3 1591.5,959.3 1592.0,959.3 1592.5,959.3 1593.0,959.3 1593.5,959.4 1594.0,959.4 1594.5,959.4 1595.0,959.4 1595.5,959.5 1596.0,959.5 1596.5,959.5 1597.0,959.5 1597.5,959.6 1598.0,959.6 1598.5,959.6 1599.0,959.6 1599.5,959.6 1600.0,959.7 1600.5,959.7 1601.0,959.7 1601.5,959.7 1602.0,959.8 1602.5,959.8 1603.0,959.8 1603.5,959.8 1604.0,959.9 1604.5,959.9 1605.0,959.9 1605.5,959.9 1606.0,959.9 1606.5,960.0 1607.0,960.0 1607.5,960.0 1608.0,960.0 1608.5,960.1 1609.0,960.1 1609.5,960.1 1610.0,960.1 1610.5,960.1 1611.0,960.2 1611.5,960.2 1612.0,960.2 1612.5,960.2 1613.0,960.3 1613.5,960.3 1614.0,960.3 1614.5,960.3 1615.0,960.3 1615.5,960.4 1616.0,960.4 1616.5,960.4 1617.0,960.4 1617.5,960.4 1618.0,960.5 1618.5,960.5 1619.0,960.5 1619.5,960.5 1620.0,960.6 1620.5,960.6 1621.0,960.6 1621.5,960.6 1622.0,960.6 1622.5,960.7 1623.0,960.7 1623.5,960.7 1624.0,960.7 1624.5,960.7 1625.0,960.8 1625.5,960.8 1626.0,960.8 1626.5,960.8 1627.0,960.9 1627.5,960.9 1628.0,960.9 1628.5,960.9 1629.0,960.9 1629.5,961.0 1630.0,961.0 1630.5,961.0 1631.0,961.0 1631.5,961.0 1632.0,961.1 1632.5,961.1 1633.0,961.1 1633.5,961.1 1634.0,961.1 1634.5,961.2 1635.0,961.2 1635.5,961.2 1636.0,961.2 1636.5,961.3 1637.0,961.3 1637.5,961.3 1638.0,961.3 1638.5,961.3 1639.0,961.4 1639.5,961.4 1640.0,961.4 1640.5,961.4 1641.0,961.4 1641.5,961.5 1642.0,961.5 1642.5,961.5 1643.0,961.5 1643.5,961.5 1644.0,961.6 1644.5,961.6 1645.0,961.6 1645.5,961.6 1646.0,961.6 1646.5,961.7 1647.0,961.7 1647.5,961.7 1648.0,961.7 1648.5,961.7 1649.0,961.8 1649.5,961.8 1650.0,961.8 1650.5,961.8 1651.0,961.8 1651.5,961.9 1652.0,961.9 1652.5,961.9 1653.0,961.9 1653.5,961.9 1654.0,962.0 1654.5,962.0 1655.0,962.0 1655.5,962.0 1656.0,962.0 1656.5,962.1 1657.0,962.1 1657.5,962.1 1658.0,962.1 1658.5,962.1 1659.0,962.2 1659.5,962.2 1660.0,962.2 1660.5,962.2 1661.0,962.2 1661.5,962.2 1662.0,962.3 1662.5,962.3 1663.0,962.3 1663.5,962.3 1664.0,962.3 1664.5,962.4 1665.0,962.4 1665.5,962.4 1666.0,962.4 1666.5,962.4 1667.0,962.5 1667.5,962.5 1668.0,962.5 1668.5,962.5 1669.0,962.5 1669.5,962.6 1670.0,962.6 1670.5,962.6 1671.0,962.6 1671.5,962.6 1672.0,962.6 1672.5,962.7 1673.0,962.7 1673.5,962.7 1674.0,962.7 1674.5,962.7 1675.0,962.8 1675.5,962.8 1676.0,962.8 1676.5,962.8 1677.0,962.8 1677.5,962.9 1678.0,962.9 1678.5,962.9 1679.0,962.9 1679.5,962.9 1680.0,962.9 1680.5,963.0 1681.0,963.0 1681.5,963.0 1682.0,963.0 1682.5,963.0 1683.0,963.1 1683.5,963.1 1684.0,963.1 1684.5,963.1 1685.0,963.1 1685.5,963.1 1686.0,963.2 1686.5,963.2 1687.0,963.2 1687.5,963.2 1688.0,963.2 1688.5,963.3 1689.0,963.3 1689.5,963.3 1690.0,963.3 1690.5,963.3 1691.0,963.3 1691.5,963.4 1692.0,963.4 1692.5,963.4 1693.0,963.4 1693.5,963.4 1694.0,963.5 1694.5,963.5 1695.0,963.5 1695.5,963.5 1696.0,963.5 1696.5,963.5 1697.0,963.6 1697.5,963.6 1698.0,963.6 1698.5,963.6 1699.0,963.6 1699.5,963.6 1700.0,963.7 1700.5,963.7 1701.0,963.7 1701.5,963.7 1702.0,963.7 1702.5,963.7 1703.0,963.8 1703.5,963.8 1704.0,963.8 1704.5,963.8 1705.0,963.8 1705.5,963.9 1706.0,963.9 1706.5,963.9 1707.0,963.9 1707.5,963.9 1708.0,963.9 1708.5,964.0 1709.0,964.0 1709.5,964.0 1710.0,964.0 1710.5,964.0 1711.0,964.0 1711.5,964.1 1712.0,964.1 1712.5,964.1 1713.0,964.1 1713.5,964.1 1714.0,964.1 1714.5,964.2 1715.0,964.2 1715.5,964.2 1716.0,964.2 1716.5,964.2 1717.0,964.2 1717.5,964.3 1718.0,964.3 1718.5,964.3 1719.0,964.3 1719.5,964.3 1720.0,964.3 1720.5,964.4 1721.0,964.4 1721.5,964.4 1722.0,964.4 1722.5,964.4 1723.0,964.4 1723.5,964.5 1724.0,964.5 1724.5,964.5 1725.0,964.5 1725.5,964.5 1726.0,964.5 1726.5,964.6 1727.0,964.6 1727.5,964.6 1728.0,964.6 1728.5,964.6 1729.0,964.6 1729.5,964.7 1730.0,964.7 1730.5,964.7 1731.0,964.7 1731.5,964.7 1732.0,964.7 1732.5,964.8 1733.0,964.8 1733.5,964.8 1734.0,964.8 1734.5,964.8 1735.0,964.8 1735.5,964.8 1736.0,964.9 1736.5,964.9 1737.0,964.9 1737.5,964.9 1738.0,964.9 1738.5,964.9 1739.0,965.0 1739.5,965.0 1740.0,965.0 1740.5,965.0 1741.0,965.0 1741.5,965.0 1742.0,965.1 1742.5,965.1 1743.0,965.1 1743.5,965.1 1744.0,965.1 1744.5,965.1 1745.0,965.1 1745.5,965.2 1746.0,965.2 1746.5,965.2 1747.0,965.2 1747.5,965.2 1748.0,965.2 1748.5,965.3 1749.0,965.3 1749.5,965.3 1750.0,965.3 1750.5,965.3 1751.0,965.3 1751.5,965.3 1752.0,965.4 1752.5,965.4 1753.0,965.4 1753.5,965.4 1754.0,965.4 1754.5,965.4 1755.0,965.5 1755.5,965.5 1756.0,965.5 1756.5,965.5 1757.0,965.5 1757.5,965.5 1758.0,965.5 1758.5,965.6 1759.0,965.6 1759.5,965.6 1760.0,965.6 1760.5,965.6 1761.0,965.6 1761.5,965.6 1762.0,965.7 1762.5,965.7 1763.0,965.7 1763.5,965.7 1764.0,965.7 1764.5,965.7 1765.0,965.8 1765.5,965.8 1766.0,965.8 1766.5,965.8 1767.0,965.8 1767.5,965.8 1768.0,965.8 1768.5,965.9 1769.0,965.9 1769.5,965.9 1770.0,965.9 1770.5,965.9 1771.0,965.9 1771.5,965.9 1772.0,966.0 1772.5,966.0 1773.0,966.0 1773.5,966.0 1774.0,966.0 1774.5,966.0 1775.0,966.0 1775.5,966.1 1776.0,966.1 1776.5,966.1 1777.0,966.1 1777.5,966.1 1778.0,966.1 1778.5,966.1 1779.0,966.2 1779.5,966.2 1780.0,966.2 1780.5,966.2 1781.0,966.2 1781.5,966.2 1782.0,966.2 1782.5,966.3 1783.0,966.3 1783.5,966.3 1784.0,966.3 1784.5,966.3 1785.0,966.3 1785.5,966.3 1786.0,966.4 1786.5,966.4 1787.0,966.4 1787.5,966.4 1788.0,966.4 1788.5,966.4 1789.0,966.4 1789.5,966.5 1790.0,966.5 1790.5,966.5 1791.0,966.5 1791.5,966.5 1792.0,966.5 1792.5,966.5 1793.0,966.6 1793.5,966.6 1794.0,966.6 1794.5,966.6 1795.0,966.6 1795.5,966.6 1796.0,966.6 1796.5,966.7 1797.0,966.7 1797.5,966.7 1798.0,966.7 1798.5,966.7 1799.0,966.7 1799.5,966.7 1800.0,966.7 1800.5,966.8 1801.0,966.8 1801.5,966.8 1802.0,966.8 1802.5,966.8 1803.0,966.8 1803.5,966.8 1804.0,966.9 1804.5,966.9 1805.0,966.9 1805.5,966.9 1806.0,966.9 1806.5,966.9 1807.0,966.9 1807.5,967.0 1808.0,967.0 1808.5,967.0 1809.0,967.0 1809.5,967.0 1810.0,967.0 1810.5,967.0 1811.0,967.0 1811.5,967.1 1812.0,967.1 1812.5,967.1 1813.0,967.1 1813.5,967.1 1814.0,967.1 1814.5,967.1 1815.0,967.2 1815.5,967.2 1816.0,967.2 1816.5,967.2 1817.0,967.2 1817.5,967.2 1818.0,967.2 1818.5,967.2 1819.0,967.3 1819.5,967.3 1820.0,967.3 1820.5,967.3 1821.0,967.3 1821.5,967.3 1822.0,967.3 1822.5,967.3 1823.0,967.4 1823.5,967.4 1824.0,967.4 1824.5,967.4 1825.0,967.4 1825.5,967.4 1826.0,967.4 1826.5,967.5 1827.0,967.5 1827.5,967.5 1828.0,967.5 1828.5,967.5 1829.0,967.5 1829.5,967.5 1830.0,967.5 1830.5,967.6 1831.0,967.6 1831.5,967.6 1832.0,967.6 1832.5,967.6 1833.0,967.6 1833.5,967.6 1834.0,967.6 1834.5,967.7 1835.0,967.7 1835.5,967.7 1836.0,967.7 1836.5,967.7 1837.0,967.7 1837.5,967.7 1838.0,967.7 1838.5,967.8 1839.0,967.8 1839.5,967.8 1840.0,967.8 1840.5,967.8 1841.0,967.8 1841.5,967.8 1842.0,967.8 1842.5,967.9 1843.0,967.9 1843.5,967.9 1844.0,967.9 1844.5,967.9 1845.0,967.9 1845.5,967.9 1846.0,967.9 1846.5,968.0 1847.0,968.0 1847.5,968.0 1848.0,968.0 1848.5,968.0 1849.0,968.0 1849.5,968.0 1850.0,968.0 1850.5,968.1 1851.0,968.1 1851.5,968.1 1852.0,968.1 1852.5,968.1 1853.0,968.1 1853.5,968.1 1854.0,968.1 1854.5,968.2 1855.0,968.2 1855.5,968.2 1856.0,968.2 1856.5,968.2 1857.0,968.2 1857.5,968.2 1858.0,968.2 1858.5,968.3 1859.0,968.3 1859.5,968.3 1860.0,968.3 1860.5,968.3 1861.0,968.3 1861.5,968.3 1862.0,968.3 1862.5,968.3 1863.0,968.4 1863.5,968.4 1864.0,968.4 1864.5,968.4 1865.0,968.4 1865.5,968.4 1866.0,968.4 1866.5,968.4 1867.0,968.5 1867.5,968.5 1868.0,968.5 1868.5,968.5 1869.0,968.5 1869.5,968.5 1870.0,968.5 1870.5,968.5 1871.0,968.6 1871.5,968.6 1872.0,968.6 1872.5,968.6 1873.0,968.6 1873.5,968.6 1874.0,968.6 1874.5,968.6 1875.0,968.6 1875.5,968.7 1876.0,968.7 1876.5,968.7 1877.0,968.7 1877.5,968.7 1878.0,968.7 1878.5,968.7 1879.0,968.7 1879.5,968.8 1880.0,968.8 1880.5,968.8 1881.0,968.8 1881.5,968.8 1882.0,968.8 1882.5,968.8 1883.0,968.8 1883.5,968.8 1884.0,968.9 1884.5,968.9 1885.0,968.9 1885.5,968.9 1886.0,968.9 1886.5,968.9 1887.0,968.9 1887.5,968.9 1888.0,968.9 1888.5,969.0 1889.0,969.0 1889.5,969.0 1890.0,969.0 1890.5,969.0 1891.0,969.0 1891.5,969.0 1892.0,969.0 1892.5,969.1 1893.0,969.1 1893.5,969.1 1894.0,969.1 1894.5,969.1 1895.0,969.1 1895.5,969.1 1896.0,969.1 1896.5,969.1 1897.0,969.2 1897.5,969.2 1898.0,969.2 1898.5,969.2 1899.0,969.2 1899.5,969.2 1900.0,969.2 1900.5,969.2 1901.0,969.2 1901.5,969.3 1902.0,969.3 1902.5,969.3 1903.0,969.3 1903.5,969.3 1904.0,969.3 1904.5,969.3 1905.0,969.3 1905.5,969.3 1906.0,969.4 1906.5,969.4 1907.0,969.4 1907.5,969.4 1908.0,969.4 1908.5,969.4 1909.0,969.4 1909.5,969.4 1910.0,969.4 1910.5,969.5 1911.0,969.5 1911.5,969.5 1912.0,969.5 1912.5,969.5 1913.0,969.5 1913.5,969.5 1914.0,969.5 1914.5,969.5 1915.0,969.6 1915.5,969.6 1916.0,969.6 1916.5,969.6 1917.0,969.6 1917.5,969.6 1918.0,969.6 1918.5,969.6 1919.0,969.6 1919.5,969.7 1920.0,969.7 1920.5,969.7 1921.0,969.7 1921.5,969.7 1922.0,969.7 1922.5,969.7 1923.0,969.7 1923.5,969.7 1924.0,969.8 1924.5,969.8 1925.0,969.8 1925.5,969.8 1926.0,969.8 1926.5,969.8 1927.0,969.8 1927.5,969.8 1928.0,969.8 1928.5,969.9 1929.0,969.9 1929.5,969.9 1930.0,969.9 1930.5,969.9 1931.0,969.9 1931.5,969.9 1932.0,969.9 1932.5,969.9 1933.0,970.0 1933.5,970.0 1934.0,970.0 1934.5,970.0 1935.0,970.0 1935.5,970.0 1936.0,970.0 1936.5,970.0 1937.0,970.0 1937.5,970.1" fill="none" stroke="#00f" stroke-width="6.0" stroke-linejoin="round" stroke-linecap="butt"/>
<rect x="307.90" y="61.90" width="1630.50" height="1201.10" fill="none" stroke="#000" stroke-width="4.3" stroke-linejoin="miter"/>
<path d="M307.90,1263.00H283.90M307.90,1142.89H295.90M307.90,1022.78H283.90M307.90,902.67H295.90M307.90,782.56H283.90M307.90,662.45H295.90M307.90,542.34H283.90M307.90,422.23H295.90M307.90,302.12H283.90M307.90,182.01H295.90M307.90,61.90H283.90M307.90,1263.00V1275.60M489.07,1263.00V1287.00M670.23,1263.00V1275.60M851.40,1263.00V1287.00M1032.57,1263.00V1275.60M1213.73,1263.00V1287.00M1394.90,1263.00V1275.60M1576.07,1263.00V1287.00M1757.23,1263.00V1275.60M1938.40,1263.00V1287.00" fill="none" stroke="#000" stroke-width="4.3" stroke-linecap="round"/>
<text x="267.5" y="1282.5" text-anchor="end" class="t">0.0</text>
<text x="267.5" y="1042.3" text-anchor="end" class="t">0.5</text>
<text x="267.5" y="802.1" text-anchor="end" class="t">1.0</text>
<text x="267.5" y="561.8" text-anchor="end" class="t">1.5</text>
<text x="267.5" y="321.6" text-anchor="end" class="t">2.0</text>
<text x="267.5" y="81.4" text-anchor="end" class="t">2.5</text>
<text x="489.1" y="1353.8" text-anchor="middle" class="t">400</text>
<text x="851.4" y="1353.8" text-anchor="middle" class="t">500</text>
<text x="1213.7" y="1353.8" text-anchor="middle" class="t">600</text>
<text x="1576.1" y="1353.8" text-anchor="middle" class="t">700</text>
<text x="1938.4" y="1353.8" text-anchor="middle" class="t">800</text>
<text transform="translate(79.2,709.0) rotate(-90)" text-anchor="middle" class="h">Absorbance</text>
<text x="1124.7" y="1466.6" text-anchor="middle" class="h">Wavelength (nm)</text>
<path d="M1536.2,175.8H1678.6" stroke="#000" stroke-width="5.8" stroke-linecap="round"/>
<text x="1695.5" y="197.6" class="l">20 <tspan dy="-1.8">°</tspan><tspan dy="1.8">C</tspan></text>
<path d="M1536.2,254.5H1678.6" stroke="#f00" stroke-width="5.8" stroke-linecap="round"/>
<text x="1695.5" y="276.3" class="l">60 <tspan dy="-1.8">°</tspan><tspan dy="1.8">C</tspan></text>
<path d="M1536.2,332.9H1678.6" stroke="#00f" stroke-width="5.8" stroke-linecap="round"/>
<text x="1695.5" y="354.6" class="l">100 <tspan dy="-1.8">°</tspan><tspan dy="1.8">C</tspan></text>
</svg>
</body></html>
